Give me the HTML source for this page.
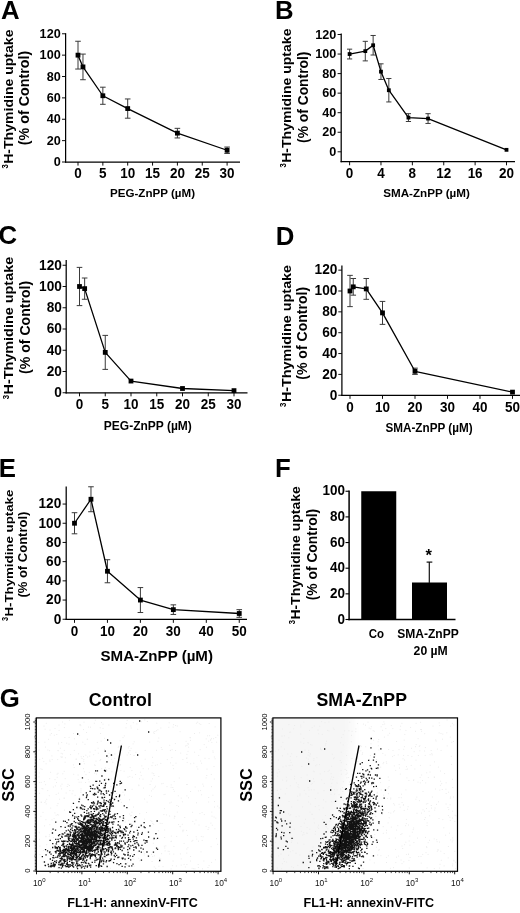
<!DOCTYPE html>
<html lang="en"><head><meta charset="utf-8"><title>Figure</title>
<style>html,body{margin:0;padding:0;background:#fff}body{width:520px;height:913px;overflow:hidden}svg{display:block;will-change:transform;filter:blur(0.35px)}text{font-family:'Liberation Sans', Arial, Helvetica, sans-serif}</style></head><body>
<svg width="520" height="913" viewBox="0 0 520 913">
<rect width="520" height="913" fill="#fff"/>
<g id="panelA">
<text transform="translate(1 18.5) scale(0.98 1)" font-size="26.3" font-weight="bold" text-anchor="start" fill="#000">A</text>
<line x1="65.6" y1="33.17" x2="65.6" y2="162.62" stroke="#000" stroke-width="1.25" stroke-linecap="butt"/>
<line x1="64.97" y1="162" x2="240" y2="162" stroke="#000" stroke-width="1.25" stroke-linecap="butt"/>
<line x1="62" y1="162" x2="65.6" y2="162" stroke="#000" stroke-width="0.95" stroke-linecap="butt"/>
<text transform="translate(60.7 166) scale(0.95 1)" font-size="13.3" font-weight="bold" text-anchor="end" fill="#000">0</text>
<line x1="62" y1="140.63" x2="65.6" y2="140.63" stroke="#000" stroke-width="0.95" stroke-linecap="butt"/>
<text transform="translate(60.7 144.63) scale(0.95 1)" font-size="13.3" font-weight="bold" text-anchor="end" fill="#000">20</text>
<line x1="62" y1="119.26" x2="65.6" y2="119.26" stroke="#000" stroke-width="0.95" stroke-linecap="butt"/>
<text transform="translate(60.7 123.26) scale(0.95 1)" font-size="13.3" font-weight="bold" text-anchor="end" fill="#000">40</text>
<line x1="62" y1="97.89" x2="65.6" y2="97.89" stroke="#000" stroke-width="0.95" stroke-linecap="butt"/>
<text transform="translate(60.7 101.89) scale(0.95 1)" font-size="13.3" font-weight="bold" text-anchor="end" fill="#000">60</text>
<line x1="62" y1="76.52" x2="65.6" y2="76.52" stroke="#000" stroke-width="0.95" stroke-linecap="butt"/>
<text transform="translate(60.7 80.52) scale(0.95 1)" font-size="13.3" font-weight="bold" text-anchor="end" fill="#000">80</text>
<line x1="62" y1="55.15" x2="65.6" y2="55.15" stroke="#000" stroke-width="0.95" stroke-linecap="butt"/>
<text transform="translate(60.7 59.15) scale(0.95 1)" font-size="13.3" font-weight="bold" text-anchor="end" fill="#000">100</text>
<line x1="62" y1="33.78" x2="65.6" y2="33.78" stroke="#000" stroke-width="0.95" stroke-linecap="butt"/>
<text transform="translate(60.7 37.78) scale(0.95 1)" font-size="13.3" font-weight="bold" text-anchor="end" fill="#000">120</text>
<line x1="78" y1="162" x2="78" y2="165.6" stroke="#000" stroke-width="0.95" stroke-linecap="butt"/>
<text transform="translate(78 178.3) scale(0.95 1)" font-size="14.2" font-weight="bold" text-anchor="middle" fill="#000">0</text>
<line x1="102.85" y1="162" x2="102.85" y2="165.6" stroke="#000" stroke-width="0.95" stroke-linecap="butt"/>
<text transform="translate(102.85 178.3) scale(0.95 1)" font-size="14.2" font-weight="bold" text-anchor="middle" fill="#000">5</text>
<line x1="127.7" y1="162" x2="127.7" y2="165.6" stroke="#000" stroke-width="0.95" stroke-linecap="butt"/>
<text transform="translate(127.7 178.3) scale(0.95 1)" font-size="14.2" font-weight="bold" text-anchor="middle" fill="#000">10</text>
<line x1="152.55" y1="162" x2="152.55" y2="165.6" stroke="#000" stroke-width="0.95" stroke-linecap="butt"/>
<text transform="translate(152.55 178.3) scale(0.95 1)" font-size="14.2" font-weight="bold" text-anchor="middle" fill="#000">15</text>
<line x1="177.4" y1="162" x2="177.4" y2="165.6" stroke="#000" stroke-width="0.95" stroke-linecap="butt"/>
<text transform="translate(177.4 178.3) scale(0.95 1)" font-size="14.2" font-weight="bold" text-anchor="middle" fill="#000">20</text>
<line x1="202.25" y1="162" x2="202.25" y2="165.6" stroke="#000" stroke-width="0.95" stroke-linecap="butt"/>
<text transform="translate(202.25 178.3) scale(0.95 1)" font-size="14.2" font-weight="bold" text-anchor="middle" fill="#000">25</text>
<line x1="227.1" y1="162" x2="227.1" y2="165.6" stroke="#000" stroke-width="0.95" stroke-linecap="butt"/>
<text transform="translate(227.1 178.3) scale(0.95 1)" font-size="14.2" font-weight="bold" text-anchor="middle" fill="#000">30</text>
<line x1="78" y1="41.26" x2="78" y2="69.04" stroke="#3a3a3a" stroke-width="1" stroke-linecap="butt"/>
<line x1="75.2" y1="41.26" x2="80.8" y2="41.26" stroke="#3a3a3a" stroke-width="1" stroke-linecap="butt"/>
<line x1="75.2" y1="69.04" x2="80.8" y2="69.04" stroke="#3a3a3a" stroke-width="1" stroke-linecap="butt"/>
<line x1="82.97" y1="54.08" x2="82.97" y2="79.73" stroke="#3a3a3a" stroke-width="1" stroke-linecap="butt"/>
<line x1="80.17" y1="54.08" x2="85.77" y2="54.08" stroke="#3a3a3a" stroke-width="1" stroke-linecap="butt"/>
<line x1="80.17" y1="79.73" x2="85.77" y2="79.73" stroke="#3a3a3a" stroke-width="1" stroke-linecap="butt"/>
<line x1="102.85" y1="87.2" x2="102.85" y2="104.3" stroke="#3a3a3a" stroke-width="1" stroke-linecap="butt"/>
<line x1="100.05" y1="87.2" x2="105.65" y2="87.2" stroke="#3a3a3a" stroke-width="1" stroke-linecap="butt"/>
<line x1="100.05" y1="104.3" x2="105.65" y2="104.3" stroke="#3a3a3a" stroke-width="1" stroke-linecap="butt"/>
<line x1="127.7" y1="98.96" x2="127.7" y2="118.19" stroke="#3a3a3a" stroke-width="1" stroke-linecap="butt"/>
<line x1="124.9" y1="98.96" x2="130.5" y2="98.96" stroke="#3a3a3a" stroke-width="1" stroke-linecap="butt"/>
<line x1="124.9" y1="118.19" x2="130.5" y2="118.19" stroke="#3a3a3a" stroke-width="1" stroke-linecap="butt"/>
<line x1="177.4" y1="128.34" x2="177.4" y2="137.96" stroke="#3a3a3a" stroke-width="1" stroke-linecap="butt"/>
<line x1="174.6" y1="128.34" x2="180.2" y2="128.34" stroke="#3a3a3a" stroke-width="1" stroke-linecap="butt"/>
<line x1="174.6" y1="137.96" x2="180.2" y2="137.96" stroke="#3a3a3a" stroke-width="1" stroke-linecap="butt"/>
<line x1="227.1" y1="147.04" x2="227.1" y2="153.45" stroke="#3a3a3a" stroke-width="1" stroke-linecap="butt"/>
<line x1="224.3" y1="147.04" x2="229.9" y2="147.04" stroke="#3a3a3a" stroke-width="1" stroke-linecap="butt"/>
<line x1="224.3" y1="153.45" x2="229.9" y2="153.45" stroke="#3a3a3a" stroke-width="1" stroke-linecap="butt"/>
<polyline points="78,55.15 82.97,66.9 102.85,95.75 127.7,108.58 177.4,133.15 227.1,150.25" fill="none" stroke="#000" stroke-width="1.3" stroke-linejoin="round"/>
<rect x="75.6" y="52.75" width="4.8" height="4.8" fill="#000"/>
<rect x="80.57" y="64.5" width="4.8" height="4.8" fill="#000"/>
<rect x="100.45" y="93.35" width="4.8" height="4.8" fill="#000"/>
<rect x="125.3" y="106.17" width="4.8" height="4.8" fill="#000"/>
<rect x="175" y="130.75" width="4.8" height="4.8" fill="#000"/>
<rect x="224.7" y="147.85" width="4.8" height="4.8" fill="#000"/>
<text transform="translate(8.1 168.5) scale(1 1) rotate(-90)" font-size="8.8" font-weight="bold" text-anchor="start" fill="#000" textLength="4.3" lengthAdjust="spacingAndGlyphs">3</text>
<text transform="translate(12.8 163.8) scale(0.87 1) rotate(-90)" font-size="14" font-weight="bold" text-anchor="start" fill="#000" textLength="134.3" lengthAdjust="spacingAndGlyphs">H-Thymidine uptake</text>
<text transform="translate(28.8 145.2) scale(0.98 1) rotate(-90)" font-size="14" font-weight="bold" text-anchor="start" fill="#000" textLength="94.5" lengthAdjust="spacingAndGlyphs">(% of Control)</text>
<text transform="translate(110 197) scale(1 1)" font-size="11.7" font-weight="bold" text-anchor="start" fill="#000" textLength="85" lengthAdjust="spacingAndGlyphs">PEG-ZnPP (µM)</text>
</g>
<g id="panelB">
<text transform="translate(274.9 18.5) scale(0.98 1)" font-size="26.3" font-weight="bold" text-anchor="start" fill="#000">B</text>
<line x1="341.2" y1="33.58" x2="341.2" y2="162.32" stroke="#000" stroke-width="1.25" stroke-linecap="butt"/>
<line x1="340.57" y1="161.7" x2="515" y2="161.7" stroke="#000" stroke-width="1.25" stroke-linecap="butt"/>
<line x1="337.6" y1="151.8" x2="341.2" y2="151.8" stroke="#000" stroke-width="0.95" stroke-linecap="butt"/>
<text transform="translate(336.3 155.8) scale(0.95 1)" font-size="13.3" font-weight="bold" text-anchor="end" fill="#000">0</text>
<line x1="337.6" y1="132.25" x2="341.2" y2="132.25" stroke="#000" stroke-width="0.95" stroke-linecap="butt"/>
<text transform="translate(336.3 136.25) scale(0.95 1)" font-size="13.3" font-weight="bold" text-anchor="end" fill="#000">20</text>
<line x1="337.6" y1="112.7" x2="341.2" y2="112.7" stroke="#000" stroke-width="0.95" stroke-linecap="butt"/>
<text transform="translate(336.3 116.7) scale(0.95 1)" font-size="13.3" font-weight="bold" text-anchor="end" fill="#000">40</text>
<line x1="337.6" y1="93.15" x2="341.2" y2="93.15" stroke="#000" stroke-width="0.95" stroke-linecap="butt"/>
<text transform="translate(336.3 97.15) scale(0.95 1)" font-size="13.3" font-weight="bold" text-anchor="end" fill="#000">60</text>
<line x1="337.6" y1="73.6" x2="341.2" y2="73.6" stroke="#000" stroke-width="0.95" stroke-linecap="butt"/>
<text transform="translate(336.3 77.6) scale(0.95 1)" font-size="13.3" font-weight="bold" text-anchor="end" fill="#000">80</text>
<line x1="337.6" y1="54.05" x2="341.2" y2="54.05" stroke="#000" stroke-width="0.95" stroke-linecap="butt"/>
<text transform="translate(336.3 58.05) scale(0.95 1)" font-size="13.3" font-weight="bold" text-anchor="end" fill="#000">100</text>
<line x1="337.6" y1="34.5" x2="341.2" y2="34.5" stroke="#000" stroke-width="0.95" stroke-linecap="butt"/>
<text transform="translate(336.3 38.5) scale(0.95 1)" font-size="13.3" font-weight="bold" text-anchor="end" fill="#000">120</text>
<line x1="349.6" y1="161.7" x2="349.6" y2="165.3" stroke="#000" stroke-width="0.95" stroke-linecap="butt"/>
<text transform="translate(349.6 178.3) scale(0.95 1)" font-size="14.2" font-weight="bold" text-anchor="middle" fill="#000">0</text>
<line x1="380.98" y1="161.7" x2="380.98" y2="165.3" stroke="#000" stroke-width="0.95" stroke-linecap="butt"/>
<text transform="translate(380.98 178.3) scale(0.95 1)" font-size="14.2" font-weight="bold" text-anchor="middle" fill="#000">4</text>
<line x1="412.36" y1="161.7" x2="412.36" y2="165.3" stroke="#000" stroke-width="0.95" stroke-linecap="butt"/>
<text transform="translate(412.36 178.3) scale(0.95 1)" font-size="14.2" font-weight="bold" text-anchor="middle" fill="#000">8</text>
<line x1="443.74" y1="161.7" x2="443.74" y2="165.3" stroke="#000" stroke-width="0.95" stroke-linecap="butt"/>
<text transform="translate(443.74 178.3) scale(0.95 1)" font-size="14.2" font-weight="bold" text-anchor="middle" fill="#000">12</text>
<line x1="475.12" y1="161.7" x2="475.12" y2="165.3" stroke="#000" stroke-width="0.95" stroke-linecap="butt"/>
<text transform="translate(475.12 178.3) scale(0.95 1)" font-size="14.2" font-weight="bold" text-anchor="middle" fill="#000">16</text>
<line x1="506.5" y1="161.7" x2="506.5" y2="165.3" stroke="#000" stroke-width="0.95" stroke-linecap="butt"/>
<text transform="translate(506.5 178.3) scale(0.95 1)" font-size="14.2" font-weight="bold" text-anchor="middle" fill="#000">20</text>
<line x1="349.6" y1="49.16" x2="349.6" y2="58.94" stroke="#3a3a3a" stroke-width="1" stroke-linecap="butt"/>
<line x1="347" y1="49.16" x2="352.2" y2="49.16" stroke="#3a3a3a" stroke-width="1" stroke-linecap="butt"/>
<line x1="347" y1="58.94" x2="352.2" y2="58.94" stroke="#3a3a3a" stroke-width="1" stroke-linecap="butt"/>
<line x1="365.29" y1="41.34" x2="365.29" y2="60.89" stroke="#3a3a3a" stroke-width="1" stroke-linecap="butt"/>
<line x1="362.69" y1="41.34" x2="367.89" y2="41.34" stroke="#3a3a3a" stroke-width="1" stroke-linecap="butt"/>
<line x1="362.69" y1="60.89" x2="367.89" y2="60.89" stroke="#3a3a3a" stroke-width="1" stroke-linecap="butt"/>
<line x1="373.14" y1="35.48" x2="373.14" y2="55.03" stroke="#3a3a3a" stroke-width="1" stroke-linecap="butt"/>
<line x1="370.54" y1="35.48" x2="375.74" y2="35.48" stroke="#3a3a3a" stroke-width="1" stroke-linecap="butt"/>
<line x1="370.54" y1="55.03" x2="375.74" y2="55.03" stroke="#3a3a3a" stroke-width="1" stroke-linecap="butt"/>
<line x1="380.98" y1="63.83" x2="380.98" y2="79.47" stroke="#3a3a3a" stroke-width="1" stroke-linecap="butt"/>
<line x1="378.38" y1="63.83" x2="383.58" y2="63.83" stroke="#3a3a3a" stroke-width="1" stroke-linecap="butt"/>
<line x1="378.38" y1="79.47" x2="383.58" y2="79.47" stroke="#3a3a3a" stroke-width="1" stroke-linecap="butt"/>
<line x1="388.83" y1="78.49" x2="388.83" y2="101.95" stroke="#3a3a3a" stroke-width="1" stroke-linecap="butt"/>
<line x1="386.23" y1="78.49" x2="391.43" y2="78.49" stroke="#3a3a3a" stroke-width="1" stroke-linecap="butt"/>
<line x1="386.23" y1="101.95" x2="391.43" y2="101.95" stroke="#3a3a3a" stroke-width="1" stroke-linecap="butt"/>
<line x1="408.44" y1="113.68" x2="408.44" y2="121.5" stroke="#3a3a3a" stroke-width="1" stroke-linecap="butt"/>
<line x1="405.84" y1="113.68" x2="411.04" y2="113.68" stroke="#3a3a3a" stroke-width="1" stroke-linecap="butt"/>
<line x1="405.84" y1="121.5" x2="411.04" y2="121.5" stroke="#3a3a3a" stroke-width="1" stroke-linecap="butt"/>
<line x1="428.05" y1="113.68" x2="428.05" y2="123.45" stroke="#3a3a3a" stroke-width="1" stroke-linecap="butt"/>
<line x1="425.45" y1="113.68" x2="430.65" y2="113.68" stroke="#3a3a3a" stroke-width="1" stroke-linecap="butt"/>
<line x1="425.45" y1="123.45" x2="430.65" y2="123.45" stroke="#3a3a3a" stroke-width="1" stroke-linecap="butt"/>
<polyline points="349.6,54.05 365.29,51.12 373.14,45.25 380.98,71.65 388.83,90.22 408.44,117.59 428.05,118.57 506.5,149.84" fill="none" stroke="#000" stroke-width="1.3" stroke-linejoin="round"/>
<rect x="347.7" y="52.15" width="3.8" height="3.8" fill="#000"/>
<rect x="363.39" y="49.22" width="3.8" height="3.8" fill="#000"/>
<rect x="371.24" y="43.35" width="3.8" height="3.8" fill="#000"/>
<rect x="379.08" y="69.75" width="3.8" height="3.8" fill="#000"/>
<rect x="386.93" y="88.32" width="3.8" height="3.8" fill="#000"/>
<rect x="406.54" y="115.69" width="3.8" height="3.8" fill="#000"/>
<rect x="426.15" y="116.67" width="3.8" height="3.8" fill="#000"/>
<rect x="504.6" y="147.94" width="3.8" height="3.8" fill="#000"/>
<text transform="translate(286.3 167.5) scale(1 1) rotate(-90)" font-size="8.8" font-weight="bold" text-anchor="start" fill="#000" textLength="4.3" lengthAdjust="spacingAndGlyphs">3</text>
<text transform="translate(291 162.8) scale(0.87 1) rotate(-90)" font-size="14" font-weight="bold" text-anchor="start" fill="#000" textLength="134.3" lengthAdjust="spacingAndGlyphs">H-Thymidine uptake</text>
<text transform="translate(307.6 142.9) scale(0.98 1) rotate(-90)" font-size="14" font-weight="bold" text-anchor="start" fill="#000" textLength="91.3" lengthAdjust="spacingAndGlyphs">(% of Control)</text>
<text transform="translate(383.2 197.2) scale(1 1)" font-size="11.8" font-weight="bold" text-anchor="start" fill="#000" textLength="86.7" lengthAdjust="spacingAndGlyphs">SMA-ZnPP (µM)</text>
</g>
<g id="panelC">
<text transform="translate(-1.5 244.4) scale(0.98 1)" font-size="26.3" font-weight="bold" text-anchor="start" fill="#000">C</text>
<line x1="66.2" y1="259.88" x2="66.2" y2="393.38" stroke="#000" stroke-width="1.25" stroke-linecap="butt"/>
<line x1="65.58" y1="392.75" x2="247.5" y2="392.75" stroke="#000" stroke-width="1.25" stroke-linecap="butt"/>
<line x1="62.6" y1="392.75" x2="66.2" y2="392.75" stroke="#000" stroke-width="0.95" stroke-linecap="butt"/>
<text transform="translate(61.9 397.08) scale(0.95 1)" font-size="14.4" font-weight="bold" text-anchor="end" fill="#000">0</text>
<line x1="62.6" y1="371.5" x2="66.2" y2="371.5" stroke="#000" stroke-width="0.95" stroke-linecap="butt"/>
<text transform="translate(61.9 375.83) scale(0.95 1)" font-size="14.4" font-weight="bold" text-anchor="end" fill="#000">20</text>
<line x1="62.6" y1="350.25" x2="66.2" y2="350.25" stroke="#000" stroke-width="0.95" stroke-linecap="butt"/>
<text transform="translate(61.9 354.58) scale(0.95 1)" font-size="14.4" font-weight="bold" text-anchor="end" fill="#000">40</text>
<line x1="62.6" y1="329" x2="66.2" y2="329" stroke="#000" stroke-width="0.95" stroke-linecap="butt"/>
<text transform="translate(61.9 333.33) scale(0.95 1)" font-size="14.4" font-weight="bold" text-anchor="end" fill="#000">60</text>
<line x1="62.6" y1="307.75" x2="66.2" y2="307.75" stroke="#000" stroke-width="0.95" stroke-linecap="butt"/>
<text transform="translate(61.9 312.08) scale(0.95 1)" font-size="14.4" font-weight="bold" text-anchor="end" fill="#000">80</text>
<line x1="62.6" y1="286.5" x2="66.2" y2="286.5" stroke="#000" stroke-width="0.95" stroke-linecap="butt"/>
<text transform="translate(61.9 290.83) scale(0.95 1)" font-size="14.4" font-weight="bold" text-anchor="end" fill="#000">100</text>
<line x1="62.6" y1="265.25" x2="66.2" y2="265.25" stroke="#000" stroke-width="0.95" stroke-linecap="butt"/>
<text transform="translate(61.9 269.58) scale(0.95 1)" font-size="14.4" font-weight="bold" text-anchor="end" fill="#000">120</text>
<line x1="79.5" y1="392.75" x2="79.5" y2="396.35" stroke="#000" stroke-width="0.95" stroke-linecap="butt"/>
<text transform="translate(79.5 409) scale(0.95 1)" font-size="14.2" font-weight="bold" text-anchor="middle" fill="#000">0</text>
<line x1="105.25" y1="392.75" x2="105.25" y2="396.35" stroke="#000" stroke-width="0.95" stroke-linecap="butt"/>
<text transform="translate(105.25 409) scale(0.95 1)" font-size="14.2" font-weight="bold" text-anchor="middle" fill="#000">5</text>
<line x1="131" y1="392.75" x2="131" y2="396.35" stroke="#000" stroke-width="0.95" stroke-linecap="butt"/>
<text transform="translate(131 409) scale(0.95 1)" font-size="14.2" font-weight="bold" text-anchor="middle" fill="#000">10</text>
<line x1="156.75" y1="392.75" x2="156.75" y2="396.35" stroke="#000" stroke-width="0.95" stroke-linecap="butt"/>
<text transform="translate(156.75 409) scale(0.95 1)" font-size="14.2" font-weight="bold" text-anchor="middle" fill="#000">15</text>
<line x1="182.5" y1="392.75" x2="182.5" y2="396.35" stroke="#000" stroke-width="0.95" stroke-linecap="butt"/>
<text transform="translate(182.5 409) scale(0.95 1)" font-size="14.2" font-weight="bold" text-anchor="middle" fill="#000">20</text>
<line x1="208.25" y1="392.75" x2="208.25" y2="396.35" stroke="#000" stroke-width="0.95" stroke-linecap="butt"/>
<text transform="translate(208.25 409) scale(0.95 1)" font-size="14.2" font-weight="bold" text-anchor="middle" fill="#000">25</text>
<line x1="234" y1="392.75" x2="234" y2="396.35" stroke="#000" stroke-width="0.95" stroke-linecap="butt"/>
<text transform="translate(234 409) scale(0.95 1)" font-size="14.2" font-weight="bold" text-anchor="middle" fill="#000">30</text>
<line x1="79.5" y1="267.38" x2="79.5" y2="305.62" stroke="#3a3a3a" stroke-width="1" stroke-linecap="butt"/>
<line x1="76.7" y1="267.38" x2="82.3" y2="267.38" stroke="#3a3a3a" stroke-width="1" stroke-linecap="butt"/>
<line x1="76.7" y1="305.62" x2="82.3" y2="305.62" stroke="#3a3a3a" stroke-width="1" stroke-linecap="butt"/>
<line x1="84.65" y1="278" x2="84.65" y2="299.25" stroke="#3a3a3a" stroke-width="1" stroke-linecap="butt"/>
<line x1="81.85" y1="278" x2="87.45" y2="278" stroke="#3a3a3a" stroke-width="1" stroke-linecap="butt"/>
<line x1="81.85" y1="299.25" x2="87.45" y2="299.25" stroke="#3a3a3a" stroke-width="1" stroke-linecap="butt"/>
<line x1="105.25" y1="335.38" x2="105.25" y2="369.38" stroke="#3a3a3a" stroke-width="1" stroke-linecap="butt"/>
<line x1="102.45" y1="335.38" x2="108.05" y2="335.38" stroke="#3a3a3a" stroke-width="1" stroke-linecap="butt"/>
<line x1="102.45" y1="369.38" x2="108.05" y2="369.38" stroke="#3a3a3a" stroke-width="1" stroke-linecap="butt"/>
<polyline points="79.5,286.5 84.65,288.62 105.25,352.38 131,381.06 182.5,388.5 234,390.62" fill="none" stroke="#000" stroke-width="1.3" stroke-linejoin="round"/>
<rect x="77.1" y="284.1" width="4.8" height="4.8" fill="#000"/>
<rect x="82.25" y="286.23" width="4.8" height="4.8" fill="#000"/>
<rect x="102.85" y="349.98" width="4.8" height="4.8" fill="#000"/>
<rect x="128.6" y="378.66" width="4.8" height="4.8" fill="#000"/>
<rect x="180.1" y="386.1" width="4.8" height="4.8" fill="#000"/>
<rect x="231.6" y="388.23" width="4.8" height="4.8" fill="#000"/>
<text transform="translate(8.5 399.3) scale(1 1) rotate(-90)" font-size="8.99" font-weight="bold" text-anchor="start" fill="#000" textLength="4.39" lengthAdjust="spacingAndGlyphs">3</text>
<text transform="translate(13.3 394.51) scale(0.87 1) rotate(-90)" font-size="14.3" font-weight="bold" text-anchor="start" fill="#000" textLength="137.71" lengthAdjust="spacingAndGlyphs">H-Thymidine uptake</text>
<text transform="translate(30.4 373.9) scale(0.98 1) rotate(-90)" font-size="14" font-weight="bold" text-anchor="start" fill="#000" textLength="93" lengthAdjust="spacingAndGlyphs">(% of Control)</text>
<text transform="translate(103.8 429.6) scale(1 1)" font-size="11.9" font-weight="bold" text-anchor="start" fill="#000" textLength="88" lengthAdjust="spacingAndGlyphs">PEG-ZnPP (µM)</text>
</g>
<g id="panelD">
<text transform="translate(275.7 244.6) scale(0.98 1)" font-size="26.3" font-weight="bold" text-anchor="start" fill="#000">D</text>
<line x1="341.9" y1="265.38" x2="341.9" y2="395.88" stroke="#000" stroke-width="1.25" stroke-linecap="butt"/>
<line x1="341.27" y1="395.25" x2="520" y2="395.25" stroke="#000" stroke-width="1.25" stroke-linecap="butt"/>
<line x1="338.3" y1="395.25" x2="341.9" y2="395.25" stroke="#000" stroke-width="0.95" stroke-linecap="butt"/>
<text transform="translate(337.4 399.58) scale(0.95 1)" font-size="14.4" font-weight="bold" text-anchor="end" fill="#000">0</text>
<line x1="338.3" y1="374.4" x2="341.9" y2="374.4" stroke="#000" stroke-width="0.95" stroke-linecap="butt"/>
<text transform="translate(337.4 378.73) scale(0.95 1)" font-size="14.4" font-weight="bold" text-anchor="end" fill="#000">20</text>
<line x1="338.3" y1="353.55" x2="341.9" y2="353.55" stroke="#000" stroke-width="0.95" stroke-linecap="butt"/>
<text transform="translate(337.4 357.88) scale(0.95 1)" font-size="14.4" font-weight="bold" text-anchor="end" fill="#000">40</text>
<line x1="338.3" y1="332.7" x2="341.9" y2="332.7" stroke="#000" stroke-width="0.95" stroke-linecap="butt"/>
<text transform="translate(337.4 337.03) scale(0.95 1)" font-size="14.4" font-weight="bold" text-anchor="end" fill="#000">60</text>
<line x1="338.3" y1="311.85" x2="341.9" y2="311.85" stroke="#000" stroke-width="0.95" stroke-linecap="butt"/>
<text transform="translate(337.4 316.18) scale(0.95 1)" font-size="14.4" font-weight="bold" text-anchor="end" fill="#000">80</text>
<line x1="338.3" y1="291" x2="341.9" y2="291" stroke="#000" stroke-width="0.95" stroke-linecap="butt"/>
<text transform="translate(337.4 295.33) scale(0.95 1)" font-size="14.4" font-weight="bold" text-anchor="end" fill="#000">100</text>
<line x1="338.3" y1="270.15" x2="341.9" y2="270.15" stroke="#000" stroke-width="0.95" stroke-linecap="butt"/>
<text transform="translate(337.4 274.48) scale(0.95 1)" font-size="14.4" font-weight="bold" text-anchor="end" fill="#000">120</text>
<line x1="350" y1="395.25" x2="350" y2="398.85" stroke="#000" stroke-width="0.95" stroke-linecap="butt"/>
<text transform="translate(350 411.5) scale(0.95 1)" font-size="14.2" font-weight="bold" text-anchor="middle" fill="#000">0</text>
<line x1="382.5" y1="395.25" x2="382.5" y2="398.85" stroke="#000" stroke-width="0.95" stroke-linecap="butt"/>
<text transform="translate(382.5 411.5) scale(0.95 1)" font-size="14.2" font-weight="bold" text-anchor="middle" fill="#000">10</text>
<line x1="415" y1="395.25" x2="415" y2="398.85" stroke="#000" stroke-width="0.95" stroke-linecap="butt"/>
<text transform="translate(415 411.5) scale(0.95 1)" font-size="14.2" font-weight="bold" text-anchor="middle" fill="#000">20</text>
<line x1="447.5" y1="395.25" x2="447.5" y2="398.85" stroke="#000" stroke-width="0.95" stroke-linecap="butt"/>
<text transform="translate(447.5 411.5) scale(0.95 1)" font-size="14.2" font-weight="bold" text-anchor="middle" fill="#000">30</text>
<line x1="480" y1="395.25" x2="480" y2="398.85" stroke="#000" stroke-width="0.95" stroke-linecap="butt"/>
<text transform="translate(480 411.5) scale(0.95 1)" font-size="14.2" font-weight="bold" text-anchor="middle" fill="#000">40</text>
<line x1="512.5" y1="395.25" x2="512.5" y2="398.85" stroke="#000" stroke-width="0.95" stroke-linecap="butt"/>
<text transform="translate(512.5 411.5) scale(0.95 1)" font-size="14.2" font-weight="bold" text-anchor="middle" fill="#000">50</text>
<line x1="350" y1="275.36" x2="350" y2="306.64" stroke="#3a3a3a" stroke-width="1" stroke-linecap="butt"/>
<line x1="347.2" y1="275.36" x2="352.8" y2="275.36" stroke="#3a3a3a" stroke-width="1" stroke-linecap="butt"/>
<line x1="347.2" y1="306.64" x2="352.8" y2="306.64" stroke="#3a3a3a" stroke-width="1" stroke-linecap="butt"/>
<line x1="353.25" y1="278.49" x2="353.25" y2="295.17" stroke="#3a3a3a" stroke-width="1" stroke-linecap="butt"/>
<line x1="350.45" y1="278.49" x2="356.05" y2="278.49" stroke="#3a3a3a" stroke-width="1" stroke-linecap="butt"/>
<line x1="350.45" y1="295.17" x2="356.05" y2="295.17" stroke="#3a3a3a" stroke-width="1" stroke-linecap="butt"/>
<line x1="366.25" y1="278.49" x2="366.25" y2="299.34" stroke="#3a3a3a" stroke-width="1" stroke-linecap="butt"/>
<line x1="363.45" y1="278.49" x2="369.05" y2="278.49" stroke="#3a3a3a" stroke-width="1" stroke-linecap="butt"/>
<line x1="363.45" y1="299.34" x2="369.05" y2="299.34" stroke="#3a3a3a" stroke-width="1" stroke-linecap="butt"/>
<line x1="382.5" y1="301.42" x2="382.5" y2="324.36" stroke="#3a3a3a" stroke-width="1" stroke-linecap="butt"/>
<line x1="379.7" y1="301.42" x2="385.3" y2="301.42" stroke="#3a3a3a" stroke-width="1" stroke-linecap="butt"/>
<line x1="379.7" y1="324.36" x2="385.3" y2="324.36" stroke="#3a3a3a" stroke-width="1" stroke-linecap="butt"/>
<line x1="415" y1="368.14" x2="415" y2="374.4" stroke="#3a3a3a" stroke-width="1" stroke-linecap="butt"/>
<line x1="412.2" y1="368.14" x2="417.8" y2="368.14" stroke="#3a3a3a" stroke-width="1" stroke-linecap="butt"/>
<line x1="412.2" y1="374.4" x2="417.8" y2="374.4" stroke="#3a3a3a" stroke-width="1" stroke-linecap="butt"/>
<polyline points="350,291 353.25,286.83 366.25,288.91 382.5,312.89 415,371.27 512.5,392.12" fill="none" stroke="#000" stroke-width="1.3" stroke-linejoin="round"/>
<rect x="347.6" y="288.6" width="4.8" height="4.8" fill="#000"/>
<rect x="350.85" y="284.43" width="4.8" height="4.8" fill="#000"/>
<rect x="363.85" y="286.51" width="4.8" height="4.8" fill="#000"/>
<rect x="380.1" y="310.49" width="4.8" height="4.8" fill="#000"/>
<rect x="412.6" y="368.87" width="4.8" height="4.8" fill="#000"/>
<rect x="510.1" y="389.72" width="4.8" height="4.8" fill="#000"/>
<text transform="translate(285.9 406.9) scale(1 1) rotate(-90)" font-size="8.99" font-weight="bold" text-anchor="start" fill="#000" textLength="4.39" lengthAdjust="spacingAndGlyphs">3</text>
<text transform="translate(290.7 402.11) scale(0.87 1) rotate(-90)" font-size="14.3" font-weight="bold" text-anchor="start" fill="#000" textLength="137.21" lengthAdjust="spacingAndGlyphs">H-Thymidine uptake</text>
<text transform="translate(307.3 379.8) scale(0.98 1) rotate(-90)" font-size="14" font-weight="bold" text-anchor="start" fill="#000" textLength="93" lengthAdjust="spacingAndGlyphs">(% of Control)</text>
<text transform="translate(385.4 431.7) scale(1 1)" font-size="11.9" font-weight="bold" text-anchor="start" fill="#000" textLength="87.2" lengthAdjust="spacingAndGlyphs">SMA-ZnPP (µM)</text>
</g>
<g id="panelE">
<text transform="translate(-1.2 476.6) scale(0.98 1)" font-size="26.3" font-weight="bold" text-anchor="start" fill="#000">E</text>
<line x1="66.2" y1="486.38" x2="66.2" y2="619.88" stroke="#000" stroke-width="1.25" stroke-linecap="butt"/>
<line x1="65.58" y1="619.25" x2="247" y2="619.25" stroke="#000" stroke-width="1.25" stroke-linecap="butt"/>
<line x1="62.6" y1="619.25" x2="66.2" y2="619.25" stroke="#000" stroke-width="0.95" stroke-linecap="butt"/>
<text transform="translate(61.3 623.58) scale(0.95 1)" font-size="14.4" font-weight="bold" text-anchor="end" fill="#000">0</text>
<line x1="62.6" y1="600.05" x2="66.2" y2="600.05" stroke="#000" stroke-width="0.95" stroke-linecap="butt"/>
<text transform="translate(61.3 604.38) scale(0.95 1)" font-size="14.4" font-weight="bold" text-anchor="end" fill="#000">20</text>
<line x1="62.6" y1="580.85" x2="66.2" y2="580.85" stroke="#000" stroke-width="0.95" stroke-linecap="butt"/>
<text transform="translate(61.3 585.18) scale(0.95 1)" font-size="14.4" font-weight="bold" text-anchor="end" fill="#000">40</text>
<line x1="62.6" y1="561.65" x2="66.2" y2="561.65" stroke="#000" stroke-width="0.95" stroke-linecap="butt"/>
<text transform="translate(61.3 565.98) scale(0.95 1)" font-size="14.4" font-weight="bold" text-anchor="end" fill="#000">60</text>
<line x1="62.6" y1="542.45" x2="66.2" y2="542.45" stroke="#000" stroke-width="0.95" stroke-linecap="butt"/>
<text transform="translate(61.3 546.78) scale(0.95 1)" font-size="14.4" font-weight="bold" text-anchor="end" fill="#000">80</text>
<line x1="62.6" y1="523.25" x2="66.2" y2="523.25" stroke="#000" stroke-width="0.95" stroke-linecap="butt"/>
<text transform="translate(61.3 527.58) scale(0.95 1)" font-size="14.4" font-weight="bold" text-anchor="end" fill="#000">100</text>
<line x1="62.6" y1="504.05" x2="66.2" y2="504.05" stroke="#000" stroke-width="0.95" stroke-linecap="butt"/>
<text transform="translate(61.3 508.38) scale(0.95 1)" font-size="14.4" font-weight="bold" text-anchor="end" fill="#000">120</text>
<line x1="74.5" y1="619.25" x2="74.5" y2="622.85" stroke="#000" stroke-width="0.95" stroke-linecap="butt"/>
<text transform="translate(74.5 636) scale(0.95 1)" font-size="14.2" font-weight="bold" text-anchor="middle" fill="#000">0</text>
<line x1="107.45" y1="619.25" x2="107.45" y2="622.85" stroke="#000" stroke-width="0.95" stroke-linecap="butt"/>
<text transform="translate(107.45 636) scale(0.95 1)" font-size="14.2" font-weight="bold" text-anchor="middle" fill="#000">10</text>
<line x1="140.4" y1="619.25" x2="140.4" y2="622.85" stroke="#000" stroke-width="0.95" stroke-linecap="butt"/>
<text transform="translate(140.4 636) scale(0.95 1)" font-size="14.2" font-weight="bold" text-anchor="middle" fill="#000">20</text>
<line x1="173.35" y1="619.25" x2="173.35" y2="622.85" stroke="#000" stroke-width="0.95" stroke-linecap="butt"/>
<text transform="translate(173.35 636) scale(0.95 1)" font-size="14.2" font-weight="bold" text-anchor="middle" fill="#000">30</text>
<line x1="206.3" y1="619.25" x2="206.3" y2="622.85" stroke="#000" stroke-width="0.95" stroke-linecap="butt"/>
<text transform="translate(206.3 636) scale(0.95 1)" font-size="14.2" font-weight="bold" text-anchor="middle" fill="#000">40</text>
<line x1="239.25" y1="619.25" x2="239.25" y2="622.85" stroke="#000" stroke-width="0.95" stroke-linecap="butt"/>
<text transform="translate(239.25 636) scale(0.95 1)" font-size="14.2" font-weight="bold" text-anchor="middle" fill="#000">50</text>
<line x1="74.5" y1="512.69" x2="74.5" y2="533.81" stroke="#3a3a3a" stroke-width="1" stroke-linecap="butt"/>
<line x1="71.7" y1="512.69" x2="77.3" y2="512.69" stroke="#3a3a3a" stroke-width="1" stroke-linecap="butt"/>
<line x1="71.7" y1="533.81" x2="77.3" y2="533.81" stroke="#3a3a3a" stroke-width="1" stroke-linecap="butt"/>
<line x1="90.97" y1="486.77" x2="90.97" y2="511.73" stroke="#3a3a3a" stroke-width="1" stroke-linecap="butt"/>
<line x1="88.17" y1="486.77" x2="93.77" y2="486.77" stroke="#3a3a3a" stroke-width="1" stroke-linecap="butt"/>
<line x1="88.17" y1="511.73" x2="93.77" y2="511.73" stroke="#3a3a3a" stroke-width="1" stroke-linecap="butt"/>
<line x1="107.45" y1="559.73" x2="107.45" y2="582.77" stroke="#3a3a3a" stroke-width="1" stroke-linecap="butt"/>
<line x1="104.65" y1="559.73" x2="110.25" y2="559.73" stroke="#3a3a3a" stroke-width="1" stroke-linecap="butt"/>
<line x1="104.65" y1="582.77" x2="110.25" y2="582.77" stroke="#3a3a3a" stroke-width="1" stroke-linecap="butt"/>
<line x1="140.4" y1="587.57" x2="140.4" y2="612.53" stroke="#3a3a3a" stroke-width="1" stroke-linecap="butt"/>
<line x1="137.6" y1="587.57" x2="143.2" y2="587.57" stroke="#3a3a3a" stroke-width="1" stroke-linecap="butt"/>
<line x1="137.6" y1="612.53" x2="143.2" y2="612.53" stroke="#3a3a3a" stroke-width="1" stroke-linecap="butt"/>
<line x1="173.35" y1="604.85" x2="173.35" y2="614.45" stroke="#3a3a3a" stroke-width="1" stroke-linecap="butt"/>
<line x1="170.55" y1="604.85" x2="176.15" y2="604.85" stroke="#3a3a3a" stroke-width="1" stroke-linecap="butt"/>
<line x1="170.55" y1="614.45" x2="176.15" y2="614.45" stroke="#3a3a3a" stroke-width="1" stroke-linecap="butt"/>
<line x1="239.25" y1="609.65" x2="239.25" y2="617.33" stroke="#3a3a3a" stroke-width="1" stroke-linecap="butt"/>
<line x1="236.45" y1="609.65" x2="242.05" y2="609.65" stroke="#3a3a3a" stroke-width="1" stroke-linecap="butt"/>
<line x1="236.45" y1="617.33" x2="242.05" y2="617.33" stroke="#3a3a3a" stroke-width="1" stroke-linecap="butt"/>
<polyline points="74.5,523.25 90.97,499.25 107.45,571.25 140.4,600.05 173.35,609.65 239.25,613.49" fill="none" stroke="#000" stroke-width="1.3" stroke-linejoin="round"/>
<rect x="72.1" y="520.85" width="4.8" height="4.8" fill="#000"/>
<rect x="88.57" y="496.85" width="4.8" height="4.8" fill="#000"/>
<rect x="105.05" y="568.85" width="4.8" height="4.8" fill="#000"/>
<rect x="138" y="597.65" width="4.8" height="4.8" fill="#000"/>
<rect x="170.95" y="607.25" width="4.8" height="4.8" fill="#000"/>
<rect x="236.85" y="611.09" width="4.8" height="4.8" fill="#000"/>
<text transform="translate(8.04 621.1) scale(1 1) rotate(-90)" font-size="8.36" font-weight="bold" text-anchor="start" fill="#000" textLength="4.08" lengthAdjust="spacingAndGlyphs">3</text>
<text transform="translate(12.5 616.62) scale(0.85 1) rotate(-90)" font-size="13.3" font-weight="bold" text-anchor="start" fill="#000" textLength="127.02" lengthAdjust="spacingAndGlyphs">H-Thymidine uptake</text>
<text transform="translate(26.5 597.6) scale(0.95 1) rotate(-90)" font-size="13" font-weight="bold" text-anchor="start" fill="#000" textLength="86" lengthAdjust="spacingAndGlyphs">(% of Control)</text>
<text transform="translate(100.5 660.5) scale(1 1)" font-size="15.2" font-weight="bold" text-anchor="start" fill="#000" textLength="112.5" lengthAdjust="spacingAndGlyphs">SMA-ZnPP (µM)</text>
</g>
<g id="panelF">
<text transform="translate(274.9 476.6) scale(0.98 1)" font-size="26.3" font-weight="bold" text-anchor="start" fill="#000">F</text>
<line x1="349.1" y1="490.5" x2="349.1" y2="620.25" stroke="#000" stroke-width="1.5" stroke-linecap="butt"/>
<line x1="348.35" y1="619.5" x2="455.5" y2="619.5" stroke="#000" stroke-width="1.5" stroke-linecap="butt"/>
<line x1="345.5" y1="619.5" x2="349.1" y2="619.5" stroke="#000" stroke-width="1.1" stroke-linecap="butt"/>
<text transform="translate(344.9 623.7) scale(0.95 1)" font-size="14.2" font-weight="bold" text-anchor="end" fill="#000">0</text>
<line x1="345.5" y1="593.85" x2="349.1" y2="593.85" stroke="#000" stroke-width="1.1" stroke-linecap="butt"/>
<text transform="translate(344.9 598.05) scale(0.95 1)" font-size="14.2" font-weight="bold" text-anchor="end" fill="#000">20</text>
<line x1="345.5" y1="568.2" x2="349.1" y2="568.2" stroke="#000" stroke-width="1.1" stroke-linecap="butt"/>
<text transform="translate(344.9 572.4) scale(0.95 1)" font-size="14.2" font-weight="bold" text-anchor="end" fill="#000">40</text>
<line x1="345.5" y1="542.55" x2="349.1" y2="542.55" stroke="#000" stroke-width="1.1" stroke-linecap="butt"/>
<text transform="translate(344.9 546.75) scale(0.95 1)" font-size="14.2" font-weight="bold" text-anchor="end" fill="#000">60</text>
<line x1="345.5" y1="516.9" x2="349.1" y2="516.9" stroke="#000" stroke-width="1.1" stroke-linecap="butt"/>
<text transform="translate(344.9 521.1) scale(0.95 1)" font-size="14.2" font-weight="bold" text-anchor="end" fill="#000">80</text>
<line x1="345.5" y1="491.25" x2="349.1" y2="491.25" stroke="#000" stroke-width="1.1" stroke-linecap="butt"/>
<text transform="translate(344.9 495.45) scale(0.95 1)" font-size="14.2" font-weight="bold" text-anchor="end" fill="#000">100</text>
<rect x="361.25" y="491.25" width="35" height="128.65" fill="#000"/>
<rect x="412" y="582.5" width="35" height="37.4" fill="#000"/>
<line x1="429.3" y1="562" x2="429.3" y2="583" stroke="#111" stroke-width="1.2" stroke-linecap="butt"/>
<line x1="426.6" y1="562.1" x2="432.3" y2="562.1" stroke="#111" stroke-width="1.2" stroke-linecap="butt"/>
<text transform="translate(428.7 560.8) scale(1 1)" font-size="16.5" font-weight="bold" text-anchor="middle" fill="#000">*</text>
<text transform="translate(368.7 638.3) scale(1 1)" font-size="12.1" font-weight="bold" text-anchor="start" fill="#000" textLength="15.3" lengthAdjust="spacingAndGlyphs">Co</text>
<text transform="translate(397.2 638.3) scale(1 1)" font-size="12.1" font-weight="bold" text-anchor="start" fill="#000" textLength="61.5" lengthAdjust="spacingAndGlyphs">SMA-ZnPP</text>
<text transform="translate(413.6 654.5) scale(1 1)" font-size="12.1" font-weight="bold" text-anchor="start" fill="#000" textLength="34.2" lengthAdjust="spacingAndGlyphs">20 µM</text>
<text transform="translate(295.2 624.3) scale(1 1) rotate(-90)" font-size="8.8" font-weight="bold" text-anchor="start" fill="#000" textLength="4.3" lengthAdjust="spacingAndGlyphs">3</text>
<text transform="translate(299.9 619.6) scale(0.87 1) rotate(-90)" font-size="14" font-weight="bold" text-anchor="start" fill="#000" textLength="133.3" lengthAdjust="spacingAndGlyphs">H-Thymidine uptake</text>
<text transform="translate(316.8 600.3) scale(0.98 1) rotate(-90)" font-size="14" font-weight="bold" text-anchor="start" fill="#000" textLength="91.5" lengthAdjust="spacingAndGlyphs">(% of Control)</text>
</g>
<g id="panelG">
<text transform="translate(-0.3 706.5) scale(0.98 1)" font-size="26.3" font-weight="bold" text-anchor="start" fill="#000">G</text>
<path d="M96.8 742.4h1M155.9 730.7h1M135.1 774.5h1M48.8 795.7h1M45.1 784.7h1M50.9 733.5h1M115.0 843.4h1M60.7 753.3h1M151.6 861.5h1M142.5 779.2h1M214.6 726.9h1M193.3 763.2h1M64.4 737.5h1M94.0 841.8h1M70.9 806.8h1M153.7 775.5h1M137.2 729.3h1M49.1 750.7h1M161.2 783.8h1M95.0 807.4h1M120.1 764.7h1M181.8 824.3h1M82.4 805.7h1M133.2 850.6h1M170.0 762.9h1M215.3 737.5h1M113.8 833.0h1M65.7 793.0h1M45.4 819.7h1M176.4 805.5h1M196.4 766.8h1M163.9 808.7h1M143.0 788.1h1M190.0 861.0h1M123.9 819.1h1M49.3 824.7h1M155.2 868.3h1M186.7 762.4h1M108.0 819.8h1M42.4 788.9h1M68.6 737.4h1M48.9 834.7h1M61.7 756.9h1M108.9 850.1h1M52.9 787.0h1M137.5 851.9h1M186.3 849.0h1M88.6 781.9h1M103.1 852.0h1M211.3 742.4h1M70.1 754.6h1M80.4 792.4h1M144.7 759.2h1M39.0 782.5h1M105.0 804.5h1M210.4 823.1h1M131.4 812.2h1M160.4 728.0h1M200.8 836.4h1M196.2 839.1h1M109.2 779.5h1M57.0 814.7h1M49.5 730.0h1M76.0 744.1h1M99.7 727.8h1M38.3 742.5h1M56.6 774.2h1M42.9 850.5h1M149.2 742.1h1M83.9 771.8h1M104.1 738.3h1M191.6 868.3h1M122.5 792.2h1M53.8 735.2h1M100.2 759.5h1M188.0 744.0h1M42.5 862.0h1M133.7 741.8h1M136.4 723.9h1M133.7 866.1h1M194.2 823.9h1M85.5 774.7h1M68.5 835.2h1M134.5 836.3h1M97.8 753.2h1M184.9 867.0h1M192.3 840.3h1M186.1 830.4h1M79.2 797.2h1M102.5 724.2h1M43.3 761.6h1M85.1 823.4h1M211.0 786.7h1M207.5 867.5h1M210.8 774.4h1M78.1 753.8h1M73.8 750.4h1M151.0 854.4h1M190.1 791.5h1M156.2 839.4h1M53.6 818.6h1M202.6 836.8h1M173.8 791.3h1M70.5 837.8h1M98.4 839.5h1M213.8 779.0h1M110.8 861.4h1M169.2 745.3h1M61.2 742.5h1M201.7 840.4h1M64.7 843.4h1M215.3 818.1h1M101.6 801.9h1M62.0 722.0h1M213.6 817.0h1M133.4 859.4h1M116.6 850.1h1M187.5 751.4h1M83.8 763.7h1M81.7 807.5h1M85.1 782.5h1M62.0 855.9h1M102.2 788.3h1M143.7 855.0h1M114.3 857.0h1M128.9 799.4h1M132.8 722.7h1M117.8 747.3h1M39.0 839.3h1M69.4 790.6h1M169.3 803.0h1M97.2 797.3h1M138.6 837.1h1M57.5 803.6h1M83.2 761.3h1M177.8 795.8h1M139.7 833.4h1M203.1 786.1h1M148.9 795.4h1M130.8 823.4h1M120.0 799.6h1M124.6 860.6h1M164.6 850.9h1M208.5 758.7h1M139.3 860.8h1M190.0 740.4h1M60.3 786.0h1M51.4 755.9h1M51.5 819.9h1M179.9 853.9h1M66.2 826.9h1M157.5 741.3h1M197.7 864.5h1M78.0 862.2h1M110.2 792.7h1M217.1 844.3h1M67.5 784.4h1M131.4 770.6h1M73.7 767.5h1M168.7 722.8h1M138.4 785.7h1M41.6 769.4h1M151.0 796.4h1M49.9 867.1h1M180.7 865.1h1M57.2 759.6h1M45.4 836.3h1M87.1 739.3h1M114.6 856.1h1M186.2 758.5h1M65.3 857.2h1M141.3 824.5h1M54.5 728.5h1M162.6 783.4h1M51.4 860.1h1M152.9 839.7h1M53.4 847.8h1M50.3 848.8h1M120.3 770.6h1M138.2 858.3h1M86.7 739.2h1M133.5 755.5h1M58.1 744.0h1M47.4 750.0h1M94.6 765.5h1M175.5 763.2h1M128.6 746.5h1M101.0 722.6h1M83.5 722.2h1M170.7 802.2h1M72.5 790.8h1M207.1 735.8h1M186.2 784.5h1M127.7 844.6h1M109.3 795.6h1M162.5 866.7h1M100.2 844.2h1M165.9 814.9h1M111.4 771.8h1M48.1 739.3h1M51.1 830.6h1M84.5 744.3h1M53.6 845.6h1M195.5 820.1h1M89.2 756.1h1M91.2 788.5h1M66.8 786.5h1M85.8 863.6h1M214.0 801.6h1M82.4 864.2h1M94.2 773.2h1M38.5 776.9h1M124.0 795.0h1M74.6 795.3h1M39.2 759.4h1M54.5 779.6h1M45.8 723.3h1M93.2 754.7h1M144.1 799.0h1M173.8 818.1h1M167.6 851.2h1M108.6 768.6h1M216.1 742.2h1M169.1 816.0h1M46.2 844.7h1M199.4 813.6h1M170.8 841.2h1M63.5 798.1h1M129.4 844.6h1M183.6 843.4h1M143.8 853.3h1M161.6 823.5h1M79.8 724.6h1M62.3 773.8h1M57.2 844.8h1M139.2 813.7h1M151.4 821.6h1M126.7 720.4h1M182.4 831.7h1M129.1 799.9h1M157.4 729.8h1M171.4 757.6h1M51.7 759.6h1M170.0 750.6h1M171.9 865.7h1M127.5 777.1h1M124.8 822.0h1M176.8 812.1h1M154.4 731.5h1M64.9 757.8h1M172.5 765.4h1M140.8 721.8h1M49.3 760.1h1M159.7 823.3h1M160.3 763.4h1M131.6 789.3h1M122.5 737.6h1M199.7 749.7h1M214.9 859.8h1M41.5 788.5h1M186.4 864.5h1M119.5 760.0h1M76.2 861.2h1M76.4 806.8h1M63.9 798.2h1M210.4 739.7h1M186.4 795.9h1M198.5 825.0h1M80.1 854.0h1M126.1 723.6h1M38.9 793.4h1M119.7 765.0h1M63.7 771.3h1M95.4 845.4h1M38.6 832.1h1M189.8 737.8h1M205.6 826.4h1M201.1 763.2h1M105.5 778.6h1M218.7 807.9h1M103.4 783.9h1M88.0 727.1h1M56.7 844.6h1M89.9 859.7h1M83.3 759.6h1M130.6 748.3h1M105.7 862.8h1M198.0 841.2h1M152.2 856.4h1M208.2 802.0h1M168.3 727.3h1M170.6 787.3h1M174.2 816.2h1M90.0 727.2h1M205.7 738.9h1M123.6 771.2h1M92.1 830.3h1M214.6 758.8h1M156.8 764.8h1M139.0 778.8h1M68.5 744.1h1M75.8 855.3h1M128.1 752.8h1M202.0 868.8h1M119.6 740.8h1M73.0 733.5h1M100.1 733.5h1M81.5 758.5h1M141.2 852.5h1M173.7 781.6h1M113.0 798.2h1M106.4 770.4h1M49.5 761.4h1M213.1 738.7h1M129.2 814.0h1M194.1 752.2h1M87.2 757.0h1M110.5 786.5h1M210.6 846.7h1M195.9 723.2h1M44.1 825.9h1M200.1 790.6h1M144.3 719.9h1M109.0 858.4h1M187.4 847.7h1M213.9 757.0h1M58.0 743.0h1M132.6 821.8h1M208.3 827.7h1M155.2 834.2h1M120.9 802.3h1M45.4 836.8h1M80.3 857.3h1M154.9 765.3h1M61.4 757.5h1M153.2 824.3h1M58.6 730.4h1M133.0 807.0h1M108.4 753.3h1M146.9 721.5h1M92.8 788.7h1M211.5 816.2h1M197.9 790.9h1M80.7 756.8h1M211.8 825.2h1M93.8 723.2h1M128.3 820.7h1M114.2 758.3h1M158.8 858.1h1M79.3 725.0h1M99.4 782.7h1M161.6 749.5h1M182.2 830.3h1M129.5 750.6h1M213.5 766.5h1M186.4 754.4h1M78.3 833.5h1M91.6 862.1h1M127.8 747.9h1M78.6 782.2h1M158.5 861.6h1M64.7 778.7h1M76.8 865.4h1M63.9 727.6h1M49.2 778.7h1M200.5 851.9h1M170.6 868.9h1M206.5 769.1h1M71.8 859.7h1M173.1 724.7h1M158.3 776.5h1M105.8 769.5h1M68.9 720.3h1M88.8 772.4h1M210.9 738.4h1M212.4 750.9h1M102.7 842.6h1M186.8 784.5h1M47.2 790.6h1M105.6 857.3h1M73.2 774.3h1M200.3 724.4h1M112.5 841.2h1M176.8 726.0h1M44.6 729.2h1M204.5 758.3h1M173.3 854.1h1M99.5 760.6h1M211.3 812.1h1M85.6 827.0h1M95.5 761.1h1M39.0 832.8h1M203.8 814.6h1M208.7 723.5h1M80.5 790.9h1M211.1 862.4h1M108.1 757.4h1M115.9 793.6h1M205.9 747.2h1M183.2 830.2h1M186.9 835.4h1M148.0 768.9h1M96.0 774.0h1M179.6 731.7h1M73.9 832.4h1M83.0 729.6h1M44.4 802.5h1M97.1 866.4h1M197.9 867.5h1M86.1 732.5h1M55.7 794.4h1M166.5 786.7h1M80.6 782.2h1M150.3 820.6h1M173.4 846.4h1M158.3 738.0h1M190.2 763.8h1M140.7 775.6h1M171.6 749.7h1M83.0 756.6h1M66.0 852.0h1M142.7 768.7h1M109.8 868.2h1M129.9 754.5h1M184.3 817.5h1M217.3 735.2h1M124.0 842.3h1M190.1 856.5h1M45.6 763.8h1M59.8 748.2h1M214.0 807.0h1M206.3 775.5h1M194.7 787.0h1M85.2 836.1h1M209.1 735.7h1M146.0 812.5h1M77.6 775.0h1M63.8 750.4h1M84.3 809.5h1M156.0 750.3h1M40.4 768.8h1M160.8 747.6h1M94.7 750.3h1M181.9 801.8h1M49.7 735.0h1M109.7 802.1h1M153.7 733.5h1M67.9 823.8h1M112.3 762.2h1M93.9 862.3h1M94.7 804.5h1M102.8 782.1h1M194.4 868.8h1M104.0 749.4h1M169.8 750.3h1M39.4 854.6h1M114.8 842.5h1M111.7 851.8h1M121.5 744.2h1M41.0 802.3h1M154.0 855.8h1M54.4 812.9h1M105.3 795.3h1M64.6 762.2h1M132.4 858.2h1M57.9 793.2h1M183.6 864.4h1M73.9 738.8h1M208.6 865.6h1M125.5 727.9h1M205.6 777.9h1M201.6 812.6h1M187.2 743.8h1M180.2 753.1h1M111.3 846.3h1M188.1 747.2h1M77.7 779.6h1M131.8 777.2h1M60.5 756.8h1M169.2 854.0h1M45.7 803.9h1M175.1 725.6h1M189.7 737.5h1M146.6 802.1h1M151.5 765.6h1M114.2 806.9h1M115.2 818.3h1M119.0 785.4h1M42.5 812.4h1M126.7 755.0h1M176.2 836.4h1M121.1 746.7h1M123.8 735.9h1M61.5 784.2h1M54.9 785.9h1M130.4 726.0h1M153.2 732.2h1M170.8 836.1h1M130.7 728.0h1M129.3 776.4h1M210.0 740.2h1M193.1 868.7h1M170.5 841.7h1M73.3 866.6h1M127.1 862.8h1M203.7 744.6h1M180.7 858.9h1M50.1 772.3h1M174.9 743.6h1M200.2 761.0h1M185.6 741.3h1M129.0 857.3h1M75.9 759.2h1M129.7 767.6h1M45.0 747.1h1M67.4 859.8h1M161.1 853.7h1M68.8 837.2h1M59.1 799.2h1M153.2 773.7h1M196.0 802.8h1M143.1 851.8h1M57.2 868.2h1M152.0 778.8h1M182.4 759.5h1M217.2 806.2h1M103.4 834.1h1M118.2 746.3h1M172.6 727.1h1M186.4 757.8h1M153.7 866.9h1M144.1 819.1h1M94.8 720.2h1M44.4 742.2h1M149.6 784.5h1M130.9 853.7h1M62.1 753.9h1M156.3 723.2h1M38.8 772.9h1M57.5 773.3h1M78.8 807.1h1M144.7 750.4h1M151.0 790.9h1M62.6 859.8h1M82.3 742.2h1M55.6 815.2h1M195.7 836.8h1M110.9 759.4h1M40.4 816.3h1M139.9 772.2h1M154.9 786.2h1M207.6 829.5h1M83.2 854.9h1M46.2 799.3h1M111.6 755.4h1M48.8 836.3h1M40.5 802.2h1M208.2 741.2h1M74.3 810.7h1M129.9 815.8h1M185.2 746.0h1M94.2 764.8h1M47.1 852.8h1M179.7 826.8h1M39.4 846.1h1M172.9 789.4h1M172.3 787.5h1M79.1 735.6h1M80.3 725.7h1M98.9 831.9h1M163.8 846.2h1M166.8 759.6h1M138.3 785.0h1M180.7 798.1h1M86.2 815.8h1M212.6 752.3h1M197.2 722.2h1M85.3 755.2h1M172.6 861.0h1M173.1 768.7h1M197.3 769.0h1M81.5 855.5h1M152.2 823.4h1M158.4 866.2h1M123.1 845.4h1M164.3 848.0h1M117.3 828.2h1M141.3 765.9h1M76.6 812.9h1M52.4 856.0h1M64.4 723.9h1M57.6 858.7h1M100.6 741.1h1M43.5 726.1h1M163.4 814.6h1M164.2 830.0h1M50.2 808.1h1M103.9 842.0h1M186.3 853.1h1M50.2 849.5h1M203.4 861.0h1M57.6 750.6h1M58.5 725.0h1M191.4 841.2h1M152.8 843.2h1M152.4 762.8h1M56.3 734.5h1M175.1 750.5h1M95.9 783.2h1M42.1 758.3h1M89.3 826.8h1M104.8 767.8h1M212.4 795.2h1M192.1 812.3h1M43.9 781.6h1M117.1 835.4h1M100.9 825.2h1M135.4 752.3h1M194.0 733.5h1M186.4 745.4h1M38.5 750.1h1M175.9 866.0h1M39.1 793.2h1M127.1 838.9h1M71.6 793.8h1M101.0 844.2h1M85.4 860.9h1M89.5 752.0h1M164.6 794.3h1M58.2 815.0h1M52.9 837.6h1M164.2 837.5h1M151.7 773.0h1M110.8 778.9h1M199.1 732.8h1M198.8 723.7h1M75.5 759.2h1M201.1 794.8h1M106.8 852.0h1M80.5 788.8h1M134.3 832.6h1M174.3 816.5h1M101.2 768.7h1M66.4 845.9h1M157.9 830.8h1M68.9 785.5h1M178.0 806.4h1M61.1 788.9h1M198.2 755.4h1M72.9 764.9h1M165.3 845.9h1M66.2 743.2h1M83.0 768.7h1M132.6 743.9h1M97.6 748.2h1M214.4 828.8h1M56.7 863.7h1M56.7 777.3h1M216.0 838.7h1M170.7 784.9h1M73.7 815.2h1M57.6 750.7h1M108.4 725.0h1M110.4 838.1h1M163.5 794.7h1M152.5 789.1h1M63.9 810.1h1M111.4 830.6h1M202.3 784.1h1M142.0 831.8h1M114.4 754.0h1M168.7 851.4h1M178.1 824.5h1M192.3 821.4h1M154.2 787.7h1M94.8 813.8h1M56.0 782.6h1M179.6 826.4h1M152.0 757.3h1M114.8 787.9h1M150.6 781.1h1M160.2 858.9h1M71.4 817.7h1M178.8 778.0h1M126.8 865.5h1M45.2 801.1h1M67.3 836.7h1M208.2 797.5h1M56.6 805.7h1M136.0 827.1h1M130.8 815.4h1M188.0 797.8h1M112.4 861.5h1M76.2 822.1h1M109.2 833.8h1M60.4 867.0h1M102.5 728.4h1M87.8 779.6h1M40.7 782.4h1M114.3 824.2h1" stroke="#ececec" stroke-width="1" fill="none"/>
<path d="M90.0 841.9h1.3M98.8 837.5h1.3M89.5 824.4h1.3M99.9 837.1h1.3M88.6 842.0h1.3M100.0 828.0h1.3M82.0 828.0h1.3M84.8 848.3h1.3M104.8 838.6h1.3M91.6 846.8h1.3M80.8 824.8h1.3M85.9 844.0h1.3M85.2 840.2h1.3M84.9 829.7h1.3M85.9 830.1h1.3M89.2 842.4h1.3M87.6 842.0h1.3M94.2 821.2h1.3M91.9 839.1h1.3M93.2 842.0h1.3M86.9 849.4h1.3M81.3 838.8h1.3M89.5 817.5h1.3M98.5 821.3h1.3M87.6 820.1h1.3M101.3 828.4h1.3M86.8 836.8h1.3M98.3 813.7h1.3M82.6 838.4h1.3M91.7 832.7h1.3M99.0 838.5h1.3M89.6 840.2h1.3M87.4 820.0h1.3M102.9 830.8h1.3M76.3 845.9h1.3M73.0 841.1h1.3M78.5 827.3h1.3M98.6 834.9h1.3M80.0 850.2h1.3M85.5 855.7h1.3M83.6 842.2h1.3M91.5 836.8h1.3M86.8 839.3h1.3M86.6 841.3h1.3M84.0 847.0h1.3M77.8 852.7h1.3M95.7 818.4h1.3M84.8 848.3h1.3M74.4 841.0h1.3M89.7 844.6h1.3M88.9 832.2h1.3M78.0 842.0h1.3M94.5 824.1h1.3M71.7 839.7h1.3M97.8 854.7h1.3M83.2 846.5h1.3M87.8 833.7h1.3M78.7 835.2h1.3M94.2 849.9h1.3M90.3 845.1h1.3M80.0 851.0h1.3M95.2 836.1h1.3M87.4 847.9h1.3M85.0 830.6h1.3M84.4 829.4h1.3M84.9 843.3h1.3M77.2 860.9h1.3M75.4 841.7h1.3M91.0 841.8h1.3M94.1 842.8h1.3M75.7 843.6h1.3M96.2 822.6h1.3M86.6 825.2h1.3M92.6 829.2h1.3M90.6 830.0h1.3M88.6 823.2h1.3M75.5 841.3h1.3M87.9 823.4h1.3M78.4 843.4h1.3M78.7 837.0h1.3M83.1 837.2h1.3M80.2 838.8h1.3M85.4 834.5h1.3M89.9 835.5h1.3M76.1 827.5h1.3M81.2 839.0h1.3M81.4 825.0h1.3M83.6 841.9h1.3M92.7 841.5h1.3M92.2 842.5h1.3M71.6 845.2h1.3M95.2 825.8h1.3M90.6 831.8h1.3M82.5 828.5h1.3M88.3 825.9h1.3M92.2 827.1h1.3M72.8 851.2h1.3M91.4 825.2h1.3M88.0 840.3h1.3M83.1 838.6h1.3M89.3 835.4h1.3M94.0 822.0h1.3M105.9 823.0h1.3M100.8 822.7h1.3M89.3 835.1h1.3M83.1 835.5h1.3M83.9 835.1h1.3M97.4 822.1h1.3M74.8 835.5h1.3M85.3 835.5h1.3M77.1 843.3h1.3M83.0 858.2h1.3M103.3 842.9h1.3M87.0 835.9h1.3M94.2 822.9h1.3M86.4 833.5h1.3M94.8 845.3h1.3M102.1 830.9h1.3M86.9 839.3h1.3M90.5 846.5h1.3M86.2 850.3h1.3M100.6 829.3h1.3M91.0 847.4h1.3M80.8 840.8h1.3M90.0 851.1h1.3M90.6 819.3h1.3M83.1 842.2h1.3M103.4 815.2h1.3M75.2 836.7h1.3M92.6 845.1h1.3M93.4 818.0h1.3M82.3 841.2h1.3M86.4 855.7h1.3M90.3 848.7h1.3M73.9 848.7h1.3M84.5 831.5h1.3M91.0 828.8h1.3M87.3 848.4h1.3M79.6 823.5h1.3M97.8 820.3h1.3M79.6 824.4h1.3M83.2 841.8h1.3M83.2 822.5h1.3M72.5 839.3h1.3M89.2 839.1h1.3M78.1 850.2h1.3M99.5 835.1h1.3M88.7 829.1h1.3M77.9 844.6h1.3M86.4 842.5h1.3M97.9 840.5h1.3M82.6 830.7h1.3M99.5 824.0h1.3M84.0 833.3h1.3M74.8 850.9h1.3M86.6 825.6h1.3M84.2 848.7h1.3M92.6 835.2h1.3M98.9 833.4h1.3M90.8 846.2h1.3M88.5 846.8h1.3M90.1 834.9h1.3M91.5 827.0h1.3M97.4 827.8h1.3M85.1 833.4h1.3M82.0 841.7h1.3M87.1 837.8h1.3M103.0 809.9h1.3M85.7 826.8h1.3M83.4 841.8h1.3M82.5 831.7h1.3M90.6 819.7h1.3M78.0 820.3h1.3M89.6 836.7h1.3M92.3 835.7h1.3M90.0 833.8h1.3M76.6 851.8h1.3M83.0 859.3h1.3M88.0 832.7h1.3M81.4 842.2h1.3M105.3 823.1h1.3M95.5 839.7h1.3M70.4 846.0h1.3M80.9 838.3h1.3M87.0 841.6h1.3M95.3 806.3h1.3M89.9 836.2h1.3M93.5 838.6h1.3M87.2 816.5h1.3M87.0 833.9h1.3M80.1 829.0h1.3M67.5 846.7h1.3M91.1 831.6h1.3M74.0 829.6h1.3M82.0 837.6h1.3M77.2 846.9h1.3M93.9 830.9h1.3M91.0 837.5h1.3M86.2 841.8h1.3M91.5 837.0h1.3M86.9 836.3h1.3M83.6 835.7h1.3M99.5 816.5h1.3M103.4 837.6h1.3M83.9 819.2h1.3M95.7 831.6h1.3M103.0 821.7h1.3M83.8 826.0h1.3M86.4 844.7h1.3M83.7 828.8h1.3M84.1 838.6h1.3M90.3 836.3h1.3M79.5 835.6h1.3M102.3 828.4h1.3M93.8 839.5h1.3M93.6 833.5h1.3M85.2 829.7h1.3M96.2 833.1h1.3M96.5 849.1h1.3M106.8 821.1h1.3M99.9 819.4h1.3M83.1 837.7h1.3M85.7 843.8h1.3M91.9 837.9h1.3M94.4 860.4h1.3M96.4 814.8h1.3M93.4 830.9h1.3M87.8 833.0h1.3M82.6 835.1h1.3M88.5 834.3h1.3M84.0 830.9h1.3M88.4 835.8h1.3M83.9 827.8h1.3M95.5 834.5h1.3M88.0 829.6h1.3M84.7 840.0h1.3M100.1 833.0h1.3M83.5 835.9h1.3M90.6 833.0h1.3M80.2 842.6h1.3M91.7 838.6h1.3M77.4 844.6h1.3M82.5 828.4h1.3M90.5 835.8h1.3M81.4 834.6h1.3M85.8 835.7h1.3M84.2 830.8h1.3M82.0 821.8h1.3M87.4 837.7h1.3M87.9 825.6h1.3M86.6 829.6h1.3M101.2 833.4h1.3M89.2 840.8h1.3M90.4 847.0h1.3M92.7 824.9h1.3M86.2 847.5h1.3M98.9 828.0h1.3M80.0 824.0h1.3M94.0 845.8h1.3M90.2 850.1h1.3M99.6 820.4h1.3M90.2 824.8h1.3M82.8 847.1h1.3M87.0 837.7h1.3M89.7 829.2h1.3M91.3 835.3h1.3M99.1 840.5h1.3M90.2 832.1h1.3M83.5 836.4h1.3M93.9 823.9h1.3M80.6 844.6h1.3M84.8 836.2h1.3M85.1 823.1h1.3M90.7 831.8h1.3M83.9 847.0h1.3M90.7 838.1h1.3M88.1 840.9h1.3M75.2 848.8h1.3M97.2 831.3h1.3M84.3 834.7h1.3M79.4 820.9h1.3M89.1 845.1h1.3M84.2 827.4h1.3M89.7 857.0h1.3M83.2 832.4h1.3M93.6 837.7h1.3M85.0 862.7h1.3M78.2 824.1h1.3M80.2 824.5h1.3M94.7 826.4h1.3M92.8 813.6h1.3M94.3 838.5h1.3M81.4 840.2h1.3M86.2 839.3h1.3M86.9 847.2h1.3M90.5 831.1h1.3M92.4 819.4h1.3M89.6 822.6h1.3M79.2 824.3h1.3M87.7 833.7h1.3M82.5 839.1h1.3M82.4 837.5h1.3M76.2 854.9h1.3M82.8 839.8h1.3M83.2 845.5h1.3M89.4 828.1h1.3M94.3 843.9h1.3M97.2 829.2h1.3M90.4 824.5h1.3M94.2 839.9h1.3M85.2 840.8h1.3M91.7 833.4h1.3M92.9 841.0h1.3M91.7 839.4h1.3M96.0 827.7h1.3M83.8 826.4h1.3M79.4 846.6h1.3M98.8 835.2h1.3M85.3 848.1h1.3M80.4 842.1h1.3M91.1 840.2h1.3M95.9 836.9h1.3M89.7 847.3h1.3M91.9 827.5h1.3M86.4 830.2h1.3M81.5 845.1h1.3M103.0 849.0h1.3M96.1 844.5h1.3M90.6 834.9h1.3M86.1 827.2h1.3M93.7 828.4h1.3M85.9 851.5h1.3M92.8 832.0h1.3M91.4 820.3h1.3M94.4 833.1h1.3M91.9 847.3h1.3M74.7 846.3h1.3M83.4 828.5h1.3M77.7 833.1h1.3M81.4 832.6h1.3M80.0 829.1h1.3M88.1 831.2h1.3M87.8 835.2h1.3M80.5 831.6h1.3M78.6 859.9h1.3M81.8 843.6h1.3M77.6 827.2h1.3M81.5 841.6h1.3M86.0 846.6h1.3M82.5 835.3h1.3M89.2 847.1h1.3M89.1 843.5h1.3M78.3 827.2h1.3M84.0 846.1h1.3M94.0 834.7h1.3M97.2 831.1h1.3M85.3 839.0h1.3M88.3 827.8h1.3M82.4 822.3h1.3M89.4 829.5h1.3M86.5 856.6h1.3M89.3 833.2h1.3M81.2 844.8h1.3M88.7 820.0h1.3M69.8 866.1h1.3M82.7 846.8h1.3M81.0 837.4h1.3M91.2 846.4h1.3M94.4 854.1h1.3M79.4 838.4h1.3M94.3 830.1h1.3M88.6 847.5h1.3M75.5 850.8h1.3M90.7 824.9h1.3M86.2 849.3h1.3M91.3 827.4h1.3M79.1 851.9h1.3M94.2 834.0h1.3M93.4 818.2h1.3M86.0 840.4h1.3M86.8 822.5h1.3M76.3 817.2h1.3M86.9 827.0h1.3M93.9 833.4h1.3M83.0 846.8h1.3M92.4 835.2h1.3M78.5 842.2h1.3M96.1 860.0h1.3M85.9 837.2h1.3M88.0 852.1h1.3M94.6 844.5h1.3M91.3 828.2h1.3M84.0 826.6h1.3M83.3 837.6h1.3M83.3 847.8h1.3M96.1 840.8h1.3M71.4 865.4h1.3M81.8 843.4h1.3M92.0 833.1h1.3M85.2 834.6h1.3M92.0 832.3h1.3M79.5 852.4h1.3M75.7 845.9h1.3M88.9 834.8h1.3M83.1 832.8h1.3M81.7 835.6h1.3M93.6 834.1h1.3M102.2 822.8h1.3M82.2 842.4h1.3M86.3 845.4h1.3M99.7 819.4h1.3M72.2 853.3h1.3M86.3 849.2h1.3M89.8 836.7h1.3M89.7 817.5h1.3M96.7 848.6h1.3M84.6 830.9h1.3M71.2 851.1h1.3M79.3 858.8h1.3M94.1 838.0h1.3M83.3 835.6h1.3M96.7 847.5h1.3M82.4 852.8h1.3M91.8 837.3h1.3M89.5 841.0h1.3M90.2 828.1h1.3M85.2 839.8h1.3M83.1 844.4h1.3M88.1 839.3h1.3M100.9 826.8h1.3M83.8 849.0h1.3M94.3 841.9h1.3M87.2 840.9h1.3M73.3 837.9h1.3M105.6 839.7h1.3M96.6 835.0h1.3M85.1 832.3h1.3M67.4 864.7h1.3M83.4 832.2h1.3M82.2 860.4h1.3M110.5 851.1h1.3M75.8 847.0h1.3M79.7 846.0h1.3M76.8 835.3h1.3M92.8 820.4h1.3M82.7 849.3h1.3M75.0 841.6h1.3M86.8 831.9h1.3M68.5 852.3h1.3M94.8 855.4h1.3M78.3 859.4h1.3M72.5 845.0h1.3M82.9 844.9h1.3M108.8 843.5h1.3M86.7 857.1h1.3M103.6 834.3h1.3M82.0 855.0h1.3M86.2 843.1h1.3M86.5 847.5h1.3M107.4 835.6h1.3M89.7 849.5h1.3M96.5 814.8h1.3M93.8 811.3h1.3M96.2 837.7h1.3M105.8 824.4h1.3M73.1 838.0h1.3M74.8 859.5h1.3M76.7 835.8h1.3M86.1 826.7h1.3M76.1 840.2h1.3M116.7 832.1h1.3M71.4 828.0h1.3M89.0 836.4h1.3M93.6 839.7h1.3M87.8 850.2h1.3M97.1 831.2h1.3M76.3 839.7h1.3M85.7 822.1h1.3M77.5 834.7h1.3M71.8 859.8h1.3M84.9 839.6h1.3M85.0 816.8h1.3M86.3 842.1h1.3M87.5 820.7h1.3M95.7 832.7h1.3M110.5 832.9h1.3M107.8 850.3h1.3M81.9 835.5h1.3M73.8 835.2h1.3M70.8 824.0h1.3M87.1 843.4h1.3M95.0 824.9h1.3M97.8 817.9h1.3M69.5 825.2h1.3M69.6 841.2h1.3M107.2 826.6h1.3M75.2 855.5h1.3M89.3 831.8h1.3M83.1 836.3h1.3M65.6 830.9h1.3M93.1 850.3h1.3M100.7 820.9h1.3M74.3 845.6h1.3M98.6 831.8h1.3M80.4 848.4h1.3M86.2 845.4h1.3M69.4 831.8h1.3M91.2 844.4h1.3M70.6 850.4h1.3M93.1 826.3h1.3M91.6 862.4h1.3M102.6 838.0h1.3M85.1 862.5h1.3M60.9 853.2h1.3M103.6 841.4h1.3M68.8 844.0h1.3M73.6 821.5h1.3M96.9 836.4h1.3M83.4 848.2h1.3M96.7 832.9h1.3M102.2 845.2h1.3M80.3 845.6h1.3M86.0 853.0h1.3M83.4 847.3h1.3M87.1 838.0h1.3M105.4 819.4h1.3M108.2 829.9h1.3M100.0 823.2h1.3M101.7 834.8h1.3M79.4 847.9h1.3M83.2 840.1h1.3M95.8 819.0h1.3M52.1 843.7h1.3M74.9 838.9h1.3M89.2 843.3h1.3M108.7 822.1h1.3M85.4 828.1h1.3M101.7 843.3h1.3M87.5 808.9h1.3M107.1 841.7h1.3M84.5 818.2h1.3M85.4 847.0h1.3M84.3 828.1h1.3M81.0 856.4h1.3M78.9 864.9h1.3M87.4 841.1h1.3M64.6 848.9h1.3M83.0 819.9h1.3M100.2 805.3h1.3M70.5 852.7h1.3M96.0 839.5h1.3M79.0 841.4h1.3M78.1 837.1h1.3M89.2 837.5h1.3M79.1 847.8h1.3M84.3 838.5h1.3M86.2 813.4h1.3M80.5 827.9h1.3M91.7 854.2h1.3M71.1 850.1h1.3M84.5 852.9h1.3M61.2 836.5h1.3M88.7 830.6h1.3M88.8 851.0h1.3M71.6 845.8h1.3M89.7 840.6h1.3M86.0 852.8h1.3M109.3 811.3h1.3M92.8 802.0h1.3M99.6 820.9h1.3M84.3 834.8h1.3M68.2 835.9h1.3M89.4 853.5h1.3M96.4 823.8h1.3M73.6 839.3h1.3M83.2 866.3h1.3M93.9 832.7h1.3M71.8 836.3h1.3M106.5 830.7h1.3M80.4 857.2h1.3M76.1 856.1h1.3M70.4 846.2h1.3M94.1 837.0h1.3M91.4 821.4h1.3M113.6 832.3h1.3M88.2 842.8h1.3M74.5 846.3h1.3M69.6 854.1h1.3M96.9 847.4h1.3M102.3 835.0h1.3M79.0 841.2h1.3M82.4 844.5h1.3M67.0 866.1h1.3M62.4 852.1h1.3M81.6 834.7h1.3M104.5 820.1h1.3M112.4 831.0h1.3M81.8 847.6h1.3M98.4 822.2h1.3M82.1 833.7h1.3M83.2 835.6h1.3M93.1 846.0h1.3M102.8 824.8h1.3M93.5 843.5h1.3M74.0 833.9h1.3M91.9 819.5h1.3M89.5 821.3h1.3M99.8 810.8h1.3M105.9 841.5h1.3M83.8 861.2h1.3M62.5 834.1h1.3M98.7 836.6h1.3M64.7 821.4h1.3M82.2 837.2h1.3M78.4 840.9h1.3M59.3 854.1h1.3M117.8 831.5h1.3M75.6 837.4h1.3M97.3 843.0h1.3M85.5 821.9h1.3M88.0 838.3h1.3M110.9 832.7h1.3M99.9 842.8h1.3M91.1 855.4h1.3M82.6 846.8h1.3M89.7 821.8h1.3M64.1 832.9h1.3M86.6 836.8h1.3M84.6 846.5h1.3M59.2 861.9h1.3M84.2 836.0h1.3M107.0 844.1h1.3M73.0 836.5h1.3M78.3 846.3h1.3M86.0 825.8h1.3M89.9 820.0h1.3M98.1 833.3h1.3M105.9 850.9h1.3M80.6 840.6h1.3M96.9 840.6h1.3M70.7 855.8h1.3M80.5 852.0h1.3M102.0 824.4h1.3M85.0 841.6h1.3M93.0 834.2h1.3M75.0 837.6h1.3M91.4 850.5h1.3M93.3 850.7h1.3M50.6 863.5h1.3M88.2 835.9h1.3M60.2 851.9h1.3M91.0 815.2h1.3M65.2 841.2h1.3M82.8 850.1h1.3M77.9 816.6h1.3M98.5 818.4h1.3M89.6 858.5h1.3M75.3 830.2h1.3M72.1 840.3h1.3M70.4 847.4h1.3M98.1 832.2h1.3M73.8 850.7h1.3M90.8 844.6h1.3M84.2 846.2h1.3M111.2 816.8h1.3M74.2 853.4h1.3M72.6 844.9h1.3M89.7 839.6h1.3M87.5 848.8h1.3M73.4 830.9h1.3M93.1 826.6h1.3M95.1 820.6h1.3M94.2 835.2h1.3M41.7 856.7h1.3M81.4 862.3h1.3M68.6 866.8h1.3M101.7 831.0h1.3M89.7 827.7h1.3M86.5 840.9h1.3M95.1 840.0h1.3M77.5 835.8h1.3M81.1 848.4h1.3M56.0 847.3h1.3M76.1 839.2h1.3M62.9 821.1h1.3M79.1 840.8h1.3M80.4 815.0h1.3M84.6 846.1h1.3M99.4 843.0h1.3M90.4 819.2h1.3M90.4 829.4h1.3M86.1 859.8h1.3M71.3 839.2h1.3M74.0 836.8h1.3M99.9 831.0h1.3M104.9 826.9h1.3M84.9 854.0h1.3M73.8 842.5h1.3M83.2 841.1h1.3M95.2 821.2h1.3M89.1 834.9h1.3M62.0 844.2h1.3M85.2 844.6h1.3M92.3 839.3h1.3M82.4 834.9h1.3M83.1 826.4h1.3M66.3 851.1h1.3M64.0 850.6h1.3M72.0 842.8h1.3M78.8 833.2h1.3M67.7 830.2h1.3M80.5 830.5h1.3M69.9 812.3h1.3M77.0 849.7h1.3M52.7 862.9h1.3M86.9 838.8h1.3M68.4 857.2h1.3M79.9 829.7h1.3M93.7 830.4h1.3M82.0 835.3h1.3M92.4 833.8h1.3M102.1 830.1h1.3M75.9 844.0h1.3M93.6 826.0h1.3M93.4 838.9h1.3M66.3 822.6h1.3M88.1 839.2h1.3M81.3 831.5h1.3M98.8 824.6h1.3M72.3 840.2h1.3M81.6 826.4h1.3M87.0 865.8h1.3M108.5 832.9h1.3M105.9 828.7h1.3M72.9 867.0h1.3M103.6 829.2h1.3M98.2 820.1h1.3M92.1 843.7h1.3M91.8 848.6h1.3M90.9 843.6h1.3M75.5 826.4h1.3M97.8 846.3h1.3M111.2 840.0h1.3M87.5 828.2h1.3M71.5 823.6h1.3M89.2 848.3h1.3M59.9 864.4h1.3M104.6 840.4h1.3M69.0 844.1h1.3M54.7 851.6h1.3M106.3 849.5h1.3M80.8 862.6h1.3M86.7 830.4h1.3M93.9 794.8h1.3M85.7 841.5h1.3M124.0 829.7h1.3M113.7 815.1h1.3M106.8 839.0h1.3M93.9 836.2h1.3M79.8 837.8h1.3M83.9 868.1h1.3M64.6 827.4h1.3M88.0 835.8h1.3M100.1 851.5h1.3M81.8 838.1h1.3M75.7 847.1h1.3M81.1 845.5h1.3M126.2 807.6h1.3M88.3 863.8h1.3M101.5 835.9h1.3M99.7 837.6h1.3M103.4 842.7h1.3M107.0 838.6h1.3M78.8 844.5h1.3M82.9 854.7h1.3M91.9 826.1h1.3M111.0 853.4h1.3M92.2 816.4h1.3M88.4 845.1h1.3M87.3 842.5h1.3M101.9 828.5h1.3M76.6 856.8h1.3M84.6 841.0h1.3M68.1 834.3h1.3M67.1 850.0h1.3M52.4 829.2h1.3M90.8 817.0h1.3M79.9 851.3h1.3M80.3 852.8h1.3M81.3 846.8h1.3M86.3 837.8h1.3M52.0 847.5h1.3M94.6 850.7h1.3M82.1 849.3h1.3M90.5 841.1h1.3M86.5 816.1h1.3M87.1 834.5h1.3M75.0 835.7h1.3M67.9 839.5h1.3M106.0 820.2h1.3M87.1 823.0h1.3M97.1 848.9h1.3M77.3 831.5h1.3M74.9 833.7h1.3M66.2 852.6h1.3M74.3 837.0h1.3M67.4 841.4h1.3M97.9 847.5h1.3M98.4 859.1h1.3M67.0 859.1h1.3M69.6 850.5h1.3M90.3 842.3h1.3M94.9 822.1h1.3M68.4 851.3h1.3M83.6 830.2h1.3M108.1 842.5h1.3M70.1 857.7h1.3M83.7 812.4h1.3M85.9 834.9h1.3M76.9 865.3h1.3M84.2 832.8h1.3M95.1 839.2h1.3M98.6 835.1h1.3M81.6 825.1h1.3M80.7 844.7h1.3M72.8 834.8h1.3M64.4 861.2h1.3M81.2 834.0h1.3M73.5 836.5h1.3M75.1 846.5h1.3M81.9 851.5h1.3M84.2 841.6h1.3M99.1 844.6h1.3M94.0 834.2h1.3M77.2 834.4h1.3M85.7 848.2h1.3M85.0 833.4h1.3M57.6 841.6h1.3M96.3 843.6h1.3M79.8 823.9h1.3M84.0 843.1h1.3M76.2 851.9h1.3M76.5 834.6h1.3M75.5 859.2h1.3M83.0 828.0h1.3M78.9 857.3h1.3M90.2 830.0h1.3M102.5 819.0h1.3M79.8 859.4h1.3M85.2 843.8h1.3M78.3 830.6h1.3M69.0 850.6h1.3M95.1 815.4h1.3M103.3 825.7h1.3M73.2 853.4h1.3M85.5 825.6h1.3M61.4 865.4h1.3M74.5 854.8h1.3M60.5 859.0h1.3M64.4 836.2h1.3M83.3 843.0h1.3M69.7 835.8h1.3M75.1 822.7h1.3M95.1 837.0h1.3M111.9 827.5h1.3M91.2 837.2h1.3M75.9 828.2h1.3M106.7 827.0h1.3M73.3 833.1h1.3M107.0 826.8h1.3M75.3 857.4h1.3M108.1 817.9h1.3M86.9 831.3h1.3M85.0 854.5h1.3M123.6 805.9h1.3M89.2 846.7h1.3M86.5 848.2h1.3M87.9 821.8h1.3M71.3 850.3h1.3M97.2 832.0h1.3M90.4 814.4h1.3M86.6 828.6h1.3M88.5 840.4h1.3M71.5 847.9h1.3M72.6 854.0h1.3M71.0 844.5h1.3M83.0 831.4h1.3M94.5 821.3h1.3M97.4 831.9h1.3M70.8 848.7h1.3M72.2 845.4h1.3M94.7 856.4h1.3M91.1 856.1h1.3M81.2 823.7h1.3M65.7 866.6h1.3M100.4 830.8h1.3M80.6 839.3h1.3M86.0 833.7h1.3M75.8 842.0h1.3M94.9 821.2h1.3M81.4 825.7h1.3M66.5 836.0h1.3M87.4 846.6h1.3M85.2 831.7h1.3M90.0 829.5h1.3M91.5 837.1h1.3M74.0 813.4h1.3M74.6 859.5h1.3M99.7 857.9h1.3M78.2 837.2h1.3M107.2 826.9h1.3M111.8 822.1h1.3M87.7 847.0h1.3M72.2 844.1h1.3M76.6 843.4h1.3M91.1 826.6h1.3M85.4 831.5h1.3M76.2 807.5h1.3M83.7 842.6h1.3M79.0 858.9h1.3M96.8 846.7h1.3M101.3 833.5h1.3M75.4 832.1h1.3M79.0 837.8h1.3M84.7 832.6h1.3M110.9 792.8h1.3M96.0 822.4h1.3M88.6 849.0h1.3M76.4 829.4h1.3M88.7 832.9h1.3M61.3 863.2h1.3M66.8 844.7h1.3M93.0 836.1h1.3M96.9 859.3h1.3M85.8 829.5h1.3M87.0 835.4h1.3M46.9 850.8h1.3M80.8 838.8h1.3M85.1 852.9h1.3M97.5 852.2h1.3M106.3 843.3h1.3M86.2 843.2h1.3M78.5 842.4h1.3M59.8 853.4h1.3M68.8 844.3h1.3M101.7 827.7h1.3M106.0 832.3h1.3M103.3 836.8h1.3M83.3 852.0h1.3M77.3 838.4h1.3M114.9 842.9h1.3M85.4 863.4h1.3M89.1 823.2h1.3M91.0 838.9h1.3M87.0 832.1h1.3M69.6 853.3h1.3M101.1 835.7h1.3M100.9 840.4h1.3M72.6 849.5h1.3M96.2 843.1h1.3M90.6 841.4h1.3M101.5 854.1h1.3M58.2 862.7h1.3M116.8 813.7h1.3M63.7 860.1h1.3M62.7 849.4h1.3M99.9 850.0h1.3M95.4 839.2h1.3M98.8 829.4h1.3M73.9 847.6h1.3M87.1 833.1h1.3M74.3 843.5h1.3M59.5 847.4h1.3M81.3 837.2h1.3M95.4 849.6h1.3M88.4 835.5h1.3M63.1 843.4h1.3M83.4 828.0h1.3M82.6 825.8h1.3M86.1 837.0h1.3M94.3 825.0h1.3M82.2 845.0h1.3M97.6 851.7h1.3M78.1 837.6h1.3M84.5 846.2h1.3M92.8 841.9h1.3M107.1 818.6h1.3M71.4 853.5h1.3M74.2 816.9h1.3M74.7 827.2h1.3M100.4 844.9h1.3M86.9 815.8h1.3M108.2 831.0h1.3M84.2 846.9h1.3M101.1 819.8h1.3M80.8 834.8h1.3M83.8 809.4h1.3M95.4 815.9h1.3M84.8 816.1h1.3M69.4 844.6h1.3M83.6 817.2h1.3M87.8 827.4h1.3M97.9 823.0h1.3M89.7 832.3h1.3M104.2 816.5h1.3M98.7 854.9h1.3M90.8 843.5h1.3M77.5 848.6h1.3M58.2 864.7h1.3M66.5 834.3h1.3M75.9 863.5h1.3M79.4 822.4h1.3M102.1 813.7h1.3M82.3 845.0h1.3M59.7 838.7h1.3M84.3 856.5h1.3M85.4 816.2h1.3M99.9 826.1h1.3M91.4 833.9h1.3M82.9 826.6h1.3M69.0 843.4h1.3M84.9 847.9h1.3M81.5 864.9h1.3M73.1 841.3h1.3M96.6 834.7h1.3M73.3 834.3h1.3M61.5 837.4h1.3M106.6 835.0h1.3M111.2 822.5h1.3M94.4 841.3h1.3M94.7 826.6h1.3M104.5 852.1h1.3M54.5 846.5h1.3M78.6 855.5h1.3M97.0 823.3h1.3M92.8 831.3h1.3M84.8 831.5h1.3M84.6 839.3h1.3M114.6 844.2h1.3M66.7 863.1h1.3M91.8 846.7h1.3M103.4 833.5h1.3M88.1 822.7h1.3M93.0 818.3h1.3M105.4 830.1h1.3M81.3 859.0h1.3M71.4 840.6h1.3M64.7 854.2h1.3M92.6 822.6h1.3M112.3 824.2h1.3M69.9 835.4h1.3M69.0 861.4h1.3M93.3 816.4h1.3M83.0 836.8h1.3M85.4 845.8h1.3M106.0 811.1h1.3M103.1 838.3h1.3M80.5 840.9h1.3M76.3 862.2h1.3M73.9 839.7h1.3M79.7 831.5h1.3M70.2 848.1h1.3M101.6 821.1h1.3M81.0 821.7h1.3M69.2 831.2h1.3M88.0 844.9h1.3M57.7 851.0h1.3M81.6 828.9h1.3M101.5 837.8h1.3M87.3 830.8h1.3M79.9 834.5h1.3M85.7 842.9h1.3M88.3 850.0h1.3M112.7 806.2h1.3M95.0 841.7h1.3M91.2 830.0h1.3M86.3 852.2h1.3M96.2 836.1h1.3M79.7 852.8h1.3M93.4 828.8h1.3M108.3 849.0h1.3M66.4 864.4h1.3M61.0 841.1h1.3M86.0 845.9h1.3M77.3 829.2h1.3M63.5 850.4h1.3M79.3 832.3h1.3M73.6 847.0h1.3M74.1 840.4h1.3M83.4 836.2h1.3M84.1 822.8h1.3M89.6 845.9h1.3M103.4 830.4h1.3M74.4 826.3h1.3M72.4 864.4h1.3M97.3 836.0h1.3M49.5 840.4h1.3M63.7 841.3h1.3M79.7 829.2h1.3M99.9 816.6h1.3M84.3 852.0h1.3M82.6 828.3h1.3M108.8 845.2h1.3M68.2 850.6h1.3M57.9 835.5h1.3M97.7 837.6h1.3M100.0 831.6h1.3M60.1 861.0h1.3M68.4 837.0h1.3M76.9 857.3h1.3M95.4 857.9h1.3M77.1 818.6h1.3M104.9 839.0h1.3M76.7 829.0h1.3M97.3 809.0h1.3M70.3 824.8h1.3M57.4 839.4h1.3M106.8 836.3h1.3M70.3 832.7h1.3M87.0 842.7h1.3M57.9 846.7h1.3M88.8 845.7h1.3M89.1 841.8h1.3M51.8 833.0h1.3M82.3 828.2h1.3M80.8 837.4h1.3M85.4 827.5h1.3M103.0 823.2h1.3M96.0 838.1h1.3M100.7 830.7h1.3M58.9 853.4h1.3M111.3 822.1h1.3M95.3 836.5h1.3M72.2 840.7h1.3M85.3 855.4h1.3M102.3 849.2h1.3M104.8 848.6h1.3M82.1 824.4h1.3M109.0 822.3h1.3M101.3 827.4h1.3M82.2 844.0h1.3M62.5 841.9h1.3M70.2 844.7h1.3M67.5 853.3h1.3M103.4 851.9h1.3M107.4 818.1h1.3M94.4 827.4h1.3M89.6 834.4h1.3M78.8 845.6h1.3M69.8 859.1h1.3M73.6 833.5h1.3M84.5 847.5h1.3M80.0 850.4h1.3M103.4 845.2h1.3M70.7 850.3h1.3M102.2 845.3h1.3M93.7 842.1h1.3M62.5 850.7h1.3M103.6 818.1h1.3M106.6 808.9h1.3M70.0 829.3h1.3M94.8 834.0h1.3M111.3 817.7h1.3M71.7 830.5h1.3M90.8 847.6h1.3M103.1 840.6h1.3M95.4 828.9h1.3M93.8 833.6h1.3M80.8 867.8h1.3M82.0 826.3h1.3M91.9 837.0h1.3M107.9 839.5h1.3M97.2 814.1h1.3M63.8 862.2h1.3M91.7 838.1h1.3M67.7 847.7h1.3M92.9 842.8h1.3M114.5 816.7h1.3M60.3 826.7h1.3M97.5 825.8h1.3M76.4 832.2h1.3M81.1 816.2h1.3M87.2 838.8h1.3M98.3 846.2h1.3M84.4 840.9h1.3M84.4 816.8h1.3M81.8 842.8h1.3M91.1 821.7h1.3M97.9 833.0h1.3M55.6 843.8h1.3M68.1 856.3h1.3M92.9 842.5h1.3M91.3 825.2h1.3M104.4 833.6h1.3M94.4 837.6h1.3M71.5 856.5h1.3M63.3 841.0h1.3M81.6 844.1h1.3M81.9 836.9h1.3M73.8 851.8h1.3M65.4 835.9h1.3M96.8 849.8h1.3M72.1 834.9h1.3M114.9 837.3h1.3M79.8 840.6h1.3M109.3 860.6h1.3M94.0 845.6h1.3M77.2 819.2h1.3M62.1 841.4h1.3M91.2 835.0h1.3M105.5 816.5h1.3M89.4 836.1h1.3M103.7 856.3h1.3M99.4 847.8h1.3M96.9 819.4h1.3M90.8 828.1h1.3M87.5 839.0h1.3M81.8 834.9h1.3M102.7 819.2h1.3M106.2 844.7h1.3M100.4 840.3h1.3M110.5 832.1h1.3M96.2 807.9h1.3M109.9 817.0h1.3M58.3 853.6h1.3M67.3 854.6h1.3M58.8 847.7h1.3M89.9 836.9h1.3M73.2 846.1h1.3M84.3 840.7h1.3M83.3 837.3h1.3M84.3 815.9h1.3M79.8 845.7h1.3M75.9 839.0h1.3M81.0 845.7h1.3M99.3 823.3h1.3M84.2 844.9h1.3M67.7 826.0h1.3M85.6 832.9h1.3M82.4 850.6h1.3M81.4 833.9h1.3M44.9 849.7h1.3M84.3 837.9h1.3M92.2 835.8h1.3M69.7 834.1h1.3M70.2 850.3h1.3M76.1 858.2h1.3M55.1 839.4h1.3M69.5 826.7h1.3M98.3 812.4h1.3M82.5 837.6h1.3M61.6 833.9h1.3M67.9 867.2h1.3M113.8 845.1h1.3M70.7 860.2h1.3M91.0 846.1h1.3M83.8 850.7h1.3M100.8 833.8h1.3M102.0 821.1h1.3M99.3 815.7h1.3M85.8 797.6h1.3M79.3 832.3h1.3M92.6 847.4h1.3M94.8 831.6h1.3M95.6 807.6h1.3M85.8 860.6h1.3M73.9 818.3h1.3M80.6 825.4h1.3M112.1 831.5h1.3M87.6 855.8h1.3M81.2 856.0h1.3M91.4 831.4h1.3M65.0 852.9h1.3M51.9 860.4h1.3M54.9 830.1h1.3M95.1 835.4h1.3M94.2 862.1h1.3M95.3 830.7h1.3M55.1 822.2h1.3M98.1 841.4h1.3M67.1 834.2h1.3M72.2 825.8h1.3M90.8 845.2h1.3M106.0 824.0h1.3M93.0 842.9h1.3M100.3 820.5h1.3M63.7 846.5h1.3M62.6 846.1h1.3M86.0 843.2h1.3M87.5 837.8h1.3M83.6 846.5h1.3M101.8 835.1h1.3M101.8 819.6h1.3M94.3 855.7h1.3M90.6 840.1h1.3M87.9 850.7h1.3M72.5 835.3h1.3M81.0 836.1h1.3M92.8 826.4h1.3M85.0 835.8h1.3M84.7 830.0h1.3M88.5 814.8h1.3M74.9 837.6h1.3M93.5 832.0h1.3M88.7 830.8h1.3M67.7 838.0h1.3M76.8 838.4h1.3M91.1 838.7h1.3M96.6 827.0h1.3M59.0 850.2h1.3M70.4 854.8h1.3M89.3 846.0h1.3M91.1 856.2h1.3M61.0 864.1h1.3M83.6 855.8h1.3M71.0 858.4h1.3M63.9 854.6h1.3M73.2 862.8h1.3M69.0 859.2h1.3M68.1 848.8h1.3M73.0 855.7h1.3M63.2 859.5h1.3M59.8 851.1h1.3M70.7 850.8h1.3M55.3 848.0h1.3M69.8 854.3h1.3M64.7 855.9h1.3M54.3 861.5h1.3M73.9 852.8h1.3M62.9 856.0h1.3M72.7 858.4h1.3M72.4 853.3h1.3M63.6 860.8h1.3M79.8 845.4h1.3M76.2 852.1h1.3M65.6 846.0h1.3M82.7 835.4h1.3M71.2 849.7h1.3M79.7 845.9h1.3M70.8 856.2h1.3M72.5 848.2h1.3M76.8 852.4h1.3M77.9 846.1h1.3M67.7 851.0h1.3M61.0 857.9h1.3M76.4 859.2h1.3M66.6 856.5h1.3M80.4 847.7h1.3M69.9 853.5h1.3M59.8 850.4h1.3M80.8 849.4h1.3M65.5 846.4h1.3M72.8 859.0h1.3M55.3 852.8h1.3M83.5 856.4h1.3M83.5 843.6h1.3M73.4 846.4h1.3M73.5 848.8h1.3M74.0 859.6h1.3M71.9 850.3h1.3M70.2 854.2h1.3M64.3 856.2h1.3M78.6 859.2h1.3M45.4 854.9h1.3M58.4 862.9h1.3M94.2 844.1h1.3M72.8 858.8h1.3M43.8 862.0h1.3M62.8 852.4h1.3M71.1 848.4h1.3M80.3 848.4h1.3M78.5 865.5h1.3M66.5 860.0h1.3M63.4 863.3h1.3M79.1 849.8h1.3M82.6 857.8h1.3M83.0 847.4h1.3M70.9 859.3h1.3M52.8 855.7h1.3M75.2 854.2h1.3M91.7 855.1h1.3M73.3 854.1h1.3M55.3 857.4h1.3M71.1 850.7h1.3M71.0 856.1h1.3M58.1 853.8h1.3M53.6 866.6h1.3M54.6 847.9h1.3M76.3 848.7h1.3M77.9 847.0h1.3M92.0 848.3h1.3M70.8 853.0h1.3M68.7 858.3h1.3M88.2 842.5h1.3M59.4 860.7h1.3M76.4 840.4h1.3M59.8 850.3h1.3M75.8 853.5h1.3M59.1 849.8h1.3M71.3 838.9h1.3M75.1 849.5h1.3M90.5 850.6h1.3M62.6 853.9h1.3M64.6 850.1h1.3M72.0 858.0h1.3M53.3 857.9h1.3M85.7 851.0h1.3M59.0 851.9h1.3M56.8 847.7h1.3M80.7 848.7h1.3M58.8 848.0h1.3M64.0 851.8h1.3M85.3 843.5h1.3M72.5 858.4h1.3M75.3 849.3h1.3M74.0 848.2h1.3M66.0 848.1h1.3M56.7 848.5h1.3M75.2 853.8h1.3M72.5 856.6h1.3M74.6 851.5h1.3M61.4 859.8h1.3M82.3 851.6h1.3M80.5 845.4h1.3M61.9 863.8h1.3M63.7 856.7h1.3M67.1 853.9h1.3M65.1 851.1h1.3M66.8 841.7h1.3M57.4 850.5h1.3M56.0 842.1h1.3M78.4 859.6h1.3M68.2 858.1h1.3M72.3 843.8h1.3M77.5 838.9h1.3M62.5 853.4h1.3M81.8 848.6h1.3M66.0 849.1h1.3M70.0 852.9h1.3M79.4 857.7h1.3M76.4 850.1h1.3M71.0 862.3h1.3M71.0 852.1h1.3M90.4 854.3h1.3M74.4 850.1h1.3M65.0 861.4h1.3M66.6 860.1h1.3M61.4 856.7h1.3M73.3 852.2h1.3M72.2 854.1h1.3M55.4 851.5h1.3M71.5 863.4h1.3M65.7 848.5h1.3M62.5 855.8h1.3M79.6 845.2h1.3M75.0 851.8h1.3M63.4 849.3h1.3M65.9 849.7h1.3M70.5 841.3h1.3M81.9 852.6h1.3M78.1 858.8h1.3M71.3 841.3h1.3M70.5 855.2h1.3M59.7 849.6h1.3M74.4 854.0h1.3M64.2 853.4h1.3M62.7 852.0h1.3M70.8 859.1h1.3M52.2 857.6h1.3M85.8 848.2h1.3M72.4 856.9h1.3M56.4 850.5h1.3M49.3 851.8h1.3M73.3 856.6h1.3M63.4 851.0h1.3M74.4 854.7h1.3M67.4 841.6h1.3M58.0 841.5h1.3M69.6 847.4h1.3M65.8 863.8h1.3M83.2 850.3h1.3M72.1 852.8h1.3M63.1 855.1h1.3M86.1 840.6h1.3M62.8 856.5h1.3M79.7 853.9h1.3M59.1 856.2h1.3M63.7 847.4h1.3M68.7 850.1h1.3M79.1 851.7h1.3M61.4 856.6h1.3M64.1 851.0h1.3M66.5 860.7h1.3M61.2 845.4h1.3M63.1 860.5h1.3M88.1 838.7h1.3M64.8 852.6h1.3M55.9 860.8h1.3M69.1 854.7h1.3M90.6 842.6h1.3M78.7 854.3h1.3M61.4 852.3h1.3M86.0 850.6h1.3M68.0 846.5h1.3M78.9 852.3h1.3M94.0 852.2h1.3M77.6 851.2h1.3M68.4 849.8h1.3M72.6 853.1h1.3M77.8 856.3h1.3M70.9 848.8h1.3M80.4 858.2h1.3M61.6 858.6h1.3M75.6 853.7h1.3M73.8 850.5h1.3M71.7 862.5h1.3M83.1 838.5h1.3M44.8 865.5h1.3M61.2 852.9h1.3M54.0 861.3h1.3M67.3 850.3h1.3M83.2 862.6h1.3M86.2 853.4h1.3M66.4 858.2h1.3M71.2 859.4h1.3M74.7 850.5h1.3M72.9 846.9h1.3M80.1 858.0h1.3M66.6 857.5h1.3M54.5 864.7h1.3M75.5 844.0h1.3M86.5 846.6h1.3M48.9 852.5h1.3M77.1 848.0h1.3M76.6 840.2h1.3M70.2 858.7h1.3M63.8 859.4h1.3M66.2 856.3h1.3M77.1 863.8h1.3M58.4 862.2h1.3M79.5 841.7h1.3M74.9 865.2h1.3M72.9 832.8h1.3M62.9 844.7h1.3M70.4 847.9h1.3M61.6 850.7h1.3M70.9 849.3h1.3M59.5 855.4h1.3M71.2 846.7h1.3M76.4 839.6h1.3M72.2 849.3h1.3M83.2 843.2h1.3M59.5 848.4h1.3M90.0 848.4h1.3M57.5 855.5h1.3M62.8 865.1h1.3M68.7 840.3h1.3M73.1 857.1h1.3M70.1 855.6h1.3M68.4 854.6h1.3M69.6 848.3h1.3M72.8 852.5h1.3M67.1 849.5h1.3M59.5 858.4h1.3M71.9 836.6h1.3M66.7 862.5h1.3M76.5 845.5h1.3M80.2 842.3h1.3M65.4 866.6h1.3M64.2 853.6h1.3M50.4 854.1h1.3M57.0 857.0h1.3M53.1 866.1h1.3M64.2 851.1h1.3M64.3 859.6h1.3M83.3 844.7h1.3M88.5 855.2h1.3M83.0 849.2h1.3M55.7 862.6h1.3M65.4 855.7h1.3M49.7 859.0h1.3M69.3 847.0h1.3M75.6 860.9h1.3M69.8 848.4h1.3M88.0 831.8h1.3M60.8 858.9h1.3M72.7 809.6h1.3M106.1 806.7h1.3M105.9 825.2h1.3M110.7 804.2h1.3M88.3 831.7h1.3M124.5 789.8h1.3M104.5 787.5h1.3M92.3 803.1h1.3M96.9 788.6h1.3M78.8 799.2h1.3M104.8 837.3h1.3M99.3 807.8h1.3M84.3 842.1h1.3M95.0 770.8h1.3M82.0 844.5h1.3M92.1 815.6h1.3M77.4 823.1h1.3M95.9 829.4h1.3M104.3 811.5h1.3M96.3 826.8h1.3M95.3 815.2h1.3M102.6 793.6h1.3M79.7 807.9h1.3M104.6 809.6h1.3M92.8 817.6h1.3M74.7 831.1h1.3M111.2 806.0h1.3M79.9 807.3h1.3M80.5 808.7h1.3M113.2 818.8h1.3M97.3 802.8h1.3M99.4 790.5h1.3M100.7 803.5h1.3M86.0 796.1h1.3M109.2 799.8h1.3M59.0 834.6h1.3M105.6 827.0h1.3M103.4 810.0h1.3M108.4 802.3h1.3M88.0 816.0h1.3M104.8 804.1h1.3M103.4 800.1h1.3M104.4 819.3h1.3M109.5 804.2h1.3M91.8 851.3h1.3M85.0 847.0h1.3M94.3 818.8h1.3M91.4 814.4h1.3M101.3 806.1h1.3M69.0 812.0h1.3M97.5 822.1h1.3M96.1 822.7h1.3M86.2 810.6h1.3M119.0 795.2h1.3M95.9 809.5h1.3M90.2 788.4h1.3M102.5 825.6h1.3M97.6 792.1h1.3M95.8 821.4h1.3M84.3 828.5h1.3M72.8 803.3h1.3M107.5 801.3h1.3M89.8 786.3h1.3M82.0 825.5h1.3M108.6 835.6h1.3M88.5 822.4h1.3M102.4 806.3h1.3M95.2 781.4h1.3M103.5 794.6h1.3M91.7 827.1h1.3M104.0 835.7h1.3M102.2 823.0h1.3M98.7 785.3h1.3M93.0 822.7h1.3M99.3 827.7h1.3M90.9 802.6h1.3M99.8 821.3h1.3M104.4 836.7h1.3M90.6 819.8h1.3M106.8 828.2h1.3M113.9 799.4h1.3M101.6 797.9h1.3M113.0 783.3h1.3M104.9 803.0h1.3M103.9 797.3h1.3M81.1 805.2h1.3M96.8 770.8h1.3M77.9 839.8h1.3M119.6 781.4h1.3M96.0 818.5h1.3M78.3 801.6h1.3M97.8 814.3h1.3M92.5 785.2h1.3M69.2 838.6h1.3M99.7 803.0h1.3M99.3 806.1h1.3M82.1 809.2h1.3M103.3 802.1h1.3M112.0 803.0h1.3M67.9 819.8h1.3M106.7 843.7h1.3M95.4 823.9h1.3M103.7 810.7h1.3M110.8 755.0h1.3M90.4 808.7h1.3M103.3 805.9h1.3M103.7 828.0h1.3M107.8 791.2h1.3M94.1 809.0h1.3M93.6 836.5h1.3M86.6 821.9h1.3M94.2 788.9h1.3M102.0 819.3h1.3M101.3 776.0h1.3M97.3 788.1h1.3M103.8 803.5h1.3M100.0 829.7h1.3M107.9 779.4h1.3M87.6 799.7h1.3M108.0 779.7h1.3M96.8 831.0h1.3M82.1 829.0h1.3M97.5 846.8h1.3M103.9 770.5h1.3M87.8 816.5h1.3M98.9 818.9h1.3M96.0 781.3h1.3M82.6 794.8h1.3M105.0 783.4h1.3M107.3 824.4h1.3M109.3 814.4h1.3M118.8 796.5h1.3M92.9 821.0h1.3M97.3 801.5h1.3M99.1 781.2h1.3M115.6 796.6h1.3M76.5 835.9h1.3M86.6 820.6h1.3M97.6 801.2h1.3M93.1 805.2h1.3M101.1 811.0h1.3M94.0 793.4h1.3M89.2 807.2h1.3M82.5 805.9h1.3M108.9 795.0h1.3M89.9 807.6h1.3M88.1 813.0h1.3M103.4 838.2h1.3M104.6 751.2h1.3M95.7 828.6h1.3M85.7 792.9h1.3M90.9 840.5h1.3M98.8 844.7h1.3M94.9 816.2h1.3M91.7 806.1h1.3M93.4 809.2h1.3M103.4 787.8h1.3M91.8 806.7h1.3M86.4 815.6h1.3M114.3 814.1h1.3M105.7 791.0h1.3M116.2 784.8h1.3M96.7 804.1h1.3M93.0 826.4h1.3M80.3 807.6h1.3M107.7 835.1h1.3M102.9 806.3h1.3M93.8 803.2h1.3M109.9 804.3h1.3M100.0 814.7h1.3M98.4 790.0h1.3M91.0 802.8h1.3M97.0 797.1h1.3M96.5 787.1h1.3M103.9 780.0h1.3M83.6 818.3h1.3M92.8 794.5h1.3M119.5 783.6h1.3M86.6 794.9h1.3M90.0 805.9h1.3M90.5 838.4h1.3M104.8 771.0h1.3M113.8 799.5h1.3M88.2 822.2h1.3M103.0 805.3h1.3M92.4 827.0h1.3M105.3 813.0h1.3M82.4 831.6h1.3M91.1 815.0h1.3M95.3 794.3h1.3M106.3 761.8h1.3M111.5 798.1h1.3M100.7 791.9h1.3M89.8 820.4h1.3M102.0 797.8h1.3M105.8 800.7h1.3M83.1 818.9h1.3M100.8 783.3h1.3M105.3 839.7h1.3M83.4 818.1h1.3M92.0 788.7h1.3M101.8 825.5h1.3M115.8 829.7h1.3M122.8 815.6h1.3M98.3 806.1h1.3M91.2 817.5h1.3M93.9 815.9h1.3M89.5 791.3h1.3M72.0 815.5h1.3M105.0 783.7h1.3M96.4 808.0h1.3M105.9 793.1h1.3M100.4 793.8h1.3M95.8 809.7h1.3M96.4 841.5h1.3M78.5 829.8h1.3M101.4 797.5h1.3M117.8 800.9h1.3M120.8 783.0h1.3M114.9 818.6h1.3M91.1 821.8h1.3M100.8 791.4h1.3M93.0 808.7h1.3M81.8 777.8h1.3M114.4 791.3h1.3M101.9 811.1h1.3M101.8 827.3h1.3M106.2 756.0h1.3M104.6 785.5h1.3M90.5 811.7h1.3M84.1 806.7h1.3M104.7 835.4h1.3M102.1 810.2h1.3M103.3 804.7h1.3M79.2 829.1h1.3M110.1 801.3h1.3M84.9 824.3h1.3M96.9 827.3h1.3M99.3 802.6h1.3M96.4 819.6h1.3M116.9 832.4h1.3M122.1 832.5h1.3M135.4 847.2h1.3M107.8 851.5h1.3M117.5 832.8h1.3M98.9 823.4h1.3M99.9 849.8h1.3M136.8 830.4h1.3M121.4 845.9h1.3M132.1 845.4h1.3M140.3 848.2h1.3M106.1 849.3h1.3M78.4 846.6h1.3M119.7 849.4h1.3M114.8 853.5h1.3M138.2 827.4h1.3M109.5 846.9h1.3M126.5 842.4h1.3M129.2 824.4h1.3M133.6 854.6h1.3M137.5 844.2h1.3M114.9 847.8h1.3M113.2 821.9h1.3M107.8 843.3h1.3M107.3 831.6h1.3M113.3 837.9h1.3M119.0 841.2h1.3M123.1 854.2h1.3M121.2 846.8h1.3M90.9 807.9h1.3M112.8 851.9h1.3M110.9 835.0h1.3M99.3 857.1h1.3M109.7 846.7h1.3M138.1 845.5h1.3M155.3 833.7h1.3M135.6 848.1h1.3M107.1 844.5h1.3M106.2 830.5h1.3M121.3 831.2h1.3M144.4 827.6h1.3M109.1 844.8h1.3M109.4 844.2h1.3M104.6 825.6h1.3M74.7 832.6h1.3M144.5 843.2h1.3M119.5 835.6h1.3M116.2 846.3h1.3M92.9 835.9h1.3M105.9 860.7h1.3M103.0 860.1h1.3M116.8 842.6h1.3M142.6 849.2h1.3M131.3 825.5h1.3M140.8 860.2h1.3M115.2 836.1h1.3M102.0 858.2h1.3M122.9 841.2h1.3M101.0 866.4h1.3M132.6 839.2h1.3M140.6 825.5h1.3M130.5 826.6h1.3M141.0 834.3h1.3M137.5 833.1h1.3M127.3 855.4h1.3M103.1 845.9h1.3M105.9 855.4h1.3M107.1 839.0h1.3M117.2 857.5h1.3M100.5 844.7h1.3M111.3 835.9h1.3M104.5 842.3h1.3M117.8 821.6h1.3M119.2 826.1h1.3M101.7 844.0h1.3M116.0 855.3h1.3M106.0 820.5h1.3M91.4 849.0h1.3M124.6 854.9h1.3M110.5 852.1h1.3M103.1 861.7h1.3M115.3 833.5h1.3M124.9 863.8h1.3M101.0 828.6h1.3M98.4 830.2h1.3M117.9 846.6h1.3M115.7 845.0h1.3M137.2 834.8h1.3M91.9 816.4h1.3M120.5 832.6h1.3M114.8 848.0h1.3M122.2 820.6h1.3M102.1 845.8h1.3M118.2 857.1h1.3M104.9 817.0h1.3M133.9 817.6h1.3M102.6 849.9h1.3M123.2 848.2h1.3M125.4 831.2h1.3M135.2 816.7h1.3M108.8 847.4h1.3M118.1 829.3h1.3M147.8 856.2h1.3M103.2 849.5h1.3M106.4 838.3h1.3M134.8 840.7h1.3M116.4 843.6h1.3M101.1 861.1h1.3M108.4 861.0h1.3M109.3 837.5h1.3M143.3 840.1h1.3M106.1 837.0h1.3M132.4 864.2h1.3M127.4 835.2h1.3M97.7 836.7h1.3M116.6 845.5h1.3M109.9 860.3h1.3M100.4 835.7h1.3M127.4 846.7h1.3M113.6 855.5h1.3M98.1 867.1h1.3M159.0 860.5h1.3M124.4 866.8h1.3M121.9 858.9h1.3M115.1 845.1h1.3M122.8 818.1h1.3M118.4 864.6h1.3M69.9 855.6h1.3M134.2 843.5h1.3M124.4 859.2h1.3M119.3 816.8h1.3M101.5 841.0h1.3M119.4 835.8h1.3M120.0 863.7h1.3M71.5 865.4h1.3M135.0 846.9h1.3M118.4 842.8h1.3M124.6 844.0h1.3M107.6 854.1h1.3M104.1 843.9h1.3M109.4 828.3h1.3M128.0 839.3h1.3M98.3 844.4h1.3M98.2 864.4h1.3M131.1 865.9h1.3M110.1 852.7h1.3M99.9 834.0h1.3M117.4 847.5h1.3M132.8 835.9h1.3M138.6 851.1h1.3M103.0 842.3h1.3M106.5 866.5h1.3M110.8 854.9h1.3M132.7 836.1h1.3M110.6 847.8h1.3M102.2 828.1h1.3M102.6 849.2h1.3M125.2 863.9h1.3M88.6 853.8h1.3M101.4 860.1h1.3M129.9 841.6h1.3M141.7 832.9h1.3M106.8 830.2h1.3M107.3 845.4h1.3M132.1 856.3h1.3M111.9 833.5h1.3M111.5 837.5h1.3M109.3 838.3h1.3M103.4 843.9h1.3M109.1 841.4h1.3M95.3 847.9h1.3M129.0 848.6h1.3M106.3 829.1h1.3M93.7 830.9h1.3M106.6 839.9h1.3M90.0 855.7h1.3M90.9 837.8h1.3M107.9 854.6h1.3M147.8 832.1h1.3M112.6 837.8h1.3M114.3 840.4h1.3M156.5 821.0h1.3M114.4 832.3h1.3M122.8 834.4h1.3M125.1 826.6h1.3M153.5 838.5h1.3M90.2 856.0h1.3M107.6 828.7h1.3M124.2 834.1h1.3M129.0 832.9h1.3M133.3 841.3h1.3M124.3 843.0h1.3M111.2 838.5h1.3M127.1 849.7h1.3M143.5 822.6h1.3M135.8 837.9h1.3M120.1 831.3h1.3M143.5 826.8h1.3M115.0 833.1h1.3M152.8 852.2h1.3M95.2 840.2h1.3M123.1 835.5h1.3M109.8 829.5h1.3M119.7 827.5h1.3M116.3 863.7h1.3M122.7 832.5h1.3M110.2 830.9h1.3M121.5 850.5h1.3M132.8 835.8h1.3M98.1 844.5h1.3M146.3 840.7h1.3M112.3 816.0h1.3M112.1 850.1h1.3M105.4 861.8h1.3M106.7 832.7h1.3M108.2 842.5h1.3M133.2 832.0h1.3M88.4 846.2h1.3M130.0 859.9h1.3M102.8 863.9h1.3M130.2 845.8h1.3M103.4 833.2h1.3M104.3 856.5h1.3M124.0 854.8h1.3M148.0 837.0h1.3M121.5 866.3h1.3M95.5 840.2h1.3M111.1 838.4h1.3M118.5 831.1h1.3M134.1 821.5h1.3M100.8 823.2h1.3M96.2 853.5h1.3M127.9 837.7h1.3M133.3 847.3h1.3M108.4 843.2h1.3M128.5 866.2h1.3M111.6 848.0h1.3M129.7 855.8h1.3M127.4 854.3h1.3M99.9 841.9h1.3M86.0 847.1h1.3M156.9 838.3h1.3M120.1 845.1h1.3M117.5 825.0h1.3M106.2 841.9h1.3M118.9 830.8h1.3M114.7 833.2h1.3M94.8 837.7h1.3M106.6 854.9h1.3M141.3 845.4h1.3M113.3 835.7h1.3M91.0 840.0h1.3M146.3 852.0h1.3M121.2 838.4h1.3M119.0 847.4h1.3M118.8 847.5h1.3M105.4 844.9h1.3M114.6 856.6h1.3M100.5 861.9h1.3M115.5 836.0h1.3M118.6 843.6h1.3M115.1 848.1h1.3M104.8 822.6h1.3M129.4 839.7h1.3M146.3 842.1h1.3M87.8 863.4h1.3M107.9 850.9h1.3M156.9 849.3h1.3M99.8 844.1h1.3M93.1 855.1h1.3M125.0 827.6h1.3M127.5 852.4h1.3M129.8 831.4h1.3M104.2 830.1h1.3M97.5 849.8h1.3M121.5 858.2h1.3M121.8 837.3h1.3M98.0 865.5h1.3M120.7 841.2h1.3M99.2 831.9h1.3M126.3 828.1h1.3M129.0 848.2h1.3M108.2 823.0h1.3M127.9 858.4h1.3M101.7 828.8h1.3M136.2 840.7h1.3M110.5 859.2h1.3M114.5 848.5h1.3M109.8 833.9h1.3M119.7 830.8h1.3M87.7 840.5h1.3M140.7 852.2h1.3M155.9 848.2h1.3M145.1 840.6h1.3M111.9 849.2h1.3M104.0 854.0h1.3M111.2 846.6h1.3M103.7 842.9h1.3M133.7 836.6h1.3M107.6 847.6h1.3M132.1 837.3h1.3M95.4 826.1h1.3M98.4 859.2h1.3M117.6 848.3h1.3M136.3 842.6h1.3M124.8 834.5h1.3M93.0 854.6h1.3M117.7 849.5h1.3M100.2 843.5h1.3M149.3 825.9h1.3M122.5 858.1h1.3M114.5 844.4h1.3M84.7 857.9h1.3M113.6 859.4h1.3M115.7 837.8h1.3M124.7 837.9h1.3M112.9 862.7h1.3M134.4 840.7h1.3M133.1 850.0h1.3M127.7 841.0h1.3M120.1 847.0h1.3M128.1 844.9h1.3M108.8 842.8h1.3M123.4 828.7h1.3M61.9 866.9h1.3M64.6 865.7h1.3M61.6 865.5h1.3M77.4 865.6h1.3M66.7 866.3h1.3M54.6 864.5h1.3M59.7 865.0h1.3M51.7 866.0h1.3M50.0 866.4h1.3M50.4 865.5h1.3M58.4 867.7h1.3M86.7 867.1h1.3M50.5 866.0h1.3M76.3 866.9h1.3M50.4 866.9h1.3M72.0 865.4h1.3M95.6 865.7h1.3M100.3 865.8h1.3M60.7 868.2h1.3M53.8 865.5h1.3M85.1 866.0h1.3M69.5 864.6h1.3M90.0 867.1h1.3M67.6 866.8h1.3M54.2 865.5h1.3M81.4 867.0h1.3M76.4 866.8h1.3M47.6 864.5h1.3M72.0 866.2h1.3M77.4 865.7h1.3M48.2 866.5h1.3M53.3 864.1h1.3M52.5 865.0h1.3M44.5 865.4h1.3M76.9 868.7h1.3M89.1 865.5h1.3M79.9 865.9h1.3M68.3 865.2h1.3M60.8 864.1h1.3M90.1 865.1h1.3M71.2 865.3h1.3M66.2 864.7h1.3M77.0 734.0h1.3M79.0 764.0h1.3M107.0 740.0h1.3M110.0 743.0h1.3M139.0 721.0h1.3M148.0 732.0h1.3M137.0 755.0h1.3" stroke="#000" stroke-width="1.3" fill="none" opacity="0.93"/>
<rect x="36.3" y="717.9" width="184.6" height="153.4" fill="none" stroke="#000" stroke-width="1.2"/>
<line x1="98.8" y1="866.8" x2="121.4" y2="745.5" stroke="#000" stroke-width="1.35" stroke-linecap="butt"/>
<line x1="33.3" y1="871" x2="36.3" y2="871" stroke="#000" stroke-width="0.9" stroke-linecap="butt"/>
<text transform="translate(30.3 870.6) scale(1 1) rotate(-90)" font-size="7.7" font-weight="normal" text-anchor="middle" fill="#000">0</text>
<line x1="33.3" y1="841.2" x2="36.3" y2="841.2" stroke="#000" stroke-width="0.9" stroke-linecap="butt"/>
<text transform="translate(30.3 841.2) scale(1 1) rotate(-90)" font-size="7.7" font-weight="normal" text-anchor="middle" fill="#000">200</text>
<line x1="33.3" y1="811.4" x2="36.3" y2="811.4" stroke="#000" stroke-width="0.9" stroke-linecap="butt"/>
<text transform="translate(30.3 811.4) scale(1 1) rotate(-90)" font-size="7.7" font-weight="normal" text-anchor="middle" fill="#000">400</text>
<line x1="33.3" y1="781.6" x2="36.3" y2="781.6" stroke="#000" stroke-width="0.9" stroke-linecap="butt"/>
<text transform="translate(30.3 781.6) scale(1 1) rotate(-90)" font-size="7.7" font-weight="normal" text-anchor="middle" fill="#000">600</text>
<line x1="33.3" y1="751.8" x2="36.3" y2="751.8" stroke="#000" stroke-width="0.9" stroke-linecap="butt"/>
<text transform="translate(30.3 751.8) scale(1 1) rotate(-90)" font-size="7.7" font-weight="normal" text-anchor="middle" fill="#000">800</text>
<line x1="33.3" y1="722" x2="36.3" y2="722" stroke="#000" stroke-width="0.9" stroke-linecap="butt"/>
<text transform="translate(30.3 722) scale(1 1) rotate(-90)" font-size="7.7" font-weight="normal" text-anchor="middle" fill="#000">1000</text>
<line x1="34.8" y1="869.51" x2="36.3" y2="869.51" stroke="#111" stroke-width="0.75" stroke-linecap="butt"/>
<line x1="34.8" y1="868.02" x2="36.3" y2="868.02" stroke="#111" stroke-width="0.75" stroke-linecap="butt"/>
<line x1="34.8" y1="866.53" x2="36.3" y2="866.53" stroke="#111" stroke-width="0.75" stroke-linecap="butt"/>
<line x1="34.8" y1="865.04" x2="36.3" y2="865.04" stroke="#111" stroke-width="0.75" stroke-linecap="butt"/>
<line x1="34.8" y1="863.55" x2="36.3" y2="863.55" stroke="#111" stroke-width="0.75" stroke-linecap="butt"/>
<line x1="34.8" y1="862.06" x2="36.3" y2="862.06" stroke="#111" stroke-width="0.75" stroke-linecap="butt"/>
<line x1="34.8" y1="860.57" x2="36.3" y2="860.57" stroke="#111" stroke-width="0.75" stroke-linecap="butt"/>
<line x1="34.8" y1="859.08" x2="36.3" y2="859.08" stroke="#111" stroke-width="0.75" stroke-linecap="butt"/>
<line x1="34.8" y1="857.59" x2="36.3" y2="857.59" stroke="#111" stroke-width="0.75" stroke-linecap="butt"/>
<line x1="34.3" y1="856.1" x2="36.3" y2="856.1" stroke="#111" stroke-width="0.75" stroke-linecap="butt"/>
<line x1="34.8" y1="854.61" x2="36.3" y2="854.61" stroke="#111" stroke-width="0.75" stroke-linecap="butt"/>
<line x1="34.8" y1="853.12" x2="36.3" y2="853.12" stroke="#111" stroke-width="0.75" stroke-linecap="butt"/>
<line x1="34.8" y1="851.63" x2="36.3" y2="851.63" stroke="#111" stroke-width="0.75" stroke-linecap="butt"/>
<line x1="34.8" y1="850.14" x2="36.3" y2="850.14" stroke="#111" stroke-width="0.75" stroke-linecap="butt"/>
<line x1="34.8" y1="848.65" x2="36.3" y2="848.65" stroke="#111" stroke-width="0.75" stroke-linecap="butt"/>
<line x1="34.8" y1="847.16" x2="36.3" y2="847.16" stroke="#111" stroke-width="0.75" stroke-linecap="butt"/>
<line x1="34.8" y1="845.67" x2="36.3" y2="845.67" stroke="#111" stroke-width="0.75" stroke-linecap="butt"/>
<line x1="34.8" y1="844.18" x2="36.3" y2="844.18" stroke="#111" stroke-width="0.75" stroke-linecap="butt"/>
<line x1="34.8" y1="842.69" x2="36.3" y2="842.69" stroke="#111" stroke-width="0.75" stroke-linecap="butt"/>
<line x1="34.8" y1="839.71" x2="36.3" y2="839.71" stroke="#111" stroke-width="0.75" stroke-linecap="butt"/>
<line x1="34.8" y1="838.22" x2="36.3" y2="838.22" stroke="#111" stroke-width="0.75" stroke-linecap="butt"/>
<line x1="34.8" y1="836.73" x2="36.3" y2="836.73" stroke="#111" stroke-width="0.75" stroke-linecap="butt"/>
<line x1="34.8" y1="835.24" x2="36.3" y2="835.24" stroke="#111" stroke-width="0.75" stroke-linecap="butt"/>
<line x1="34.8" y1="833.75" x2="36.3" y2="833.75" stroke="#111" stroke-width="0.75" stroke-linecap="butt"/>
<line x1="34.8" y1="832.26" x2="36.3" y2="832.26" stroke="#111" stroke-width="0.75" stroke-linecap="butt"/>
<line x1="34.8" y1="830.77" x2="36.3" y2="830.77" stroke="#111" stroke-width="0.75" stroke-linecap="butt"/>
<line x1="34.8" y1="829.28" x2="36.3" y2="829.28" stroke="#111" stroke-width="0.75" stroke-linecap="butt"/>
<line x1="34.8" y1="827.79" x2="36.3" y2="827.79" stroke="#111" stroke-width="0.75" stroke-linecap="butt"/>
<line x1="34.3" y1="826.3" x2="36.3" y2="826.3" stroke="#111" stroke-width="0.75" stroke-linecap="butt"/>
<line x1="34.8" y1="824.81" x2="36.3" y2="824.81" stroke="#111" stroke-width="0.75" stroke-linecap="butt"/>
<line x1="34.8" y1="823.32" x2="36.3" y2="823.32" stroke="#111" stroke-width="0.75" stroke-linecap="butt"/>
<line x1="34.8" y1="821.83" x2="36.3" y2="821.83" stroke="#111" stroke-width="0.75" stroke-linecap="butt"/>
<line x1="34.8" y1="820.34" x2="36.3" y2="820.34" stroke="#111" stroke-width="0.75" stroke-linecap="butt"/>
<line x1="34.8" y1="818.85" x2="36.3" y2="818.85" stroke="#111" stroke-width="0.75" stroke-linecap="butt"/>
<line x1="34.8" y1="817.36" x2="36.3" y2="817.36" stroke="#111" stroke-width="0.75" stroke-linecap="butt"/>
<line x1="34.8" y1="815.87" x2="36.3" y2="815.87" stroke="#111" stroke-width="0.75" stroke-linecap="butt"/>
<line x1="34.8" y1="814.38" x2="36.3" y2="814.38" stroke="#111" stroke-width="0.75" stroke-linecap="butt"/>
<line x1="34.8" y1="812.89" x2="36.3" y2="812.89" stroke="#111" stroke-width="0.75" stroke-linecap="butt"/>
<line x1="34.8" y1="809.91" x2="36.3" y2="809.91" stroke="#111" stroke-width="0.75" stroke-linecap="butt"/>
<line x1="34.8" y1="808.42" x2="36.3" y2="808.42" stroke="#111" stroke-width="0.75" stroke-linecap="butt"/>
<line x1="34.8" y1="806.93" x2="36.3" y2="806.93" stroke="#111" stroke-width="0.75" stroke-linecap="butt"/>
<line x1="34.8" y1="805.44" x2="36.3" y2="805.44" stroke="#111" stroke-width="0.75" stroke-linecap="butt"/>
<line x1="34.8" y1="803.95" x2="36.3" y2="803.95" stroke="#111" stroke-width="0.75" stroke-linecap="butt"/>
<line x1="34.8" y1="802.46" x2="36.3" y2="802.46" stroke="#111" stroke-width="0.75" stroke-linecap="butt"/>
<line x1="34.8" y1="800.97" x2="36.3" y2="800.97" stroke="#111" stroke-width="0.75" stroke-linecap="butt"/>
<line x1="34.8" y1="799.48" x2="36.3" y2="799.48" stroke="#111" stroke-width="0.75" stroke-linecap="butt"/>
<line x1="34.8" y1="797.99" x2="36.3" y2="797.99" stroke="#111" stroke-width="0.75" stroke-linecap="butt"/>
<line x1="34.3" y1="796.5" x2="36.3" y2="796.5" stroke="#111" stroke-width="0.75" stroke-linecap="butt"/>
<line x1="34.8" y1="795.01" x2="36.3" y2="795.01" stroke="#111" stroke-width="0.75" stroke-linecap="butt"/>
<line x1="34.8" y1="793.52" x2="36.3" y2="793.52" stroke="#111" stroke-width="0.75" stroke-linecap="butt"/>
<line x1="34.8" y1="792.03" x2="36.3" y2="792.03" stroke="#111" stroke-width="0.75" stroke-linecap="butt"/>
<line x1="34.8" y1="790.54" x2="36.3" y2="790.54" stroke="#111" stroke-width="0.75" stroke-linecap="butt"/>
<line x1="34.8" y1="789.05" x2="36.3" y2="789.05" stroke="#111" stroke-width="0.75" stroke-linecap="butt"/>
<line x1="34.8" y1="787.56" x2="36.3" y2="787.56" stroke="#111" stroke-width="0.75" stroke-linecap="butt"/>
<line x1="34.8" y1="786.07" x2="36.3" y2="786.07" stroke="#111" stroke-width="0.75" stroke-linecap="butt"/>
<line x1="34.8" y1="784.58" x2="36.3" y2="784.58" stroke="#111" stroke-width="0.75" stroke-linecap="butt"/>
<line x1="34.8" y1="783.09" x2="36.3" y2="783.09" stroke="#111" stroke-width="0.75" stroke-linecap="butt"/>
<line x1="34.8" y1="780.11" x2="36.3" y2="780.11" stroke="#111" stroke-width="0.75" stroke-linecap="butt"/>
<line x1="34.8" y1="778.62" x2="36.3" y2="778.62" stroke="#111" stroke-width="0.75" stroke-linecap="butt"/>
<line x1="34.8" y1="777.13" x2="36.3" y2="777.13" stroke="#111" stroke-width="0.75" stroke-linecap="butt"/>
<line x1="34.8" y1="775.64" x2="36.3" y2="775.64" stroke="#111" stroke-width="0.75" stroke-linecap="butt"/>
<line x1="34.8" y1="774.15" x2="36.3" y2="774.15" stroke="#111" stroke-width="0.75" stroke-linecap="butt"/>
<line x1="34.8" y1="772.66" x2="36.3" y2="772.66" stroke="#111" stroke-width="0.75" stroke-linecap="butt"/>
<line x1="34.8" y1="771.17" x2="36.3" y2="771.17" stroke="#111" stroke-width="0.75" stroke-linecap="butt"/>
<line x1="34.8" y1="769.68" x2="36.3" y2="769.68" stroke="#111" stroke-width="0.75" stroke-linecap="butt"/>
<line x1="34.8" y1="768.19" x2="36.3" y2="768.19" stroke="#111" stroke-width="0.75" stroke-linecap="butt"/>
<line x1="34.3" y1="766.7" x2="36.3" y2="766.7" stroke="#111" stroke-width="0.75" stroke-linecap="butt"/>
<line x1="34.8" y1="765.21" x2="36.3" y2="765.21" stroke="#111" stroke-width="0.75" stroke-linecap="butt"/>
<line x1="34.8" y1="763.72" x2="36.3" y2="763.72" stroke="#111" stroke-width="0.75" stroke-linecap="butt"/>
<line x1="34.8" y1="762.23" x2="36.3" y2="762.23" stroke="#111" stroke-width="0.75" stroke-linecap="butt"/>
<line x1="34.8" y1="760.74" x2="36.3" y2="760.74" stroke="#111" stroke-width="0.75" stroke-linecap="butt"/>
<line x1="34.8" y1="759.25" x2="36.3" y2="759.25" stroke="#111" stroke-width="0.75" stroke-linecap="butt"/>
<line x1="34.8" y1="757.76" x2="36.3" y2="757.76" stroke="#111" stroke-width="0.75" stroke-linecap="butt"/>
<line x1="34.8" y1="756.27" x2="36.3" y2="756.27" stroke="#111" stroke-width="0.75" stroke-linecap="butt"/>
<line x1="34.8" y1="754.78" x2="36.3" y2="754.78" stroke="#111" stroke-width="0.75" stroke-linecap="butt"/>
<line x1="34.8" y1="753.29" x2="36.3" y2="753.29" stroke="#111" stroke-width="0.75" stroke-linecap="butt"/>
<line x1="34.8" y1="750.31" x2="36.3" y2="750.31" stroke="#111" stroke-width="0.75" stroke-linecap="butt"/>
<line x1="34.8" y1="748.82" x2="36.3" y2="748.82" stroke="#111" stroke-width="0.75" stroke-linecap="butt"/>
<line x1="34.8" y1="747.33" x2="36.3" y2="747.33" stroke="#111" stroke-width="0.75" stroke-linecap="butt"/>
<line x1="34.8" y1="745.84" x2="36.3" y2="745.84" stroke="#111" stroke-width="0.75" stroke-linecap="butt"/>
<line x1="34.8" y1="744.35" x2="36.3" y2="744.35" stroke="#111" stroke-width="0.75" stroke-linecap="butt"/>
<line x1="34.8" y1="742.86" x2="36.3" y2="742.86" stroke="#111" stroke-width="0.75" stroke-linecap="butt"/>
<line x1="34.8" y1="741.37" x2="36.3" y2="741.37" stroke="#111" stroke-width="0.75" stroke-linecap="butt"/>
<line x1="34.8" y1="739.88" x2="36.3" y2="739.88" stroke="#111" stroke-width="0.75" stroke-linecap="butt"/>
<line x1="34.8" y1="738.39" x2="36.3" y2="738.39" stroke="#111" stroke-width="0.75" stroke-linecap="butt"/>
<line x1="34.3" y1="736.9" x2="36.3" y2="736.9" stroke="#111" stroke-width="0.75" stroke-linecap="butt"/>
<line x1="34.8" y1="735.41" x2="36.3" y2="735.41" stroke="#111" stroke-width="0.75" stroke-linecap="butt"/>
<line x1="34.8" y1="733.92" x2="36.3" y2="733.92" stroke="#111" stroke-width="0.75" stroke-linecap="butt"/>
<line x1="34.8" y1="732.43" x2="36.3" y2="732.43" stroke="#111" stroke-width="0.75" stroke-linecap="butt"/>
<line x1="34.8" y1="730.94" x2="36.3" y2="730.94" stroke="#111" stroke-width="0.75" stroke-linecap="butt"/>
<line x1="34.8" y1="729.45" x2="36.3" y2="729.45" stroke="#111" stroke-width="0.75" stroke-linecap="butt"/>
<line x1="34.8" y1="727.96" x2="36.3" y2="727.96" stroke="#111" stroke-width="0.75" stroke-linecap="butt"/>
<line x1="34.8" y1="726.47" x2="36.3" y2="726.47" stroke="#111" stroke-width="0.75" stroke-linecap="butt"/>
<line x1="34.8" y1="724.98" x2="36.3" y2="724.98" stroke="#111" stroke-width="0.75" stroke-linecap="butt"/>
<line x1="34.8" y1="723.49" x2="36.3" y2="723.49" stroke="#111" stroke-width="0.75" stroke-linecap="butt"/>
<line x1="34.8" y1="720.51" x2="36.3" y2="720.51" stroke="#111" stroke-width="0.75" stroke-linecap="butt"/>
<line x1="34.8" y1="719.02" x2="36.3" y2="719.02" stroke="#111" stroke-width="0.75" stroke-linecap="butt"/>
<line x1="36.5" y1="871.3" x2="36.5" y2="874.3" stroke="#000" stroke-width="0.9" stroke-linecap="butt"/>
<text x="32.9" y="885.6" font-size="8.4" text-anchor="start" fill="#111">10<tspan font-size="6" dy="-3.3">0</tspan></text>
<line x1="50.17" y1="871.3" x2="50.17" y2="873.1" stroke="#111" stroke-width="0.75" stroke-linecap="butt"/>
<line x1="58.16" y1="871.3" x2="58.16" y2="873.1" stroke="#111" stroke-width="0.75" stroke-linecap="butt"/>
<line x1="63.83" y1="871.3" x2="63.83" y2="873.1" stroke="#111" stroke-width="0.75" stroke-linecap="butt"/>
<line x1="68.23" y1="871.3" x2="68.23" y2="873.1" stroke="#111" stroke-width="0.75" stroke-linecap="butt"/>
<line x1="71.83" y1="871.3" x2="71.83" y2="873.1" stroke="#111" stroke-width="0.75" stroke-linecap="butt"/>
<line x1="74.87" y1="871.3" x2="74.87" y2="873.1" stroke="#111" stroke-width="0.75" stroke-linecap="butt"/>
<line x1="77.5" y1="871.3" x2="77.5" y2="873.1" stroke="#111" stroke-width="0.75" stroke-linecap="butt"/>
<line x1="79.82" y1="871.3" x2="79.82" y2="873.1" stroke="#111" stroke-width="0.75" stroke-linecap="butt"/>
<line x1="81.9" y1="871.3" x2="81.9" y2="874.3" stroke="#000" stroke-width="0.9" stroke-linecap="butt"/>
<text x="78.3" y="885.6" font-size="8.4" text-anchor="start" fill="#111">10<tspan font-size="6" dy="-3.3">1</tspan></text>
<line x1="95.57" y1="871.3" x2="95.57" y2="873.1" stroke="#111" stroke-width="0.75" stroke-linecap="butt"/>
<line x1="103.56" y1="871.3" x2="103.56" y2="873.1" stroke="#111" stroke-width="0.75" stroke-linecap="butt"/>
<line x1="109.23" y1="871.3" x2="109.23" y2="873.1" stroke="#111" stroke-width="0.75" stroke-linecap="butt"/>
<line x1="113.63" y1="871.3" x2="113.63" y2="873.1" stroke="#111" stroke-width="0.75" stroke-linecap="butt"/>
<line x1="117.23" y1="871.3" x2="117.23" y2="873.1" stroke="#111" stroke-width="0.75" stroke-linecap="butt"/>
<line x1="120.27" y1="871.3" x2="120.27" y2="873.1" stroke="#111" stroke-width="0.75" stroke-linecap="butt"/>
<line x1="122.9" y1="871.3" x2="122.9" y2="873.1" stroke="#111" stroke-width="0.75" stroke-linecap="butt"/>
<line x1="125.22" y1="871.3" x2="125.22" y2="873.1" stroke="#111" stroke-width="0.75" stroke-linecap="butt"/>
<line x1="127.3" y1="871.3" x2="127.3" y2="874.3" stroke="#000" stroke-width="0.9" stroke-linecap="butt"/>
<text x="123.7" y="885.6" font-size="8.4" text-anchor="start" fill="#111">10<tspan font-size="6" dy="-3.3">2</tspan></text>
<line x1="140.97" y1="871.3" x2="140.97" y2="873.1" stroke="#111" stroke-width="0.75" stroke-linecap="butt"/>
<line x1="148.96" y1="871.3" x2="148.96" y2="873.1" stroke="#111" stroke-width="0.75" stroke-linecap="butt"/>
<line x1="154.63" y1="871.3" x2="154.63" y2="873.1" stroke="#111" stroke-width="0.75" stroke-linecap="butt"/>
<line x1="159.03" y1="871.3" x2="159.03" y2="873.1" stroke="#111" stroke-width="0.75" stroke-linecap="butt"/>
<line x1="162.63" y1="871.3" x2="162.63" y2="873.1" stroke="#111" stroke-width="0.75" stroke-linecap="butt"/>
<line x1="165.67" y1="871.3" x2="165.67" y2="873.1" stroke="#111" stroke-width="0.75" stroke-linecap="butt"/>
<line x1="168.3" y1="871.3" x2="168.3" y2="873.1" stroke="#111" stroke-width="0.75" stroke-linecap="butt"/>
<line x1="170.62" y1="871.3" x2="170.62" y2="873.1" stroke="#111" stroke-width="0.75" stroke-linecap="butt"/>
<line x1="172.7" y1="871.3" x2="172.7" y2="874.3" stroke="#000" stroke-width="0.9" stroke-linecap="butt"/>
<text x="169.1" y="885.6" font-size="8.4" text-anchor="start" fill="#111">10<tspan font-size="6" dy="-3.3">3</tspan></text>
<line x1="186.37" y1="871.3" x2="186.37" y2="873.1" stroke="#111" stroke-width="0.75" stroke-linecap="butt"/>
<line x1="194.36" y1="871.3" x2="194.36" y2="873.1" stroke="#111" stroke-width="0.75" stroke-linecap="butt"/>
<line x1="200.03" y1="871.3" x2="200.03" y2="873.1" stroke="#111" stroke-width="0.75" stroke-linecap="butt"/>
<line x1="204.43" y1="871.3" x2="204.43" y2="873.1" stroke="#111" stroke-width="0.75" stroke-linecap="butt"/>
<line x1="208.03" y1="871.3" x2="208.03" y2="873.1" stroke="#111" stroke-width="0.75" stroke-linecap="butt"/>
<line x1="211.07" y1="871.3" x2="211.07" y2="873.1" stroke="#111" stroke-width="0.75" stroke-linecap="butt"/>
<line x1="213.7" y1="871.3" x2="213.7" y2="873.1" stroke="#111" stroke-width="0.75" stroke-linecap="butt"/>
<line x1="216.02" y1="871.3" x2="216.02" y2="873.1" stroke="#111" stroke-width="0.75" stroke-linecap="butt"/>
<line x1="218.1" y1="871.3" x2="218.1" y2="874.3" stroke="#000" stroke-width="0.9" stroke-linecap="butt"/>
<text x="214.5" y="885.6" font-size="8.4" text-anchor="start" fill="#111">10<tspan font-size="6" dy="-3.3">4</tspan></text>
<text transform="translate(88.8 706.3) scale(1 1)" font-size="18" font-weight="bold" text-anchor="start" fill="#000" textLength="63" lengthAdjust="spacingAndGlyphs">Control</text>
<text transform="translate(14.2 801.8) scale(1.05 1) rotate(-90)" font-size="16.3" font-weight="bold" text-anchor="start" fill="#000" textLength="33.5" lengthAdjust="spacingAndGlyphs">SSC</text>
<text transform="translate(67.3 907) scale(0.92 1)" font-size="13.5" font-weight="bold" text-anchor="start" fill="#000" textLength="141.85" lengthAdjust="spacingAndGlyphs">FL1-H: annexinV-FITC</text>
<defs><filter id="soft" x="-20%" y="-20%" width="140%" height="140%"><feGaussianBlur stdDeviation="5"/></filter><clipPath id="cp"><rect x="272.9" y="717.9" width="184.6" height="153.4"/></clipPath></defs>
<g clip-path="url(#cp)"><polygon points="262,708 352,708 352,745 336,825 306,880 262,880" fill="#f6f6f6" filter="url(#soft)"/></g>
<path d="M356.6 803.5h1M441.8 789.5h1M366.6 807.7h1M308.2 796.4h1M388.7 838.4h1M291.9 765.2h1M291.3 840.9h1M400.1 726.2h1M452.3 864.0h1M393.0 811.9h1M303.3 722.1h1M370.3 728.8h1M309.3 756.0h1M280.3 789.2h1M354.5 845.8h1M368.7 815.6h1M365.2 818.9h1M357.5 761.5h1M455.1 868.7h1M426.6 825.6h1M331.8 754.2h1M327.1 730.4h1M413.3 779.7h1M427.8 777.6h1M447.9 846.5h1M275.0 751.2h1M439.3 790.1h1M452.0 779.3h1M288.1 813.9h1M415.5 760.2h1M290.6 769.6h1M449.0 833.2h1M296.2 756.7h1M293.1 728.8h1M418.8 746.4h1M375.9 786.7h1M309.3 829.2h1M298.6 816.1h1M295.9 782.8h1M313.3 760.2h1M450.2 839.9h1M329.8 852.1h1M313.0 778.8h1M429.2 815.8h1M293.0 867.7h1M313.4 758.5h1M414.4 769.0h1M328.4 730.9h1M291.2 807.0h1M318.8 809.7h1M342.0 787.6h1M448.1 792.2h1M378.7 849.4h1M307.9 742.9h1M439.0 842.1h1M320.0 748.3h1M408.4 860.4h1M310.4 861.9h1M434.2 810.1h1M351.0 735.4h1M281.9 863.7h1M318.0 825.2h1M321.3 843.0h1M382.6 763.7h1M306.6 827.5h1M287.3 754.0h1M375.9 847.2h1M385.8 761.8h1M440.6 750.4h1M277.9 760.1h1M355.4 728.9h1M306.7 775.0h1M378.2 739.6h1M340.3 853.0h1M452.0 818.0h1M399.7 807.2h1M300.2 725.1h1M278.1 855.9h1M401.5 863.7h1M278.7 814.9h1M362.0 829.0h1M332.5 869.2h1M288.5 801.5h1M408.0 854.4h1M408.0 825.0h1M418.2 856.6h1M338.4 822.3h1M437.6 850.0h1M350.2 838.0h1M430.8 805.5h1M387.8 777.0h1M380.1 810.9h1M289.4 815.4h1M454.3 851.3h1M406.4 777.9h1M407.6 806.7h1M354.5 845.2h1M290.0 832.0h1M280.3 809.7h1M361.8 754.3h1M401.0 794.2h1M385.9 857.4h1M321.1 721.6h1M329.3 821.2h1M311.5 745.2h1M438.5 818.5h1M354.7 853.1h1M333.9 819.4h1M310.8 784.3h1M420.5 856.5h1M433.9 777.3h1M380.2 767.2h1M299.5 794.1h1M426.1 846.7h1M403.3 861.8h1M324.9 745.2h1M356.3 761.0h1M313.6 781.7h1M387.9 793.7h1M331.9 845.3h1M452.3 787.5h1M288.4 724.6h1M432.5 726.1h1M402.9 805.1h1M330.7 838.2h1M278.4 740.2h1M357.0 723.6h1M424.7 755.4h1M300.3 726.9h1M388.5 786.6h1M388.7 817.8h1M420.7 863.1h1M398.5 749.7h1M360.7 746.6h1M276.8 790.4h1M403.9 746.7h1M324.1 771.6h1M400.8 797.7h1M385.9 832.9h1M346.0 838.2h1M438.6 732.9h1M443.3 827.8h1M298.4 787.7h1M387.9 855.8h1M343.0 804.9h1M433.7 838.9h1M445.4 789.2h1M392.5 750.5h1M405.3 842.2h1M390.8 827.1h1M313.4 854.4h1M452.0 865.9h1M371.9 838.0h1M332.8 855.9h1M429.5 772.0h1M289.8 785.8h1M374.3 834.7h1M362.9 724.1h1M421.0 729.5h1M419.4 745.7h1M335.4 837.6h1M300.3 742.1h1M368.2 828.0h1M426.6 822.9h1M445.7 793.5h1M446.3 732.8h1M314.9 798.6h1M327.3 828.8h1M390.3 798.0h1M427.3 803.6h1M331.2 776.9h1M427.6 854.4h1M312.5 847.0h1M449.8 798.2h1M378.4 749.9h1M371.7 795.1h1M384.2 724.0h1M450.0 797.0h1M347.2 839.6h1M376.6 793.3h1M399.7 729.7h1M372.2 781.7h1M447.7 857.9h1M323.5 790.6h1M297.8 784.7h1M422.2 854.4h1M361.0 767.3h1M309.5 812.2h1M442.0 739.2h1M415.6 723.3h1M310.0 753.9h1M399.0 768.0h1M339.1 812.5h1M293.8 829.1h1M297.1 796.2h1M320.1 749.4h1M370.7 785.2h1M342.8 781.7h1M370.5 743.8h1M311.8 814.2h1M390.2 799.0h1M428.6 811.3h1M429.6 754.7h1M408.7 841.0h1M437.9 767.1h1M331.8 857.8h1M314.3 869.1h1M435.2 739.9h1M318.1 828.5h1M321.8 734.4h1M425.2 782.9h1M417.6 738.7h1M347.6 822.3h1M278.1 749.9h1M398.1 856.1h1M449.8 737.1h1M366.2 833.2h1M365.7 822.3h1M309.0 730.4h1M294.1 725.5h1M374.5 796.8h1M377.6 741.8h1M308.2 750.4h1M426.6 867.9h1M442.3 734.1h1M286.1 862.1h1M358.3 834.1h1M333.9 789.7h1M368.0 784.2h1M383.4 721.9h1M401.5 846.0h1M307.6 787.7h1M408.4 780.5h1M310.1 744.6h1M367.5 722.2h1M436.2 839.7h1M402.2 848.5h1M388.6 780.3h1M383.2 795.2h1M452.4 840.1h1M321.5 856.0h1M409.3 836.1h1M422.0 780.5h1M436.8 851.3h1M400.4 834.5h1M413.1 780.5h1M405.4 730.4h1M336.6 789.9h1M276.8 773.0h1M390.3 813.1h1M316.8 861.0h1M395.2 770.4h1M394.1 805.0h1M371.2 778.1h1M455.5 815.9h1M401.5 833.7h1M451.9 723.3h1M386.0 830.3h1M321.2 779.9h1M284.0 749.1h1M342.7 734.6h1M320.2 855.2h1M374.2 795.8h1M449.6 804.8h1M454.6 815.2h1M421.1 731.3h1M382.8 833.3h1M283.0 858.9h1M303.8 790.4h1M305.4 793.9h1M385.3 728.6h1M445.6 782.8h1M370.0 809.2h1M340.9 762.6h1M393.2 803.7h1M326.1 827.0h1M328.4 722.0h1M319.2 726.3h1M303.2 832.6h1M345.3 854.0h1M410.1 727.4h1M453.5 861.0h1M288.2 855.2h1M352.5 791.3h1M450.7 756.3h1M369.4 859.9h1M405.4 789.9h1M451.7 841.9h1M383.9 737.1h1M387.6 788.0h1M311.7 727.7h1M370.3 738.5h1M354.9 819.7h1M357.2 759.1h1M380.1 782.6h1M415.4 799.2h1M455.1 862.2h1M407.5 755.5h1M295.5 853.3h1M416.5 813.3h1M339.8 760.5h1M398.6 804.3h1M381.8 814.5h1M411.0 748.3h1M319.9 866.3h1M440.3 851.2h1M282.0 729.0h1M323.8 783.4h1M387.5 735.2h1M372.7 730.7h1M290.5 820.9h1M374.3 814.2h1M342.3 791.4h1M312.9 771.2h1M409.4 845.2h1M288.3 737.8h1M421.0 813.1h1M413.7 751.7h1M351.5 758.5h1M421.2 775.0h1M393.0 867.7h1M333.7 801.9h1M409.6 857.5h1M352.1 775.1h1M292.4 850.7h1M289.1 732.3h1M376.8 792.3h1M398.7 764.6h1M415.0 731.3h1M313.4 818.8h1M289.7 765.3h1M405.8 823.6h1M326.0 741.3h1M339.5 828.4h1M341.1 737.4h1M403.0 804.9h1M440.8 860.3h1M439.9 785.3h1M419.9 765.4h1M332.3 779.6h1M443.7 853.6h1M319.7 773.9h1M340.9 774.2h1M346.3 777.8h1M310.1 804.1h1M418.9 800.7h1M425.9 804.0h1M306.8 833.3h1M434.0 761.9h1M278.9 796.9h1M373.2 804.7h1M449.4 817.2h1M420.2 729.5h1M373.7 837.6h1M290.1 732.1h1M408.0 854.2h1M290.2 814.6h1M300.9 831.3h1M392.1 756.6h1M314.7 834.2h1M369.1 834.1h1M346.1 770.4h1M449.8 820.4h1M364.1 800.2h1M405.1 825.7h1M440.1 781.2h1M424.1 819.5h1M429.0 840.3h1M425.5 852.7h1M447.9 815.6h1M369.5 826.0h1M419.8 782.9h1M350.8 741.7h1M408.8 868.0h1M342.7 744.9h1M311.8 783.4h1M327.6 864.8h1M285.6 766.0h1M295.6 816.7h1M415.0 746.7h1M286.2 788.4h1M380.4 855.7h1M281.5 736.1h1M308.2 752.4h1M317.4 827.1h1M382.3 753.4h1M308.3 761.9h1M306.1 833.1h1M331.2 801.8h1M422.5 791.5h1M321.9 852.5h1M440.0 771.0h1M373.8 862.9h1M362.1 752.9h1M283.9 861.5h1M419.6 777.4h1M370.2 797.0h1M324.5 867.8h1M393.7 755.4h1M276.9 790.5h1M342.0 838.9h1M403.7 810.4h1M303.3 743.3h1M333.0 758.7h1M431.9 797.0h1M389.9 868.3h1M323.0 799.8h1M302.1 835.0h1M275.1 842.6h1M427.7 842.7h1M289.8 760.2h1M404.3 734.4h1M361.6 789.9h1M447.5 807.5h1M429.7 765.3h1M417.5 782.2h1M440.5 733.5h1M424.1 751.0h1M373.0 798.4h1M303.4 844.2h1M331.1 766.3h1M288.6 765.6h1M359.3 826.7h1M339.9 822.6h1M294.0 778.8h1M358.3 864.4h1M424.8 817.6h1M277.1 776.2h1M403.1 755.4h1M376.8 788.3h1M276.8 868.0h1M419.3 750.8h1M386.2 763.3h1M342.8 800.5h1M328.8 770.3h1M345.7 819.5h1M321.2 749.8h1M407.0 769.1h1M445.6 804.0h1M405.6 769.4h1M424.2 733.7h1M300.3 734.0h1M397.3 825.7h1M307.4 780.0h1M426.0 808.5h1M291.2 753.8h1M303.3 738.4h1M348.4 730.8h1M441.2 783.7h1M367.3 816.6h1M413.4 842.6h1M344.6 769.4h1M349.3 722.2h1M347.3 824.5h1M452.2 837.9h1M394.1 810.8h1M278.2 769.4h1M336.7 817.1h1M294.1 776.3h1M366.9 837.7h1M423.9 811.2h1M303.5 834.4h1M438.0 801.8h1M338.6 794.7h1M300.5 826.5h1M453.1 797.0h1M404.1 844.7h1M310.5 861.1h1M388.2 749.5h1M289.9 756.4h1M379.0 824.0h1M334.4 858.7h1M340.1 789.1h1M297.3 865.4h1M299.4 855.0h1M373.0 803.7h1M376.1 759.4h1M439.1 868.1h1M422.5 809.8h1M297.1 843.1h1M327.0 853.9h1M318.4 805.6h1M424.9 747.6h1M373.8 731.3h1M280.7 746.8h1M453.2 860.3h1M393.8 765.9h1M396.1 830.1h1M343.8 808.3h1M420.1 722.3h1M310.9 789.8h1M300.7 777.6h1M377.8 745.8h1M368.8 759.3h1M377.5 769.5h1M390.8 725.6h1M396.1 741.5h1M448.2 809.6h1M359.8 781.4h1M387.6 822.9h1M411.8 832.2h1M362.6 868.5h1M426.3 847.6h1M348.8 784.7h1M377.1 855.1h1M369.9 798.3h1M353.0 855.0h1M332.8 728.1h1M405.9 854.4h1M407.1 809.2h1M410.7 765.4h1M382.1 730.3h1M297.4 786.7h1M365.7 779.2h1M284.3 823.7h1M369.9 755.6h1M330.2 779.0h1M317.5 730.1h1M439.5 864.3h1M395.1 849.4h1M351.0 840.2h1M315.0 831.4h1M377.3 854.9h1M292.7 838.3h1M297.3 800.2h1M446.6 720.0h1M319.0 764.6h1M333.6 729.3h1M436.6 841.7h1M346.6 773.2h1M380.6 726.8h1M280.5 854.1h1M330.5 794.4h1M443.6 865.9h1M360.3 750.8h1M328.2 857.7h1M436.9 749.1h1M426.2 772.8h1M360.2 745.6h1M433.8 868.6h1M311.4 814.4h1M309.5 851.4h1M283.9 735.8h1M406.0 766.7h1M437.5 849.8h1M403.7 740.1h1M400.6 860.0h1M355.3 731.7h1M315.2 765.8h1M403.2 749.3h1M307.6 755.1h1M394.9 838.0h1M342.2 818.8h1M434.6 808.0h1M316.3 764.9h1M442.3 819.6h1M324.9 815.5h1M291.2 866.8h1M354.4 798.8h1M370.8 726.7h1M383.2 762.4h1M320.2 839.9h1M290.6 762.5h1M411.4 756.6h1M325.3 801.8h1M308.6 853.9h1M453.3 724.9h1M358.3 832.0h1M344.4 858.7h1M365.2 746.8h1M375.3 816.3h1M339.8 818.2h1M416.3 797.1h1M366.2 846.2h1M398.5 797.7h1M446.7 745.9h1M415.7 744.6h1M384.7 755.1h1M354.4 835.4h1M417.0 838.1h1M317.5 793.0h1M314.9 806.6h1M365.0 725.2h1M382.7 826.7h1M378.3 850.3h1M307.4 742.6h1M278.1 794.0h1M353.4 785.9h1M322.4 839.2h1M288.0 855.5h1M377.6 801.1h1M417.9 755.5h1M301.3 766.4h1M282.5 766.9h1M387.1 798.4h1M322.7 807.9h1M290.9 842.5h1M305.9 758.0h1M303.8 823.1h1M425.0 837.4h1M285.9 781.2h1M340.7 752.2h1M450.2 726.2h1M363.3 833.6h1M453.0 741.5h1M357.1 831.2h1M282.0 755.8h1M435.6 741.0h1M345.9 764.4h1M351.6 731.3h1M281.1 868.7h1M412.7 829.6h1M316.4 757.7h1M374.6 756.0h1M358.3 859.2h1M340.6 770.3h1M452.1 811.2h1M282.1 780.1h1M392.3 728.6h1M336.9 823.7h1M431.0 808.1h1M435.0 789.0h1M345.9 845.9h1M343.7 836.6h1M313.8 771.8h1M308.1 802.0h1M304.5 750.3h1M313.6 789.8h1M330.6 786.7h1M454.3 821.4h1M430.7 750.5h1M344.1 730.8h1M399.8 774.1h1M324.5 722.7h1M307.8 759.1h1M345.9 857.9h1M404.1 760.0h1M340.1 742.8h1M444.1 773.6h1M413.2 828.0h1M438.7 722.9h1M333.1 777.3h1M289.9 851.7h1M333.6 835.0h1M368.7 728.1h1M346.1 755.5h1M282.3 742.4h1M382.4 724.6h1M331.3 783.3h1M373.1 740.2h1M402.5 758.8h1M405.9 819.4h1M301.5 750.5h1M325.5 826.4h1M348.1 777.6h1M431.3 753.7h1M327.6 771.4h1M313.9 726.0h1M279.3 814.1h1M377.1 840.7h1M451.1 764.4h1M396.0 857.2h1M313.9 822.9h1M395.3 862.6h1M431.7 754.9h1M389.1 733.3h1M352.1 778.5h1M285.8 777.2h1M334.2 794.2h1M325.4 743.6h1M347.6 790.9h1M305.0 819.3h1M318.2 733.8h1M336.6 783.0h1M302.1 806.9h1M401.6 802.5h1M401.4 723.3h1M345.6 774.3h1M286.3 780.3h1M284.8 793.9h1M380.7 790.0h1M333.7 757.8h1M279.1 771.8h1M436.0 804.4h1M322.2 819.7h1M308.5 790.0h1M386.0 862.5h1M340.4 806.0h1M445.1 835.2h1M388.2 812.6h1M349.1 782.0h1M324.8 843.8h1M433.8 777.0h1M439.2 725.6h1M299.4 795.7h1M330.6 773.7h1M451.3 742.3h1M309.7 754.0h1M397.7 754.9h1M275.1 801.1h1" stroke="#ececec" stroke-width="1" fill="none"/>
<path d="M348.6 841.0h1.3M342.6 852.8h1.3M340.7 850.4h1.3M337.3 855.8h1.3M352.2 819.1h1.3M352.1 851.8h1.3M353.5 843.2h1.3M339.4 837.0h1.3M355.3 805.4h1.3M358.4 823.2h1.3M343.4 850.5h1.3M349.4 841.0h1.3M342.7 830.1h1.3M353.1 832.4h1.3M350.5 837.0h1.3M346.4 839.3h1.3M351.3 827.3h1.3M359.5 815.7h1.3M356.5 821.3h1.3M344.0 827.9h1.3M362.5 819.9h1.3M348.8 828.4h1.3M354.9 834.4h1.3M345.5 826.3h1.3M344.5 833.1h1.3M343.7 833.3h1.3M352.4 846.5h1.3M345.9 814.7h1.3M342.4 844.9h1.3M340.5 835.1h1.3M345.1 816.9h1.3M355.7 823.3h1.3M344.2 836.0h1.3M350.1 831.3h1.3M333.4 859.2h1.3M350.9 824.3h1.3M342.3 836.1h1.3M342.1 840.5h1.3M355.6 790.9h1.3M358.4 811.3h1.3M351.0 829.2h1.3M355.3 839.8h1.3M351.2 824.8h1.3M349.5 833.9h1.3M342.3 847.3h1.3M349.3 841.6h1.3M342.6 820.5h1.3M352.9 836.6h1.3M337.4 848.1h1.3M353.0 817.7h1.3M341.0 836.2h1.3M347.1 828.6h1.3M352.1 829.6h1.3M350.7 821.6h1.3M346.8 839.3h1.3M349.5 833.5h1.3M345.5 838.9h1.3M343.5 839.1h1.3M355.5 831.6h1.3M349.5 840.3h1.3M351.2 827.3h1.3M349.4 821.5h1.3M353.1 824.5h1.3M361.4 826.7h1.3M344.7 846.9h1.3M345.9 825.4h1.3M356.7 815.9h1.3M339.6 841.1h1.3M358.9 841.5h1.3M346.6 797.8h1.3M344.1 858.4h1.3M345.5 832.4h1.3M352.3 823.6h1.3M351.7 828.3h1.3M350.6 849.2h1.3M352.6 840.1h1.3M352.4 822.3h1.3M349.5 829.9h1.3M339.1 857.1h1.3M343.1 823.3h1.3M347.6 854.5h1.3M345.1 818.1h1.3M350.9 825.4h1.3M351.9 817.7h1.3M344.3 833.8h1.3M349.3 829.2h1.3M344.4 840.5h1.3M348.7 843.5h1.3M336.7 843.9h1.3M350.0 847.2h1.3M350.0 840.1h1.3M349.9 820.8h1.3M355.0 822.1h1.3M345.4 831.4h1.3M342.4 830.7h1.3M344.9 834.9h1.3M352.8 826.3h1.3M350.4 842.3h1.3M354.8 815.3h1.3M348.2 843.1h1.3M335.0 865.3h1.3M361.7 827.0h1.3M353.3 844.8h1.3M369.1 802.2h1.3M343.7 866.9h1.3M355.0 830.9h1.3M345.2 833.4h1.3M355.5 837.6h1.3M351.4 819.6h1.3M355.1 828.0h1.3M351.4 823.9h1.3M342.3 840.0h1.3M344.3 837.2h1.3M334.7 851.9h1.3M347.5 817.7h1.3M342.8 850.4h1.3M362.0 813.6h1.3M342.0 836.1h1.3M342.0 838.1h1.3M348.9 840.5h1.3M340.2 845.7h1.3M347.7 835.6h1.3M341.6 841.5h1.3M340.1 846.7h1.3M350.2 824.2h1.3M344.3 831.5h1.3M332.7 830.7h1.3M347.2 857.3h1.3M369.8 805.2h1.3M345.8 842.5h1.3M346.4 818.9h1.3M353.4 806.0h1.3M344.9 825.1h1.3M350.6 826.8h1.3M348.2 814.7h1.3M358.1 835.1h1.3M345.3 849.5h1.3M348.5 824.9h1.3M354.9 838.1h1.3M357.1 816.7h1.3M344.5 826.3h1.3M358.5 833.6h1.3M347.0 814.8h1.3M336.1 860.4h1.3M347.0 828.7h1.3M349.3 836.9h1.3M354.2 819.6h1.3M347.6 811.8h1.3M353.3 826.0h1.3M348.4 855.3h1.3M334.3 852.4h1.3M367.9 796.0h1.3M357.6 828.8h1.3M348.6 813.7h1.3M358.3 827.4h1.3M348.6 834.4h1.3M350.6 839.8h1.3M343.5 838.9h1.3M338.6 848.0h1.3M352.4 829.6h1.3M341.9 835.8h1.3M352.4 827.7h1.3M352.4 812.9h1.3M349.7 838.7h1.3M355.9 810.0h1.3M343.9 831.6h1.3M352.0 839.0h1.3M358.6 821.6h1.3M345.6 856.9h1.3M347.7 846.2h1.3M337.5 865.8h1.3M351.4 846.8h1.3M356.2 832.4h1.3M356.9 841.5h1.3M356.6 841.5h1.3M341.8 837.4h1.3M351.2 818.4h1.3M341.9 830.6h1.3M348.0 837.1h1.3M347.7 842.8h1.3M342.8 866.5h1.3M354.6 840.3h1.3M344.0 835.9h1.3M348.3 838.9h1.3M349.4 822.6h1.3M347.5 844.2h1.3M344.0 817.2h1.3M340.7 846.0h1.3M363.3 809.4h1.3M355.3 821.3h1.3M349.5 850.0h1.3M342.9 837.1h1.3M350.7 801.7h1.3M356.5 812.4h1.3M345.6 845.6h1.3M346.0 844.4h1.3M339.9 839.3h1.3M358.9 792.8h1.3M353.4 817.6h1.3M345.8 820.1h1.3M327.4 841.6h1.3M356.0 818.2h1.3M347.8 850.4h1.3M366.7 828.3h1.3M354.8 830.1h1.3M355.8 824.4h1.3M346.8 831.6h1.3M358.7 823.8h1.3M337.7 846.9h1.3M358.0 835.5h1.3M339.4 832.1h1.3M356.7 821.5h1.3M359.1 804.2h1.3M354.6 802.3h1.3M354.0 819.1h1.3M342.0 848.7h1.3M361.0 814.6h1.3M352.9 839.3h1.3M357.9 820.4h1.3M351.9 828.3h1.3M344.8 843.8h1.3M345.9 828.9h1.3M348.5 836.4h1.3M355.4 830.6h1.3M342.2 846.1h1.3M348.4 827.4h1.3M348.2 826.4h1.3M353.4 814.5h1.3M347.5 849.6h1.3M347.0 804.7h1.3M348.8 833.9h1.3M361.5 819.5h1.3M340.4 831.6h1.3M357.3 824.0h1.3M351.6 825.4h1.3M357.7 847.7h1.3M335.7 846.7h1.3M355.1 818.3h1.3M354.0 822.8h1.3M364.2 810.0h1.3M351.6 841.5h1.3M334.9 846.1h1.3M352.5 813.9h1.3M338.9 862.9h1.3M348.5 842.3h1.3M344.9 831.5h1.3M349.6 843.5h1.3M345.4 845.5h1.3M346.7 846.9h1.3M360.3 807.1h1.3M356.6 816.6h1.3M343.0 845.3h1.3M351.6 831.6h1.3M349.4 841.6h1.3M346.0 842.4h1.3M343.2 830.2h1.3M354.0 817.5h1.3M349.4 830.3h1.3M332.1 859.9h1.3M349.9 846.4h1.3M349.5 841.2h1.3M340.0 845.3h1.3M352.3 840.4h1.3M340.4 855.5h1.3M351.7 826.3h1.3M353.0 833.4h1.3M345.3 826.1h1.3M348.1 821.5h1.3M354.9 839.2h1.3M367.9 799.1h1.3M347.1 824.5h1.3M354.0 845.6h1.3M343.6 824.8h1.3M359.4 810.3h1.3M357.3 813.6h1.3M335.2 861.7h1.3M347.5 833.7h1.3M352.7 809.1h1.3M348.3 833.2h1.3M343.4 831.5h1.3M330.2 845.3h1.3M349.6 826.8h1.3M344.7 827.3h1.3M344.1 830.3h1.3M346.0 847.0h1.3M355.0 823.7h1.3M346.9 831.9h1.3M361.9 813.9h1.3M340.6 839.2h1.3M352.4 827.1h1.3M356.4 848.8h1.3M335.1 860.6h1.3M355.2 830.1h1.3M338.2 857.9h1.3M362.9 813.6h1.3M348.1 835.6h1.3M346.9 845.3h1.3M333.8 843.6h1.3M342.2 853.9h1.3M348.5 852.7h1.3M360.1 815.1h1.3M357.9 824.4h1.3M354.7 829.5h1.3M355.2 826.5h1.3M341.0 845.4h1.3M348.6 847.6h1.3M347.4 823.3h1.3M341.5 845.2h1.3M352.6 819.2h1.3M344.4 834.2h1.3M356.6 836.3h1.3M344.1 841.2h1.3M360.6 808.7h1.3M349.3 850.1h1.3M346.0 851.0h1.3M332.2 866.6h1.3M350.3 817.8h1.3M346.0 842.4h1.3M346.7 831.1h1.3M355.0 844.6h1.3M357.7 811.0h1.3M341.0 847.6h1.3M350.2 836.9h1.3M353.9 808.0h1.3M347.6 829.1h1.3M346.2 828.7h1.3M356.7 828.4h1.3M345.6 837.1h1.3M342.9 828.1h1.3M350.7 803.7h1.3M342.9 835.6h1.3M353.6 809.6h1.3M356.3 842.3h1.3M344.6 832.3h1.3M350.0 832.3h1.3M344.7 842.3h1.3M351.8 836.1h1.3M356.9 822.3h1.3M352.5 835.0h1.3M354.0 836.9h1.3M348.8 825.4h1.3M347.1 811.7h1.3M340.5 844.5h1.3M342.2 831.8h1.3M333.9 846.1h1.3M345.7 829.0h1.3M363.2 801.7h1.3M350.4 850.5h1.3M355.0 832.2h1.3M349.8 849.8h1.3M352.1 815.4h1.3M343.2 843.5h1.3M362.5 832.1h1.3M365.1 808.4h1.3M346.4 834.5h1.3M349.4 826.2h1.3M345.8 838.3h1.3M352.7 819.7h1.3M348.9 828.1h1.3M346.5 834.2h1.3M356.1 814.2h1.3M355.2 810.2h1.3M347.0 814.4h1.3M346.9 837.6h1.3M345.5 840.8h1.3M343.9 844.9h1.3M345.9 841.5h1.3M342.6 834.5h1.3M347.3 837.8h1.3M343.6 850.3h1.3M353.8 813.6h1.3M354.8 825.1h1.3M352.0 845.6h1.3M355.6 794.2h1.3M355.5 799.9h1.3M346.7 808.0h1.3M355.1 815.8h1.3M338.9 848.9h1.3M339.6 845.5h1.3M349.9 826.2h1.3M335.8 867.4h1.3M351.7 825.4h1.3M347.6 804.6h1.3M350.4 828.5h1.3M345.6 819.3h1.3M342.1 850.4h1.3M340.2 827.8h1.3M350.7 826.7h1.3M339.3 817.1h1.3M346.9 823.2h1.3M350.8 840.0h1.3M357.7 807.9h1.3M355.2 835.6h1.3M344.1 844.5h1.3M341.7 837.5h1.3M360.3 832.5h1.3M352.8 829.2h1.3M354.6 834.2h1.3M345.4 827.9h1.3M356.8 832.8h1.3M354.8 835.1h1.3M359.0 836.3h1.3M353.7 828.9h1.3M352.0 837.4h1.3M340.5 832.7h1.3M344.4 825.6h1.3M360.0 812.0h1.3M352.6 832.8h1.3M349.4 842.3h1.3M352.8 792.5h1.3M348.9 838.4h1.3M342.5 823.1h1.3M352.3 847.7h1.3M349.1 841.5h1.3M338.1 850.1h1.3M341.9 858.5h1.3M354.9 815.5h1.3M349.0 836.2h1.3M349.8 824.7h1.3M361.6 827.2h1.3M356.5 799.0h1.3M352.9 853.2h1.3M359.8 819.8h1.3M350.8 822.8h1.3M359.3 819.7h1.3M349.1 813.2h1.3M352.1 816.5h1.3M349.2 837.6h1.3M359.2 840.7h1.3M353.1 824.2h1.3M349.5 835.0h1.3M351.0 836.2h1.3M357.4 820.9h1.3M341.6 849.4h1.3M343.3 828.7h1.3M350.1 826.2h1.3M351.3 831.7h1.3M354.1 843.4h1.3M351.1 816.1h1.3M355.0 826.4h1.3M343.7 842.3h1.3M339.3 817.6h1.3M344.6 851.3h1.3M347.3 821.4h1.3M364.3 823.2h1.3M349.9 828.8h1.3M344.3 829.2h1.3M352.6 824.3h1.3M359.8 823.5h1.3M350.2 831.6h1.3M359.4 830.1h1.3M342.3 852.8h1.3M346.8 841.1h1.3M353.3 820.0h1.3M353.5 821.6h1.3M342.4 841.0h1.3M343.8 852.1h1.3M351.5 838.9h1.3M349.1 816.5h1.3M347.1 848.4h1.3M346.1 844.8h1.3M350.0 822.5h1.3M353.5 805.0h1.3M349.0 825.1h1.3M351.3 835.1h1.3M344.8 832.6h1.3M345.2 838.7h1.3M351.2 820.5h1.3M359.2 815.6h1.3M350.9 844.2h1.3M338.7 864.3h1.3M344.1 845.7h1.3M354.5 815.3h1.3M354.8 836.4h1.3M341.4 841.4h1.3M356.8 818.9h1.3M343.2 852.6h1.3M351.9 820.4h1.3M347.9 837.9h1.3M346.5 827.6h1.3M345.0 817.3h1.3M359.6 836.4h1.3M344.0 847.0h1.3M334.3 863.1h1.3M344.1 848.5h1.3M356.1 841.9h1.3M344.7 845.0h1.3M353.4 829.8h1.3M345.4 816.5h1.3M357.7 800.0h1.3M337.4 839.4h1.3M338.1 835.3h1.3M346.9 828.2h1.3M346.6 825.9h1.3M360.7 834.5h1.3M355.4 815.4h1.3M351.9 848.4h1.3M334.1 853.8h1.3M352.1 812.3h1.3M358.3 813.5h1.3M368.2 803.7h1.3M348.6 822.5h1.3M358.9 825.7h1.3M335.1 825.2h1.3M345.5 836.7h1.3M347.0 832.2h1.3M348.0 813.5h1.3M341.1 822.4h1.3M333.8 861.4h1.3M341.0 841.2h1.3M348.9 843.0h1.3M352.1 823.8h1.3M346.5 828.0h1.3M337.3 843.7h1.3M341.4 836.0h1.3M351.2 837.8h1.3M358.3 826.3h1.3M333.6 841.7h1.3M353.9 851.1h1.3M350.1 821.2h1.3M353.1 812.4h1.3M354.7 807.4h1.3M350.7 838.9h1.3M342.9 848.1h1.3M360.2 805.0h1.3M342.6 847.3h1.3M345.1 831.1h1.3M357.2 828.2h1.3M353.7 832.8h1.3M351.1 828.0h1.3M350.4 844.3h1.3M353.0 811.9h1.3M347.6 845.4h1.3M355.2 832.4h1.3M350.6 824.8h1.3M345.7 852.8h1.3M343.1 828.5h1.3M332.9 850.3h1.3M349.7 822.4h1.3M345.5 840.9h1.3M347.4 830.9h1.3M357.6 823.1h1.3M355.9 837.8h1.3M344.0 832.4h1.3M342.5 827.5h1.3M342.2 834.6h1.3M348.0 838.5h1.3M339.6 867.7h1.3M349.1 827.9h1.3M354.0 822.4h1.3M342.2 835.6h1.3M356.2 822.8h1.3M338.4 851.9h1.3M347.7 850.3h1.3M340.0 838.2h1.3M358.3 811.2h1.3M351.3 829.1h1.3M348.3 834.6h1.3M355.4 820.0h1.3M347.3 838.8h1.3M354.9 804.4h1.3M343.4 851.1h1.3M356.9 852.7h1.3M354.8 824.1h1.3M360.6 830.0h1.3M344.0 846.5h1.3M347.5 858.0h1.3M357.5 836.1h1.3M342.4 834.3h1.3M349.7 843.5h1.3M346.4 844.3h1.3M342.0 841.3h1.3M354.5 842.8h1.3M345.5 848.0h1.3M348.9 819.3h1.3M349.5 856.1h1.3M355.7 806.8h1.3M347.7 850.7h1.3M344.6 831.3h1.3M335.0 833.7h1.3M338.9 841.8h1.3M345.7 852.0h1.3M358.7 831.1h1.3M351.7 846.4h1.3M354.3 817.5h1.3M345.5 829.6h1.3M344.2 838.9h1.3M362.9 825.0h1.3M357.1 815.2h1.3M344.2 817.4h1.3M348.4 848.2h1.3M338.9 835.0h1.3M342.2 830.2h1.3M356.8 834.8h1.3M341.2 847.8h1.3M351.3 824.2h1.3M345.4 828.2h1.3M335.1 833.2h1.3M354.5 836.9h1.3M342.6 848.1h1.3M358.4 824.0h1.3M349.7 814.0h1.3M355.8 841.2h1.3M348.1 839.4h1.3M341.5 843.3h1.3M333.3 862.3h1.3M351.1 848.7h1.3M354.4 821.9h1.3M339.3 837.5h1.3M346.8 824.0h1.3M353.1 835.5h1.3M347.7 835.0h1.3M349.4 848.4h1.3M354.9 825.8h1.3M348.1 806.1h1.3M352.2 833.0h1.3M351.9 828.0h1.3M343.1 823.0h1.3M354.3 835.4h1.3M347.5 832.8h1.3M343.8 817.2h1.3M358.4 829.1h1.3M343.3 834.6h1.3M348.9 824.0h1.3M345.7 844.4h1.3M344.4 857.4h1.3M340.3 848.7h1.3M352.0 821.8h1.3M357.0 830.9h1.3M366.6 813.8h1.3M350.9 841.8h1.3M345.1 857.6h1.3M351.2 812.3h1.3M355.2 827.0h1.3M344.7 833.6h1.3M349.1 808.3h1.3M354.4 831.5h1.3M357.9 831.6h1.3M358.1 811.7h1.3M360.9 807.9h1.3M341.3 849.6h1.3M351.0 828.7h1.3M352.5 860.7h1.3M335.6 853.1h1.3M351.9 826.2h1.3M357.1 810.5h1.3M354.2 828.1h1.3M338.7 840.8h1.3M351.8 840.7h1.3M353.8 838.5h1.3M350.0 841.5h1.3M353.2 833.3h1.3M349.9 832.5h1.3M353.0 841.1h1.3M351.2 833.6h1.3M347.3 821.4h1.3M344.7 844.2h1.3M349.4 812.1h1.3M339.0 845.3h1.3M341.5 836.1h1.3M347.7 845.0h1.3M343.6 848.0h1.3M342.2 849.0h1.3M341.0 821.4h1.3M350.2 831.9h1.3M349.8 833.5h1.3M344.1 824.1h1.3M351.5 835.1h1.3M347.9 811.3h1.3M339.1 838.6h1.3M343.3 830.7h1.3M348.1 847.7h1.3M348.8 796.4h1.3M351.9 807.0h1.3M353.8 823.0h1.3M353.6 814.1h1.3M344.6 844.1h1.3M348.0 819.4h1.3M350.7 826.3h1.3M349.7 829.6h1.3M355.8 824.9h1.3M345.7 835.8h1.3M334.3 861.7h1.3M345.1 855.3h1.3M340.2 846.6h1.3M356.4 826.2h1.3M350.2 813.3h1.3M355.4 830.5h1.3M343.7 844.0h1.3M339.9 848.7h1.3M352.6 822.1h1.3M344.3 836.5h1.3M369.1 806.7h1.3M358.7 868.6h1.3M345.0 843.2h1.3M340.6 843.3h1.3M342.2 816.9h1.3M347.1 833.4h1.3M367.8 800.7h1.3M358.1 828.2h1.3M355.8 823.4h1.3M353.4 844.3h1.3M347.5 826.9h1.3M333.3 849.9h1.3M351.2 829.0h1.3M339.2 852.1h1.3M346.8 825.6h1.3M343.3 835.6h1.3M357.5 836.8h1.3M354.2 805.8h1.3M357.1 823.9h1.3M357.8 836.6h1.3M345.8 812.7h1.3M360.5 804.2h1.3M338.1 846.4h1.3M338.0 835.8h1.3M362.6 814.4h1.3M349.6 856.6h1.3M352.5 830.6h1.3M357.0 815.1h1.3M352.1 842.3h1.3M324.0 868.5h1.3M363.5 828.6h1.3M341.8 847.8h1.3M368.0 828.2h1.3M372.8 802.4h1.3M356.4 822.5h1.3M330.1 855.6h1.3M336.8 827.1h1.3M369.8 801.0h1.3M357.1 829.4h1.3M352.4 830.4h1.3M349.8 818.3h1.3M353.6 830.2h1.3M346.5 815.3h1.3M350.7 829.6h1.3M359.9 824.2h1.3M355.5 833.0h1.3M365.6 830.9h1.3M357.1 830.8h1.3M340.3 853.5h1.3M365.5 823.1h1.3M341.4 855.0h1.3M348.1 840.9h1.3M342.1 843.5h1.3M350.5 836.8h1.3M350.7 811.3h1.3M348.9 857.6h1.3M352.3 824.2h1.3M349.6 862.5h1.3M351.0 861.2h1.3M350.6 829.5h1.3M355.7 841.5h1.3M334.6 828.7h1.3M325.1 841.8h1.3M361.3 830.3h1.3M346.5 809.2h1.3M383.5 798.2h1.3M331.4 830.3h1.3M351.9 856.7h1.3M362.2 790.9h1.3M365.6 796.0h1.3M319.7 856.4h1.3M362.2 825.0h1.3M344.1 844.2h1.3M347.5 832.3h1.3M340.2 844.3h1.3M355.8 851.7h1.3M362.2 830.6h1.3M344.9 789.4h1.3M357.8 839.9h1.3M342.8 837.4h1.3M348.4 825.2h1.3M340.2 851.3h1.3M350.4 834.1h1.3M357.4 816.8h1.3M372.8 855.8h1.3M345.6 838.9h1.3M342.5 835.6h1.3M338.5 868.1h1.3M345.8 798.8h1.3M347.3 852.2h1.3M348.9 851.0h1.3M339.7 832.2h1.3M343.5 837.7h1.3M331.9 815.0h1.3M365.0 831.5h1.3M353.2 832.9h1.3M348.4 847.3h1.3M337.3 833.6h1.3M319.6 851.1h1.3M354.9 826.9h1.3M361.1 813.8h1.3M343.7 816.2h1.3M350.3 843.2h1.3M347.3 837.3h1.3M352.4 835.2h1.3M354.3 832.2h1.3M344.9 845.1h1.3M327.8 861.3h1.3M351.4 842.3h1.3M331.2 845.6h1.3M350.4 812.6h1.3M327.0 866.9h1.3M318.7 850.8h1.3M361.5 849.1h1.3M336.4 847.4h1.3M360.0 812.1h1.3M361.0 842.1h1.3M339.5 859.1h1.3M355.8 825.6h1.3M331.9 855.8h1.3M363.7 798.5h1.3M357.1 844.4h1.3M342.6 855.8h1.3M343.4 854.5h1.3M352.5 828.7h1.3M349.4 842.6h1.3M343.4 838.3h1.3M362.6 825.3h1.3M329.8 859.1h1.3M346.0 852.0h1.3M351.6 834.8h1.3M350.5 814.7h1.3M356.5 829.0h1.3M351.3 805.0h1.3M366.6 809.0h1.3M361.3 833.8h1.3M346.1 839.5h1.3M353.7 816.8h1.3M370.9 817.9h1.3M353.3 831.3h1.3M336.5 845.0h1.3M352.7 802.1h1.3M353.3 834.4h1.3M336.6 850.9h1.3M362.8 856.9h1.3M365.3 832.4h1.3M375.6 797.2h1.3M357.0 806.6h1.3M357.1 854.2h1.3M353.1 801.6h1.3M362.1 812.7h1.3M365.1 822.1h1.3M360.2 794.0h1.3M361.2 839.3h1.3M352.8 842.1h1.3M334.6 830.4h1.3M353.4 849.2h1.3M332.2 840.4h1.3M347.0 845.4h1.3M357.2 826.0h1.3M345.3 820.3h1.3M338.6 844.3h1.3M350.5 845.3h1.3M359.2 806.8h1.3M368.8 817.1h1.3M333.7 855.1h1.3M339.4 826.7h1.3M349.2 789.9h1.3M347.1 862.4h1.3M350.5 852.4h1.3M351.5 858.5h1.3M352.0 849.1h1.3M345.5 808.9h1.3M327.7 846.4h1.3M349.4 860.4h1.3M357.6 838.2h1.3M371.2 809.3h1.3M352.6 818.3h1.3M350.1 843.6h1.3M367.2 820.7h1.3M350.4 827.4h1.3M364.5 842.0h1.3M370.4 835.9h1.3M352.3 852.1h1.3M359.0 832.8h1.3M347.3 851.0h1.3M347.6 834.8h1.3M328.3 853.7h1.3M352.6 843.2h1.3M354.8 830.0h1.3M341.4 823.1h1.3M359.9 813.1h1.3M339.6 847.7h1.3M360.4 815.0h1.3M348.8 813.6h1.3M371.9 813.6h1.3M364.9 815.5h1.3M355.2 828.5h1.3M348.7 846.2h1.3M360.2 808.0h1.3M353.2 788.9h1.3M337.9 828.4h1.3M343.1 839.0h1.3M339.9 855.0h1.3M335.7 866.5h1.3M335.4 840.6h1.3M337.8 819.3h1.3M356.6 826.5h1.3M356.2 824.1h1.3M354.9 817.2h1.3M345.1 857.7h1.3M341.1 849.0h1.3M343.5 828.6h1.3M345.3 808.9h1.3M360.5 809.3h1.3M374.4 803.8h1.3M358.8 821.6h1.3M339.6 827.1h1.3M337.9 842.3h1.3M343.7 848.3h1.3M345.4 850.9h1.3M344.5 837.9h1.3M358.0 828.0h1.3M337.0 860.4h1.3M374.8 775.0h1.3M346.7 821.8h1.3M372.2 819.9h1.3M354.3 822.0h1.3M334.3 827.0h1.3M352.9 821.2h1.3M357.2 827.6h1.3M370.9 837.4h1.3M352.5 813.3h1.3M361.2 824.1h1.3M363.4 838.5h1.3M332.4 835.6h1.3M345.3 857.3h1.3M343.9 854.9h1.3M341.7 866.3h1.3M340.6 836.3h1.3M343.8 844.6h1.3M360.3 816.6h1.3M350.4 839.0h1.3M362.1 817.9h1.3M358.7 796.2h1.3M358.5 818.1h1.3M350.8 849.2h1.3M366.1 820.9h1.3M347.0 821.4h1.3M355.5 832.2h1.3M365.4 801.0h1.3M365.6 836.7h1.3M347.3 831.4h1.3M359.8 831.2h1.3M337.3 825.3h1.3M356.2 846.0h1.3M352.1 852.3h1.3M345.1 828.0h1.3M338.5 810.6h1.3M352.6 822.6h1.3M355.2 821.2h1.3M347.2 829.8h1.3M356.1 845.8h1.3M345.3 814.1h1.3M373.1 829.8h1.3M348.7 815.7h1.3M358.7 820.0h1.3M356.6 844.2h1.3M356.2 807.6h1.3M348.3 830.4h1.3M364.7 839.8h1.3M352.1 845.0h1.3M353.6 829.4h1.3M347.0 859.2h1.3M348.1 859.0h1.3M351.2 836.6h1.3M339.5 840.6h1.3M342.4 855.0h1.3M352.5 837.0h1.3M355.1 842.8h1.3M352.9 831.8h1.3M348.6 839.1h1.3M349.9 818.7h1.3M344.3 859.9h1.3M354.4 825.9h1.3M341.4 824.8h1.3M342.8 853.8h1.3M339.7 830.6h1.3M338.0 818.3h1.3M351.7 805.7h1.3M337.1 841.9h1.3M337.0 860.3h1.3M349.5 829.9h1.3M338.0 829.7h1.3M324.2 866.8h1.3M362.0 814.2h1.3M365.2 825.5h1.3M370.1 818.6h1.3M337.6 868.6h1.3M361.1 856.7h1.3M356.2 820.6h1.3M330.2 832.1h1.3M344.2 829.4h1.3M368.1 809.7h1.3M346.6 834.6h1.3M355.0 810.3h1.3M361.3 813.1h1.3M351.5 841.5h1.3M350.9 793.7h1.3M363.1 822.0h1.3M361.2 844.7h1.3M360.8 822.9h1.3M347.4 856.7h1.3M344.5 862.1h1.3M360.3 788.0h1.3M353.8 799.3h1.3M357.4 835.6h1.3M341.7 864.6h1.3M338.9 847.8h1.3M356.7 817.2h1.3M354.0 826.4h1.3M367.2 832.2h1.3M349.1 830.9h1.3M357.0 836.4h1.3M335.7 817.7h1.3M353.8 837.4h1.3M366.6 779.8h1.3M338.3 835.9h1.3M334.7 829.6h1.3M343.0 851.0h1.3M336.0 863.9h1.3M355.9 852.6h1.3M381.9 809.8h1.3M357.5 834.0h1.3M364.2 784.5h1.3M356.5 797.0h1.3M345.6 807.7h1.3M345.6 841.8h1.3M331.6 832.7h1.3M349.1 830.9h1.3M367.7 806.5h1.3M358.4 812.6h1.3M332.9 843.9h1.3M339.4 838.6h1.3M345.5 838.9h1.3M352.4 805.2h1.3M343.7 823.9h1.3M361.8 832.5h1.3M335.5 841.8h1.3M351.0 833.8h1.3M349.0 848.8h1.3M357.0 835.4h1.3M345.9 864.9h1.3M353.7 806.0h1.3M368.7 795.3h1.3M330.6 857.0h1.3M338.8 847.2h1.3M351.2 840.3h1.3M346.1 837.5h1.3M324.8 846.7h1.3M334.0 844.5h1.3M336.6 808.1h1.3M334.9 801.3h1.3M349.0 838.5h1.3M332.9 853.6h1.3M348.2 813.0h1.3M350.1 836.6h1.3M344.8 816.8h1.3M359.9 807.3h1.3M346.4 809.0h1.3M358.6 812.1h1.3M351.3 816.5h1.3M357.9 817.2h1.3M349.1 849.7h1.3M344.9 836.9h1.3M355.5 845.3h1.3M366.3 818.8h1.3M363.6 830.7h1.3M351.7 835.1h1.3M362.2 856.0h1.3M357.4 845.1h1.3M342.6 850.4h1.3M346.3 842.0h1.3M351.9 847.1h1.3M341.8 815.4h1.3M335.3 838.8h1.3M348.3 808.2h1.3M355.7 825.5h1.3M332.9 828.7h1.3M363.2 799.4h1.3M365.4 824.4h1.3M333.6 851.3h1.3M381.7 806.4h1.3M343.0 850.9h1.3M357.0 814.6h1.3M366.7 809.8h1.3M355.8 838.4h1.3M357.7 848.6h1.3M356.6 852.6h1.3M355.8 777.1h1.3M351.5 794.6h1.3M366.1 842.4h1.3M365.4 814.8h1.3M355.2 827.5h1.3M352.6 824.3h1.3M337.4 835.8h1.3M364.8 798.8h1.3M372.8 798.3h1.3M344.7 821.2h1.3M348.8 839.9h1.3M346.9 835.8h1.3M344.3 837.8h1.3M334.2 835.3h1.3M356.5 857.1h1.3M338.2 851.8h1.3M342.3 850.7h1.3M364.0 852.2h1.3M354.0 860.5h1.3M350.7 845.6h1.3M371.4 782.6h1.3M325.3 824.3h1.3M345.8 840.5h1.3M353.8 832.6h1.3M333.3 853.4h1.3M354.6 817.7h1.3M356.8 836.0h1.3M352.9 832.7h1.3M341.8 856.4h1.3M359.2 856.0h1.3M345.4 844.0h1.3M363.3 808.4h1.3M349.9 829.6h1.3M342.1 836.9h1.3M328.6 843.6h1.3M342.6 834.5h1.3M381.1 813.0h1.3M356.0 791.0h1.3M346.7 841.1h1.3M359.3 820.6h1.3M371.2 796.4h1.3M350.8 841.3h1.3M351.2 845.4h1.3M344.5 862.8h1.3M344.6 838.7h1.3M346.6 841.5h1.3M365.1 844.6h1.3M359.1 837.8h1.3M349.5 834.3h1.3M336.7 857.4h1.3M324.7 837.4h1.3M342.1 837.6h1.3M362.6 831.5h1.3M358.9 844.5h1.3M368.0 811.4h1.3M349.1 841.2h1.3M378.2 806.1h1.3M345.2 804.5h1.3M368.8 824.2h1.3M353.1 821.1h1.3M354.4 824.4h1.3M370.8 806.4h1.3M336.4 850.7h1.3M367.2 816.4h1.3M356.5 829.3h1.3M333.1 856.5h1.3M339.2 816.7h1.3M360.3 826.0h1.3M364.0 823.6h1.3M369.5 795.9h1.3M329.2 844.6h1.3M343.6 809.7h1.3M346.2 827.8h1.3M350.9 839.9h1.3M340.9 828.9h1.3M356.2 817.9h1.3M360.7 800.2h1.3M350.4 795.3h1.3M360.5 843.7h1.3M366.6 808.8h1.3M356.3 810.6h1.3M365.6 822.5h1.3M362.3 815.8h1.3M361.9 818.2h1.3M342.4 815.9h1.3M347.8 818.2h1.3M348.5 841.8h1.3M341.5 824.1h1.3M348.8 845.7h1.3M347.9 842.4h1.3M354.9 829.9h1.3M348.2 845.8h1.3M344.6 817.6h1.3M348.7 814.3h1.3M359.5 828.6h1.3M346.0 816.6h1.3M333.0 848.5h1.3M357.0 822.7h1.3M356.2 807.8h1.3M352.6 836.5h1.3M338.9 853.2h1.3M352.6 821.4h1.3M351.9 834.6h1.3M367.6 799.7h1.3M349.6 825.4h1.3M361.9 808.8h1.3M362.4 839.3h1.3M353.9 803.1h1.3M359.7 845.0h1.3M361.0 849.3h1.3M366.9 844.3h1.3M325.7 847.0h1.3M341.1 847.3h1.3M339.7 843.2h1.3M353.4 831.3h1.3M341.1 845.0h1.3M370.5 810.1h1.3M370.2 818.2h1.3M357.2 841.1h1.3M357.3 797.3h1.3M340.4 797.4h1.3M322.2 867.9h1.3M334.1 851.1h1.3M354.1 847.0h1.3M341.6 847.8h1.3M326.0 855.0h1.3M342.7 835.2h1.3M359.2 816.4h1.3M337.4 857.3h1.3M334.9 852.6h1.3M335.3 842.3h1.3M342.2 848.3h1.3M363.0 822.0h1.3M351.2 792.0h1.3M358.2 846.6h1.3M339.9 856.8h1.3M370.3 825.0h1.3M358.3 823.7h1.3M354.8 839.8h1.3M354.5 833.5h1.3M344.2 847.1h1.3M333.7 848.5h1.3M336.2 848.7h1.3M340.0 846.1h1.3M340.8 866.6h1.3M366.9 833.5h1.3M334.8 851.2h1.3M343.6 830.2h1.3M350.6 852.8h1.3M334.8 832.5h1.3M378.2 823.1h1.3M358.4 810.8h1.3M361.1 806.4h1.3M349.9 842.5h1.3M362.2 808.4h1.3M335.8 835.7h1.3M342.6 826.8h1.3M337.5 831.5h1.3M334.8 848.8h1.3M335.0 844.1h1.3M367.5 812.1h1.3M338.6 837.6h1.3M357.4 811.3h1.3M364.1 826.4h1.3M351.0 844.4h1.3M350.4 823.8h1.3M343.6 835.8h1.3M373.1 804.5h1.3M373.6 779.2h1.3M352.3 814.2h1.3M336.6 846.7h1.3M361.1 828.0h1.3M364.9 818.8h1.3M341.7 861.3h1.3M341.4 823.1h1.3M360.5 865.5h1.3M340.6 846.5h1.3M365.1 808.3h1.3M343.8 852.0h1.3M358.6 829.2h1.3M345.6 856.2h1.3M340.6 846.3h1.3M336.4 849.1h1.3M338.9 818.4h1.3M375.9 840.2h1.3M340.6 851.7h1.3M363.5 841.5h1.3M343.6 865.6h1.3M366.9 843.6h1.3M366.2 845.9h1.3M345.6 855.5h1.3M336.1 854.9h1.3M336.6 858.6h1.3M358.4 801.2h1.3M384.8 790.1h1.3M353.0 828.4h1.3M346.3 825.6h1.3M356.0 822.9h1.3M355.6 823.1h1.3M353.0 828.4h1.3M355.6 848.2h1.3M359.2 805.1h1.3M347.4 814.6h1.3M353.4 806.4h1.3M359.0 837.2h1.3M346.6 845.0h1.3M353.8 812.3h1.3M362.7 831.6h1.3M345.6 826.8h1.3M344.9 841.8h1.3M356.0 836.6h1.3M337.0 865.9h1.3M365.1 836.0h1.3M330.7 861.1h1.3M357.2 816.5h1.3M358.9 812.4h1.3M344.5 847.6h1.3M366.7 812.3h1.3M353.2 831.2h1.3M364.5 815.2h1.3M358.6 832.3h1.3M341.4 828.8h1.3M368.1 820.8h1.3M361.1 806.4h1.3M344.1 860.4h1.3M329.3 839.9h1.3M344.9 829.0h1.3M346.7 831.6h1.3M364.4 821.3h1.3M364.6 828.7h1.3M366.4 853.7h1.3M355.2 812.6h1.3M340.9 828.1h1.3M349.3 844.6h1.3M323.2 853.3h1.3M340.1 838.9h1.3M341.1 853.4h1.3M348.6 866.1h1.3M359.9 811.8h1.3M345.0 846.3h1.3M342.6 834.0h1.3M348.7 849.2h1.3M337.5 850.6h1.3M338.0 840.2h1.3M341.3 825.2h1.3M363.9 818.8h1.3M357.3 838.3h1.3M355.7 811.6h1.3M344.5 833.8h1.3M343.9 840.7h1.3M355.3 834.9h1.3M370.7 792.2h1.3M355.8 815.2h1.3M364.5 802.4h1.3M346.4 837.3h1.3M347.0 832.9h1.3M366.7 837.4h1.3M344.3 830.8h1.3M335.5 852.2h1.3M354.3 833.2h1.3M363.8 829.6h1.3M336.9 851.4h1.3M334.5 848.8h1.3M337.6 844.9h1.3M346.5 817.6h1.3M350.0 784.4h1.3M343.3 813.1h1.3M335.8 840.3h1.3M354.2 836.5h1.3M341.1 840.9h1.3M334.9 851.7h1.3M337.4 849.5h1.3M357.9 836.9h1.3M327.0 841.9h1.3M353.9 845.2h1.3M344.7 856.7h1.3M329.7 853.7h1.3M335.7 824.4h1.3M323.4 834.0h1.3M344.5 857.3h1.3M339.6 842.8h1.3M346.1 821.6h1.3M336.9 856.6h1.3M350.2 837.3h1.3M358.2 843.1h1.3M352.8 823.9h1.3M354.6 784.7h1.3M344.8 828.0h1.3M369.1 794.1h1.3M359.4 820.6h1.3M356.5 804.7h1.3M342.1 811.7h1.3M363.7 828.3h1.3M361.5 820.4h1.3M359.7 847.5h1.3M359.3 827.2h1.3M364.3 811.6h1.3M331.7 859.7h1.3M336.9 835.0h1.3M349.7 824.4h1.3M358.0 846.1h1.3M346.4 836.7h1.3M355.3 812.1h1.3M368.2 831.3h1.3M326.3 857.7h1.3M341.9 849.0h1.3M342.7 858.2h1.3M352.8 854.8h1.3M359.1 828.0h1.3M352.8 832.0h1.3M334.4 867.0h1.3M332.5 854.9h1.3M364.4 852.3h1.3M354.7 863.4h1.3M372.4 841.9h1.3M342.8 838.2h1.3M344.4 834.3h1.3M349.6 852.2h1.3M353.2 847.7h1.3M362.0 827.1h1.3M370.9 808.2h1.3M353.2 859.0h1.3M349.9 808.0h1.3M343.5 804.0h1.3M353.9 814.4h1.3M345.6 840.7h1.3M351.1 849.4h1.3M348.5 836.5h1.3M346.6 833.4h1.3M346.3 857.7h1.3M345.9 815.0h1.3M367.8 821.1h1.3M363.2 837.3h1.3M346.0 851.3h1.3M362.9 862.2h1.3M351.8 846.0h1.3M335.2 863.5h1.3M351.8 826.7h1.3M356.1 855.6h1.3M337.8 866.4h1.3M344.9 837.7h1.3M356.6 823.6h1.3M353.5 841.4h1.3M353.3 839.0h1.3M361.7 811.2h1.3M345.1 832.3h1.3M369.0 810.9h1.3M356.3 826.1h1.3M343.5 852.3h1.3M341.9 825.6h1.3M340.9 854.0h1.3M367.9 798.9h1.3M348.7 868.6h1.3M362.7 820.3h1.3M344.1 846.0h1.3M376.5 796.1h1.3M370.6 738.5h1.3M333.2 865.3h1.3M336.5 851.3h1.3M366.7 825.7h1.3M343.0 865.7h1.3M358.6 819.3h1.3M370.3 812.7h1.3M344.2 852.0h1.3M341.5 825.9h1.3M356.4 843.6h1.3M352.9 827.8h1.3M375.7 786.3h1.3M349.8 813.4h1.3M355.6 809.7h1.3M344.6 837.5h1.3M344.3 862.7h1.3M346.8 862.8h1.3M354.1 855.8h1.3M362.4 832.8h1.3M345.6 859.3h1.3M358.0 821.6h1.3M343.7 835.5h1.3M330.5 856.9h1.3M329.9 818.7h1.3M349.4 852.9h1.3M348.1 834.1h1.3M344.9 851.5h1.3M332.5 864.0h1.3M348.3 816.2h1.3M345.5 836.6h1.3M322.7 853.4h1.3M336.1 850.0h1.3M340.9 855.7h1.3M357.6 831.3h1.3M342.6 824.1h1.3M364.0 808.8h1.3M344.6 816.1h1.3M378.3 821.6h1.3M363.6 828.8h1.3M346.5 847.4h1.3M355.1 838.7h1.3M353.4 833.0h1.3M332.2 849.3h1.3M371.5 844.3h1.3M346.4 856.8h1.3M355.1 806.2h1.3M342.0 833.0h1.3M368.2 807.5h1.3M337.9 830.5h1.3M369.9 814.0h1.3M370.7 824.2h1.3M332.9 852.4h1.3M360.8 819.2h1.3M345.3 834.3h1.3M360.4 815.4h1.3M347.1 813.7h1.3M354.0 835.4h1.3M343.8 808.8h1.3M342.6 836.9h1.3M348.8 834.5h1.3M360.2 829.4h1.3M351.5 829.5h1.3M369.3 822.3h1.3M343.6 831.0h1.3M372.3 802.7h1.3M364.1 789.7h1.3M345.3 842.3h1.3M336.5 831.7h1.3M343.9 812.9h1.3M343.6 857.5h1.3M328.8 853.6h1.3M366.2 848.4h1.3M349.9 819.2h1.3M363.1 808.6h1.3M319.5 866.6h1.3M332.6 863.5h1.3M345.0 832.1h1.3M337.4 842.6h1.3M358.3 834.3h1.3M352.2 861.0h1.3M340.6 851.0h1.3M368.9 803.4h1.3M333.6 827.3h1.3M347.6 832.1h1.3M357.8 843.3h1.3M361.2 852.4h1.3M351.8 834.6h1.3M348.3 841.6h1.3M363.2 808.5h1.3M335.1 852.5h1.3M364.4 813.3h1.3M342.0 851.8h1.3M355.9 835.0h1.3M343.1 854.8h1.3M332.7 858.5h1.3M360.0 844.4h1.3M363.8 842.6h1.3M364.5 831.8h1.3M333.0 831.8h1.3M363.2 798.4h1.3M351.3 847.3h1.3M343.7 841.2h1.3M355.1 832.4h1.3M338.2 843.9h1.3M355.6 799.4h1.3M341.0 852.6h1.3M351.5 838.9h1.3M374.3 807.9h1.3M350.8 836.2h1.3M356.9 814.8h1.3M341.8 827.7h1.3M352.6 826.5h1.3M340.4 864.9h1.3M371.2 791.2h1.3M354.7 855.7h1.3M354.6 828.4h1.3M370.5 807.5h1.3M360.2 789.8h1.3M345.7 843.5h1.3M341.3 826.7h1.3M340.1 824.2h1.3M343.2 845.5h1.3M355.0 830.9h1.3M346.8 851.6h1.3M351.7 828.5h1.3M345.8 832.6h1.3M376.9 803.1h1.3M363.7 834.5h1.3M338.3 850.9h1.3M351.3 843.2h1.3M339.3 838.3h1.3M328.1 861.5h1.3M361.9 817.7h1.3M342.0 843.2h1.3M349.0 838.5h1.3M346.6 842.6h1.3M364.4 822.5h1.3M343.0 848.1h1.3M340.0 848.7h1.3M346.4 835.8h1.3M346.8 819.6h1.3M359.6 829.7h1.3M344.6 840.2h1.3M351.7 821.4h1.3M349.1 842.4h1.3M357.1 832.1h1.3M335.1 861.4h1.3M358.5 828.0h1.3M341.2 845.4h1.3M364.8 805.0h1.3M348.4 805.2h1.3M348.7 824.4h1.3M357.0 849.6h1.3M333.1 853.0h1.3M342.2 848.2h1.3M353.9 835.9h1.3M364.3 811.5h1.3M373.7 803.0h1.3M353.2 823.4h1.3M358.6 806.1h1.3M358.4 815.1h1.3M351.3 848.6h1.3M358.3 822.2h1.3M360.0 813.3h1.3M344.8 850.0h1.3M356.9 793.8h1.3M353.4 860.4h1.3M343.3 828.4h1.3M341.4 832.9h1.3M362.1 828.4h1.3M369.1 814.2h1.3M360.2 839.4h1.3M342.9 820.6h1.3M353.5 804.3h1.3M331.7 841.4h1.3M324.9 844.2h1.3M332.7 856.9h1.3M337.0 857.6h1.3M353.8 817.8h1.3M363.2 830.1h1.3M358.0 852.4h1.3M349.2 835.7h1.3M364.8 832.5h1.3M348.2 862.7h1.3M346.9 845.1h1.3M319.7 846.5h1.3M366.2 814.0h1.3M333.5 853.1h1.3M339.9 859.1h1.3M365.5 793.2h1.3M328.8 847.7h1.3M353.1 827.1h1.3M357.6 834.0h1.3M339.6 808.3h1.3M361.4 835.6h1.3M351.1 806.3h1.3M325.4 868.0h1.3M351.4 826.4h1.3M355.1 817.8h1.3M329.9 856.8h1.3M355.3 842.7h1.3M353.4 801.6h1.3M353.0 825.8h1.3M330.2 854.3h1.3M358.9 801.9h1.3M353.3 838.4h1.3M359.0 830.1h1.3M340.1 849.9h1.3M355.1 831.1h1.3M329.2 843.8h1.3M364.5 820.5h1.3M356.7 815.4h1.3M369.2 795.1h1.3M337.8 824.2h1.3M353.3 851.5h1.3M351.6 827.8h1.3M366.5 812.2h1.3M353.0 823.3h1.3M362.5 830.1h1.3M341.6 824.2h1.3M346.1 837.6h1.3M364.5 831.0h1.3M345.6 834.9h1.3M360.2 821.7h1.3M347.7 852.4h1.3M354.6 832.4h1.3M320.2 858.9h1.3M323.0 859.5h1.3M366.7 818.8h1.3M352.3 866.3h1.3M333.7 855.1h1.3M356.4 786.7h1.3M362.9 823.7h1.3M364.9 814.9h1.3M365.5 835.3h1.3M350.2 836.9h1.3M350.3 825.7h1.3M359.4 842.2h1.3M368.6 804.3h1.3M344.8 835.4h1.3M343.7 841.5h1.3M345.7 843.6h1.3M357.7 843.2h1.3M334.9 862.1h1.3M353.2 817.0h1.3M351.6 845.2h1.3M341.0 833.1h1.3M356.9 834.1h1.3M341.4 862.3h1.3M358.7 839.4h1.3M345.8 834.9h1.3M345.9 850.7h1.3M355.8 842.8h1.3M364.4 830.9h1.3M357.5 821.1h1.3M355.1 838.3h1.3M344.8 814.6h1.3M350.3 825.5h1.3M359.8 831.1h1.3M343.2 808.4h1.3M352.2 830.3h1.3M353.5 849.4h1.3M358.0 816.2h1.3M374.5 811.4h1.3M359.3 833.6h1.3M372.5 823.1h1.3M362.9 820.8h1.3M357.7 834.8h1.3M362.6 802.5h1.3M341.1 833.3h1.3M367.9 781.4h1.3M341.3 842.7h1.3M363.2 811.9h1.3M365.0 797.3h1.3M376.6 842.4h1.3M346.7 838.7h1.3M376.9 830.2h1.3M340.0 819.9h1.3M347.4 836.7h1.3M353.5 818.0h1.3M340.5 827.2h1.3M340.8 860.2h1.3M355.5 797.9h1.3M360.7 829.4h1.3M351.4 838.7h1.3M349.9 836.2h1.3M361.7 796.8h1.3M347.5 842.4h1.3M363.9 844.0h1.3M352.8 839.0h1.3M345.4 861.1h1.3M361.7 823.6h1.3M332.2 864.5h1.3M364.2 842.1h1.3M375.4 799.0h1.3M343.6 846.5h1.3M340.0 811.5h1.3M375.0 811.5h1.3M355.4 815.7h1.3M339.7 821.3h1.3M339.0 852.0h1.3M359.1 855.5h1.3M333.3 816.6h1.3M364.5 812.8h1.3M342.5 836.5h1.3M369.7 793.2h1.3M338.8 823.3h1.3M353.8 849.2h1.3M347.8 830.1h1.3M334.2 835.0h1.3M325.0 858.2h1.3M361.4 831.3h1.3M357.4 845.3h1.3M323.5 822.4h1.3M354.4 797.5h1.3M361.1 801.3h1.3M345.9 834.2h1.3M347.6 857.0h1.3M375.7 805.0h1.3M350.4 847.5h1.3M364.3 815.1h1.3M357.9 868.1h1.3M337.2 846.6h1.3M353.8 832.4h1.3M334.5 841.1h1.3M340.5 859.4h1.3M357.8 822.0h1.3M344.6 827.2h1.3M353.9 849.0h1.3M360.3 850.6h1.3M365.0 816.1h1.3M340.4 836.0h1.3M340.8 834.2h1.3M344.4 840.6h1.3M355.9 849.9h1.3M322.2 853.1h1.3M347.7 847.7h1.3M337.1 845.7h1.3M343.1 860.2h1.3M336.4 855.9h1.3M349.5 849.9h1.3M342.5 837.4h1.3M311.7 855.8h1.3M336.2 845.8h1.3M345.9 841.5h1.3M324.8 852.1h1.3M343.8 851.8h1.3M341.4 861.7h1.3M321.1 849.6h1.3M334.2 852.7h1.3M337.1 855.3h1.3M317.2 866.0h1.3M341.4 856.6h1.3M333.4 846.0h1.3M326.9 844.7h1.3M331.8 852.4h1.3M330.3 860.4h1.3M347.9 845.0h1.3M325.7 847.8h1.3M323.8 852.4h1.3M335.9 859.5h1.3M342.4 862.2h1.3M339.5 852.3h1.3M331.2 841.2h1.3M330.9 848.5h1.3M332.0 854.0h1.3M331.2 854.3h1.3M339.3 853.1h1.3M331.1 863.3h1.3M336.4 855.2h1.3M359.1 854.1h1.3M356.1 838.3h1.3M340.6 853.9h1.3M334.8 851.4h1.3M347.6 855.9h1.3M355.1 836.2h1.3M336.2 845.0h1.3M322.1 838.3h1.3M350.0 829.3h1.3M328.4 840.1h1.3M326.8 847.9h1.3M308.4 858.3h1.3M331.5 853.5h1.3M326.5 847.1h1.3M347.3 839.1h1.3M342.7 862.1h1.3M334.5 851.9h1.3M342.6 844.3h1.3M334.4 851.6h1.3M333.3 860.5h1.3M342.8 861.2h1.3M332.7 840.9h1.3M337.3 848.7h1.3M335.5 861.2h1.3M332.2 839.5h1.3M354.6 840.0h1.3M316.0 860.5h1.3M334.8 842.3h1.3M318.2 845.8h1.3M335.0 847.7h1.3M351.2 845.8h1.3M334.3 847.3h1.3M338.9 837.6h1.3M339.1 854.7h1.3M321.4 849.5h1.3M353.5 858.7h1.3M345.6 863.4h1.3M338.3 849.0h1.3M325.2 847.0h1.3M341.5 843.6h1.3M329.1 859.4h1.3M336.3 845.0h1.3M335.8 850.7h1.3M335.1 851.2h1.3M320.1 838.7h1.3M332.8 864.8h1.3M331.5 856.2h1.3M336.5 842.4h1.3M333.9 850.7h1.3M340.4 855.0h1.3M334.1 851.1h1.3M344.6 848.2h1.3M336.6 846.2h1.3M329.8 846.8h1.3M329.7 842.0h1.3M346.5 850.2h1.3M325.8 862.5h1.3M316.9 858.0h1.3M326.5 863.8h1.3M336.0 839.5h1.3M338.0 855.4h1.3M348.3 841.6h1.3M327.2 868.1h1.3M308.2 867.6h1.3M319.2 861.4h1.3M323.0 847.4h1.3M344.5 857.7h1.3M322.5 865.7h1.3M332.4 847.7h1.3M330.8 860.0h1.3M344.6 844.3h1.3M330.4 837.2h1.3M328.5 856.1h1.3M332.2 856.8h1.3M327.4 862.8h1.3M327.4 855.7h1.3M346.2 858.5h1.3M323.0 858.4h1.3M323.5 859.4h1.3M323.1 848.2h1.3M347.0 848.7h1.3M339.3 862.2h1.3M318.5 865.6h1.3M349.2 840.8h1.3M321.7 852.7h1.3M351.0 853.0h1.3M341.0 857.5h1.3M325.4 854.3h1.3M338.7 841.5h1.3M336.0 851.5h1.3M325.8 859.5h1.3M318.0 856.2h1.3M308.1 856.1h1.3M326.1 860.8h1.3M328.9 844.2h1.3M336.2 855.3h1.3M309.7 862.2h1.3M339.9 836.2h1.3M321.4 853.2h1.3M334.7 857.9h1.3M318.2 868.2h1.3M302.6 862.5h1.3M333.2 842.4h1.3M322.7 854.3h1.3M346.2 836.3h1.3M351.5 860.8h1.3M326.3 849.6h1.3M329.5 846.0h1.3M325.3 847.8h1.3M311.5 850.8h1.3M340.3 842.7h1.3M325.6 867.4h1.3M330.1 851.6h1.3M325.4 857.5h1.3M328.3 851.8h1.3M334.6 859.4h1.3M336.5 863.3h1.3M339.4 839.9h1.3M318.0 849.8h1.3M328.2 862.5h1.3M327.7 851.5h1.3M325.5 837.1h1.3M335.8 849.7h1.3M338.9 846.8h1.3M347.9 854.3h1.3M332.3 858.7h1.3M320.9 853.4h1.3M320.8 858.1h1.3M316.0 852.7h1.3M324.9 844.1h1.3M335.5 842.9h1.3M329.2 852.3h1.3M346.1 851.0h1.3M328.1 850.2h1.3M341.5 846.8h1.3M322.6 860.2h1.3M339.5 848.9h1.3M339.5 862.9h1.3M330.6 861.4h1.3M356.3 855.3h1.3M323.1 863.6h1.3M350.5 852.3h1.3M347.7 849.7h1.3M318.4 868.6h1.3M342.0 849.6h1.3M343.6 846.7h1.3M342.6 849.8h1.3M329.4 864.2h1.3M329.8 860.8h1.3M323.2 860.9h1.3M343.5 857.7h1.3M319.6 855.7h1.3M328.9 845.8h1.3M349.0 865.8h1.3M342.8 853.2h1.3M326.8 861.9h1.3M346.7 863.4h1.3M334.5 863.7h1.3M328.4 853.1h1.3M329.9 857.5h1.3M316.1 859.4h1.3M341.5 831.3h1.3M345.6 853.0h1.3M325.6 850.1h1.3M343.8 843.6h1.3M335.6 849.6h1.3M325.7 867.0h1.3M336.4 842.4h1.3M339.8 837.5h1.3M323.3 866.7h1.3M328.7 855.6h1.3M345.6 835.8h1.3M338.1 846.4h1.3M333.4 850.8h1.3M325.2 858.1h1.3M323.7 858.7h1.3M322.1 856.8h1.3M329.0 842.4h1.3M335.4 858.2h1.3M338.3 858.7h1.3M325.2 863.1h1.3M325.5 831.8h1.3M336.7 859.1h1.3M332.7 853.6h1.3M331.3 852.7h1.3M319.6 854.5h1.3M334.0 854.6h1.3M341.9 852.7h1.3M326.2 842.4h1.3M340.4 855.0h1.3M320.3 856.0h1.3M332.9 845.9h1.3M342.7 840.4h1.3M324.1 847.5h1.3M342.2 859.8h1.3M335.4 851.6h1.3M332.7 860.7h1.3M340.3 865.2h1.3M328.9 851.9h1.3M320.1 842.8h1.3M336.2 852.5h1.3M311.9 854.4h1.3M320.8 857.2h1.3M325.7 864.4h1.3M343.1 841.2h1.3M329.2 845.4h1.3M342.7 837.4h1.3M325.0 857.8h1.3M330.3 852.4h1.3M356.0 805.7h1.3M356.0 799.2h1.3M363.0 774.4h1.3M359.9 783.2h1.3M362.1 773.9h1.3M355.2 805.0h1.3M365.3 770.9h1.3M356.2 803.7h1.3M359.4 802.0h1.3M359.9 801.7h1.3M368.7 778.0h1.3M370.6 768.3h1.3M377.8 764.9h1.3M364.5 796.3h1.3M356.6 801.6h1.3M356.5 790.6h1.3M362.5 785.8h1.3M375.7 761.8h1.3M356.4 793.2h1.3M354.9 797.6h1.3M357.8 802.1h1.3M353.0 810.7h1.3M360.5 782.2h1.3M353.1 806.8h1.3M361.3 776.3h1.3M359.6 764.0h1.3M360.9 804.1h1.3M366.9 769.9h1.3M351.7 815.3h1.3M353.1 803.2h1.3M356.2 795.3h1.3M362.1 791.6h1.3M349.9 791.8h1.3M345.7 788.6h1.3M359.4 788.9h1.3M368.8 808.7h1.3M377.2 768.0h1.3M359.7 786.5h1.3M373.0 786.7h1.3M360.1 791.8h1.3M358.2 799.4h1.3M360.4 776.3h1.3M367.4 774.9h1.3M373.5 757.2h1.3M362.1 769.7h1.3M373.9 754.2h1.3M369.6 794.6h1.3M355.3 786.0h1.3M367.6 782.4h1.3M358.8 790.0h1.3M363.1 818.2h1.3M361.4 797.9h1.3M355.0 796.9h1.3M357.9 784.7h1.3M357.0 773.4h1.3M371.2 783.7h1.3M360.6 797.7h1.3M363.1 777.2h1.3M359.4 793.7h1.3M370.3 747.8h1.3M358.2 792.3h1.3M353.6 797.1h1.3M359.2 800.7h1.3M376.5 775.9h1.3M349.7 808.1h1.3M355.9 789.2h1.3M356.5 801.8h1.3M354.0 797.5h1.3M358.2 785.8h1.3M362.1 795.2h1.3M366.3 780.1h1.3M367.8 774.3h1.3M362.7 815.5h1.3M380.2 748.9h1.3M375.7 768.3h1.3M363.0 798.3h1.3M355.0 799.8h1.3M364.9 782.1h1.3M350.4 797.8h1.3M365.6 778.3h1.3M357.4 786.6h1.3M357.6 802.1h1.3M359.4 820.8h1.3M367.9 792.1h1.3M363.1 774.9h1.3M357.8 780.6h1.3M364.7 806.6h1.3M354.7 797.0h1.3M364.1 783.3h1.3M359.2 773.3h1.3M354.3 792.3h1.3M360.3 789.5h1.3M347.2 801.4h1.3M360.3 812.6h1.3M353.7 793.9h1.3M356.2 785.7h1.3M371.1 778.1h1.3M358.6 788.7h1.3M355.5 818.9h1.3M372.8 760.1h1.3M363.6 800.0h1.3M352.9 794.0h1.3M364.6 793.1h1.3M358.6 819.9h1.3M369.6 765.7h1.3M351.3 795.0h1.3M362.8 781.7h1.3M376.5 774.8h1.3M368.8 771.9h1.3M360.3 820.3h1.3M356.6 796.8h1.3M369.7 775.0h1.3M354.7 805.5h1.3M359.5 794.4h1.3M364.4 810.9h1.3M364.8 793.5h1.3M379.2 778.3h1.3M361.2 778.1h1.3M364.5 798.5h1.3M361.6 762.7h1.3M368.0 760.3h1.3M358.4 792.4h1.3M363.6 781.0h1.3M356.3 789.2h1.3M371.0 768.9h1.3M373.6 794.9h1.3M372.8 783.0h1.3M361.3 794.6h1.3M366.0 794.2h1.3M353.6 782.8h1.3M283.4 832.9h1.3M276.9 829.8h1.3M277.3 822.8h1.3M281.5 825.9h1.3M280.4 819.2h1.3M276.5 822.5h1.3M286.0 823.9h1.3M283.0 835.7h1.3M275.7 834.0h1.3M289.3 827.2h1.3M277.7 805.5h1.3M289.6 823.1h1.3M278.8 797.8h1.3M274.5 820.6h1.3M280.7 810.6h1.3M291.4 838.3h1.3M275.5 835.6h1.3M279.5 813.0h1.3M277.5 848.2h1.3M285.2 846.4h1.3M281.0 821.0h1.3M276.2 821.8h1.3M280.4 837.1h1.3M275.7 817.8h1.3M281.0 832.4h1.3M285.6 841.2h1.3M275.9 828.4h1.3M275.0 817.1h1.3M275.3 836.6h1.3M286.7 841.9h1.3M287.3 848.4h1.3M279.7 810.6h1.3M284.6 820.8h1.3M280.7 838.9h1.3M289.1 832.6h1.3M282.8 849.6h1.3M301.0 752.0h1.3M324.0 749.0h1.3M308.0 764.0h1.3M309.0 781.0h1.3M330.0 790.0h1.3M283.0 812.0h1.3" stroke="#000" stroke-width="1.3" fill="none" opacity="0.93"/>
<rect x="272.9" y="717.9" width="184.6" height="153.4" fill="none" stroke="#000" stroke-width="1.2"/>
<line x1="336" y1="865.2" x2="359" y2="745.5" stroke="#000" stroke-width="1.35" stroke-linecap="butt"/>
<line x1="269.9" y1="871" x2="272.9" y2="871" stroke="#000" stroke-width="0.9" stroke-linecap="butt"/>
<text transform="translate(266.9 870.6) scale(1 1) rotate(-90)" font-size="7.7" font-weight="normal" text-anchor="middle" fill="#000">0</text>
<line x1="269.9" y1="841.2" x2="272.9" y2="841.2" stroke="#000" stroke-width="0.9" stroke-linecap="butt"/>
<text transform="translate(266.9 841.2) scale(1 1) rotate(-90)" font-size="7.7" font-weight="normal" text-anchor="middle" fill="#000">200</text>
<line x1="269.9" y1="811.4" x2="272.9" y2="811.4" stroke="#000" stroke-width="0.9" stroke-linecap="butt"/>
<text transform="translate(266.9 811.4) scale(1 1) rotate(-90)" font-size="7.7" font-weight="normal" text-anchor="middle" fill="#000">400</text>
<line x1="269.9" y1="781.6" x2="272.9" y2="781.6" stroke="#000" stroke-width="0.9" stroke-linecap="butt"/>
<text transform="translate(266.9 781.6) scale(1 1) rotate(-90)" font-size="7.7" font-weight="normal" text-anchor="middle" fill="#000">600</text>
<line x1="269.9" y1="751.8" x2="272.9" y2="751.8" stroke="#000" stroke-width="0.9" stroke-linecap="butt"/>
<text transform="translate(266.9 751.8) scale(1 1) rotate(-90)" font-size="7.7" font-weight="normal" text-anchor="middle" fill="#000">800</text>
<line x1="269.9" y1="722" x2="272.9" y2="722" stroke="#000" stroke-width="0.9" stroke-linecap="butt"/>
<text transform="translate(266.9 722) scale(1 1) rotate(-90)" font-size="7.7" font-weight="normal" text-anchor="middle" fill="#000">1000</text>
<line x1="271.4" y1="869.51" x2="272.9" y2="869.51" stroke="#111" stroke-width="0.75" stroke-linecap="butt"/>
<line x1="271.4" y1="868.02" x2="272.9" y2="868.02" stroke="#111" stroke-width="0.75" stroke-linecap="butt"/>
<line x1="271.4" y1="866.53" x2="272.9" y2="866.53" stroke="#111" stroke-width="0.75" stroke-linecap="butt"/>
<line x1="271.4" y1="865.04" x2="272.9" y2="865.04" stroke="#111" stroke-width="0.75" stroke-linecap="butt"/>
<line x1="271.4" y1="863.55" x2="272.9" y2="863.55" stroke="#111" stroke-width="0.75" stroke-linecap="butt"/>
<line x1="271.4" y1="862.06" x2="272.9" y2="862.06" stroke="#111" stroke-width="0.75" stroke-linecap="butt"/>
<line x1="271.4" y1="860.57" x2="272.9" y2="860.57" stroke="#111" stroke-width="0.75" stroke-linecap="butt"/>
<line x1="271.4" y1="859.08" x2="272.9" y2="859.08" stroke="#111" stroke-width="0.75" stroke-linecap="butt"/>
<line x1="271.4" y1="857.59" x2="272.9" y2="857.59" stroke="#111" stroke-width="0.75" stroke-linecap="butt"/>
<line x1="270.9" y1="856.1" x2="272.9" y2="856.1" stroke="#111" stroke-width="0.75" stroke-linecap="butt"/>
<line x1="271.4" y1="854.61" x2="272.9" y2="854.61" stroke="#111" stroke-width="0.75" stroke-linecap="butt"/>
<line x1="271.4" y1="853.12" x2="272.9" y2="853.12" stroke="#111" stroke-width="0.75" stroke-linecap="butt"/>
<line x1="271.4" y1="851.63" x2="272.9" y2="851.63" stroke="#111" stroke-width="0.75" stroke-linecap="butt"/>
<line x1="271.4" y1="850.14" x2="272.9" y2="850.14" stroke="#111" stroke-width="0.75" stroke-linecap="butt"/>
<line x1="271.4" y1="848.65" x2="272.9" y2="848.65" stroke="#111" stroke-width="0.75" stroke-linecap="butt"/>
<line x1="271.4" y1="847.16" x2="272.9" y2="847.16" stroke="#111" stroke-width="0.75" stroke-linecap="butt"/>
<line x1="271.4" y1="845.67" x2="272.9" y2="845.67" stroke="#111" stroke-width="0.75" stroke-linecap="butt"/>
<line x1="271.4" y1="844.18" x2="272.9" y2="844.18" stroke="#111" stroke-width="0.75" stroke-linecap="butt"/>
<line x1="271.4" y1="842.69" x2="272.9" y2="842.69" stroke="#111" stroke-width="0.75" stroke-linecap="butt"/>
<line x1="271.4" y1="839.71" x2="272.9" y2="839.71" stroke="#111" stroke-width="0.75" stroke-linecap="butt"/>
<line x1="271.4" y1="838.22" x2="272.9" y2="838.22" stroke="#111" stroke-width="0.75" stroke-linecap="butt"/>
<line x1="271.4" y1="836.73" x2="272.9" y2="836.73" stroke="#111" stroke-width="0.75" stroke-linecap="butt"/>
<line x1="271.4" y1="835.24" x2="272.9" y2="835.24" stroke="#111" stroke-width="0.75" stroke-linecap="butt"/>
<line x1="271.4" y1="833.75" x2="272.9" y2="833.75" stroke="#111" stroke-width="0.75" stroke-linecap="butt"/>
<line x1="271.4" y1="832.26" x2="272.9" y2="832.26" stroke="#111" stroke-width="0.75" stroke-linecap="butt"/>
<line x1="271.4" y1="830.77" x2="272.9" y2="830.77" stroke="#111" stroke-width="0.75" stroke-linecap="butt"/>
<line x1="271.4" y1="829.28" x2="272.9" y2="829.28" stroke="#111" stroke-width="0.75" stroke-linecap="butt"/>
<line x1="271.4" y1="827.79" x2="272.9" y2="827.79" stroke="#111" stroke-width="0.75" stroke-linecap="butt"/>
<line x1="270.9" y1="826.3" x2="272.9" y2="826.3" stroke="#111" stroke-width="0.75" stroke-linecap="butt"/>
<line x1="271.4" y1="824.81" x2="272.9" y2="824.81" stroke="#111" stroke-width="0.75" stroke-linecap="butt"/>
<line x1="271.4" y1="823.32" x2="272.9" y2="823.32" stroke="#111" stroke-width="0.75" stroke-linecap="butt"/>
<line x1="271.4" y1="821.83" x2="272.9" y2="821.83" stroke="#111" stroke-width="0.75" stroke-linecap="butt"/>
<line x1="271.4" y1="820.34" x2="272.9" y2="820.34" stroke="#111" stroke-width="0.75" stroke-linecap="butt"/>
<line x1="271.4" y1="818.85" x2="272.9" y2="818.85" stroke="#111" stroke-width="0.75" stroke-linecap="butt"/>
<line x1="271.4" y1="817.36" x2="272.9" y2="817.36" stroke="#111" stroke-width="0.75" stroke-linecap="butt"/>
<line x1="271.4" y1="815.87" x2="272.9" y2="815.87" stroke="#111" stroke-width="0.75" stroke-linecap="butt"/>
<line x1="271.4" y1="814.38" x2="272.9" y2="814.38" stroke="#111" stroke-width="0.75" stroke-linecap="butt"/>
<line x1="271.4" y1="812.89" x2="272.9" y2="812.89" stroke="#111" stroke-width="0.75" stroke-linecap="butt"/>
<line x1="271.4" y1="809.91" x2="272.9" y2="809.91" stroke="#111" stroke-width="0.75" stroke-linecap="butt"/>
<line x1="271.4" y1="808.42" x2="272.9" y2="808.42" stroke="#111" stroke-width="0.75" stroke-linecap="butt"/>
<line x1="271.4" y1="806.93" x2="272.9" y2="806.93" stroke="#111" stroke-width="0.75" stroke-linecap="butt"/>
<line x1="271.4" y1="805.44" x2="272.9" y2="805.44" stroke="#111" stroke-width="0.75" stroke-linecap="butt"/>
<line x1="271.4" y1="803.95" x2="272.9" y2="803.95" stroke="#111" stroke-width="0.75" stroke-linecap="butt"/>
<line x1="271.4" y1="802.46" x2="272.9" y2="802.46" stroke="#111" stroke-width="0.75" stroke-linecap="butt"/>
<line x1="271.4" y1="800.97" x2="272.9" y2="800.97" stroke="#111" stroke-width="0.75" stroke-linecap="butt"/>
<line x1="271.4" y1="799.48" x2="272.9" y2="799.48" stroke="#111" stroke-width="0.75" stroke-linecap="butt"/>
<line x1="271.4" y1="797.99" x2="272.9" y2="797.99" stroke="#111" stroke-width="0.75" stroke-linecap="butt"/>
<line x1="270.9" y1="796.5" x2="272.9" y2="796.5" stroke="#111" stroke-width="0.75" stroke-linecap="butt"/>
<line x1="271.4" y1="795.01" x2="272.9" y2="795.01" stroke="#111" stroke-width="0.75" stroke-linecap="butt"/>
<line x1="271.4" y1="793.52" x2="272.9" y2="793.52" stroke="#111" stroke-width="0.75" stroke-linecap="butt"/>
<line x1="271.4" y1="792.03" x2="272.9" y2="792.03" stroke="#111" stroke-width="0.75" stroke-linecap="butt"/>
<line x1="271.4" y1="790.54" x2="272.9" y2="790.54" stroke="#111" stroke-width="0.75" stroke-linecap="butt"/>
<line x1="271.4" y1="789.05" x2="272.9" y2="789.05" stroke="#111" stroke-width="0.75" stroke-linecap="butt"/>
<line x1="271.4" y1="787.56" x2="272.9" y2="787.56" stroke="#111" stroke-width="0.75" stroke-linecap="butt"/>
<line x1="271.4" y1="786.07" x2="272.9" y2="786.07" stroke="#111" stroke-width="0.75" stroke-linecap="butt"/>
<line x1="271.4" y1="784.58" x2="272.9" y2="784.58" stroke="#111" stroke-width="0.75" stroke-linecap="butt"/>
<line x1="271.4" y1="783.09" x2="272.9" y2="783.09" stroke="#111" stroke-width="0.75" stroke-linecap="butt"/>
<line x1="271.4" y1="780.11" x2="272.9" y2="780.11" stroke="#111" stroke-width="0.75" stroke-linecap="butt"/>
<line x1="271.4" y1="778.62" x2="272.9" y2="778.62" stroke="#111" stroke-width="0.75" stroke-linecap="butt"/>
<line x1="271.4" y1="777.13" x2="272.9" y2="777.13" stroke="#111" stroke-width="0.75" stroke-linecap="butt"/>
<line x1="271.4" y1="775.64" x2="272.9" y2="775.64" stroke="#111" stroke-width="0.75" stroke-linecap="butt"/>
<line x1="271.4" y1="774.15" x2="272.9" y2="774.15" stroke="#111" stroke-width="0.75" stroke-linecap="butt"/>
<line x1="271.4" y1="772.66" x2="272.9" y2="772.66" stroke="#111" stroke-width="0.75" stroke-linecap="butt"/>
<line x1="271.4" y1="771.17" x2="272.9" y2="771.17" stroke="#111" stroke-width="0.75" stroke-linecap="butt"/>
<line x1="271.4" y1="769.68" x2="272.9" y2="769.68" stroke="#111" stroke-width="0.75" stroke-linecap="butt"/>
<line x1="271.4" y1="768.19" x2="272.9" y2="768.19" stroke="#111" stroke-width="0.75" stroke-linecap="butt"/>
<line x1="270.9" y1="766.7" x2="272.9" y2="766.7" stroke="#111" stroke-width="0.75" stroke-linecap="butt"/>
<line x1="271.4" y1="765.21" x2="272.9" y2="765.21" stroke="#111" stroke-width="0.75" stroke-linecap="butt"/>
<line x1="271.4" y1="763.72" x2="272.9" y2="763.72" stroke="#111" stroke-width="0.75" stroke-linecap="butt"/>
<line x1="271.4" y1="762.23" x2="272.9" y2="762.23" stroke="#111" stroke-width="0.75" stroke-linecap="butt"/>
<line x1="271.4" y1="760.74" x2="272.9" y2="760.74" stroke="#111" stroke-width="0.75" stroke-linecap="butt"/>
<line x1="271.4" y1="759.25" x2="272.9" y2="759.25" stroke="#111" stroke-width="0.75" stroke-linecap="butt"/>
<line x1="271.4" y1="757.76" x2="272.9" y2="757.76" stroke="#111" stroke-width="0.75" stroke-linecap="butt"/>
<line x1="271.4" y1="756.27" x2="272.9" y2="756.27" stroke="#111" stroke-width="0.75" stroke-linecap="butt"/>
<line x1="271.4" y1="754.78" x2="272.9" y2="754.78" stroke="#111" stroke-width="0.75" stroke-linecap="butt"/>
<line x1="271.4" y1="753.29" x2="272.9" y2="753.29" stroke="#111" stroke-width="0.75" stroke-linecap="butt"/>
<line x1="271.4" y1="750.31" x2="272.9" y2="750.31" stroke="#111" stroke-width="0.75" stroke-linecap="butt"/>
<line x1="271.4" y1="748.82" x2="272.9" y2="748.82" stroke="#111" stroke-width="0.75" stroke-linecap="butt"/>
<line x1="271.4" y1="747.33" x2="272.9" y2="747.33" stroke="#111" stroke-width="0.75" stroke-linecap="butt"/>
<line x1="271.4" y1="745.84" x2="272.9" y2="745.84" stroke="#111" stroke-width="0.75" stroke-linecap="butt"/>
<line x1="271.4" y1="744.35" x2="272.9" y2="744.35" stroke="#111" stroke-width="0.75" stroke-linecap="butt"/>
<line x1="271.4" y1="742.86" x2="272.9" y2="742.86" stroke="#111" stroke-width="0.75" stroke-linecap="butt"/>
<line x1="271.4" y1="741.37" x2="272.9" y2="741.37" stroke="#111" stroke-width="0.75" stroke-linecap="butt"/>
<line x1="271.4" y1="739.88" x2="272.9" y2="739.88" stroke="#111" stroke-width="0.75" stroke-linecap="butt"/>
<line x1="271.4" y1="738.39" x2="272.9" y2="738.39" stroke="#111" stroke-width="0.75" stroke-linecap="butt"/>
<line x1="270.9" y1="736.9" x2="272.9" y2="736.9" stroke="#111" stroke-width="0.75" stroke-linecap="butt"/>
<line x1="271.4" y1="735.41" x2="272.9" y2="735.41" stroke="#111" stroke-width="0.75" stroke-linecap="butt"/>
<line x1="271.4" y1="733.92" x2="272.9" y2="733.92" stroke="#111" stroke-width="0.75" stroke-linecap="butt"/>
<line x1="271.4" y1="732.43" x2="272.9" y2="732.43" stroke="#111" stroke-width="0.75" stroke-linecap="butt"/>
<line x1="271.4" y1="730.94" x2="272.9" y2="730.94" stroke="#111" stroke-width="0.75" stroke-linecap="butt"/>
<line x1="271.4" y1="729.45" x2="272.9" y2="729.45" stroke="#111" stroke-width="0.75" stroke-linecap="butt"/>
<line x1="271.4" y1="727.96" x2="272.9" y2="727.96" stroke="#111" stroke-width="0.75" stroke-linecap="butt"/>
<line x1="271.4" y1="726.47" x2="272.9" y2="726.47" stroke="#111" stroke-width="0.75" stroke-linecap="butt"/>
<line x1="271.4" y1="724.98" x2="272.9" y2="724.98" stroke="#111" stroke-width="0.75" stroke-linecap="butt"/>
<line x1="271.4" y1="723.49" x2="272.9" y2="723.49" stroke="#111" stroke-width="0.75" stroke-linecap="butt"/>
<line x1="271.4" y1="720.51" x2="272.9" y2="720.51" stroke="#111" stroke-width="0.75" stroke-linecap="butt"/>
<line x1="271.4" y1="719.02" x2="272.9" y2="719.02" stroke="#111" stroke-width="0.75" stroke-linecap="butt"/>
<line x1="273.1" y1="871.3" x2="273.1" y2="874.3" stroke="#000" stroke-width="0.9" stroke-linecap="butt"/>
<text x="269.5" y="885.6" font-size="8.4" text-anchor="start" fill="#111">10<tspan font-size="6" dy="-3.3">0</tspan></text>
<line x1="286.77" y1="871.3" x2="286.77" y2="873.1" stroke="#111" stroke-width="0.75" stroke-linecap="butt"/>
<line x1="294.76" y1="871.3" x2="294.76" y2="873.1" stroke="#111" stroke-width="0.75" stroke-linecap="butt"/>
<line x1="300.43" y1="871.3" x2="300.43" y2="873.1" stroke="#111" stroke-width="0.75" stroke-linecap="butt"/>
<line x1="304.83" y1="871.3" x2="304.83" y2="873.1" stroke="#111" stroke-width="0.75" stroke-linecap="butt"/>
<line x1="308.43" y1="871.3" x2="308.43" y2="873.1" stroke="#111" stroke-width="0.75" stroke-linecap="butt"/>
<line x1="311.47" y1="871.3" x2="311.47" y2="873.1" stroke="#111" stroke-width="0.75" stroke-linecap="butt"/>
<line x1="314.1" y1="871.3" x2="314.1" y2="873.1" stroke="#111" stroke-width="0.75" stroke-linecap="butt"/>
<line x1="316.42" y1="871.3" x2="316.42" y2="873.1" stroke="#111" stroke-width="0.75" stroke-linecap="butt"/>
<line x1="318.5" y1="871.3" x2="318.5" y2="874.3" stroke="#000" stroke-width="0.9" stroke-linecap="butt"/>
<text x="314.9" y="885.6" font-size="8.4" text-anchor="start" fill="#111">10<tspan font-size="6" dy="-3.3">1</tspan></text>
<line x1="332.17" y1="871.3" x2="332.17" y2="873.1" stroke="#111" stroke-width="0.75" stroke-linecap="butt"/>
<line x1="340.16" y1="871.3" x2="340.16" y2="873.1" stroke="#111" stroke-width="0.75" stroke-linecap="butt"/>
<line x1="345.83" y1="871.3" x2="345.83" y2="873.1" stroke="#111" stroke-width="0.75" stroke-linecap="butt"/>
<line x1="350.23" y1="871.3" x2="350.23" y2="873.1" stroke="#111" stroke-width="0.75" stroke-linecap="butt"/>
<line x1="353.83" y1="871.3" x2="353.83" y2="873.1" stroke="#111" stroke-width="0.75" stroke-linecap="butt"/>
<line x1="356.87" y1="871.3" x2="356.87" y2="873.1" stroke="#111" stroke-width="0.75" stroke-linecap="butt"/>
<line x1="359.5" y1="871.3" x2="359.5" y2="873.1" stroke="#111" stroke-width="0.75" stroke-linecap="butt"/>
<line x1="361.82" y1="871.3" x2="361.82" y2="873.1" stroke="#111" stroke-width="0.75" stroke-linecap="butt"/>
<line x1="363.9" y1="871.3" x2="363.9" y2="874.3" stroke="#000" stroke-width="0.9" stroke-linecap="butt"/>
<text x="360.3" y="885.6" font-size="8.4" text-anchor="start" fill="#111">10<tspan font-size="6" dy="-3.3">2</tspan></text>
<line x1="377.57" y1="871.3" x2="377.57" y2="873.1" stroke="#111" stroke-width="0.75" stroke-linecap="butt"/>
<line x1="385.56" y1="871.3" x2="385.56" y2="873.1" stroke="#111" stroke-width="0.75" stroke-linecap="butt"/>
<line x1="391.23" y1="871.3" x2="391.23" y2="873.1" stroke="#111" stroke-width="0.75" stroke-linecap="butt"/>
<line x1="395.63" y1="871.3" x2="395.63" y2="873.1" stroke="#111" stroke-width="0.75" stroke-linecap="butt"/>
<line x1="399.23" y1="871.3" x2="399.23" y2="873.1" stroke="#111" stroke-width="0.75" stroke-linecap="butt"/>
<line x1="402.27" y1="871.3" x2="402.27" y2="873.1" stroke="#111" stroke-width="0.75" stroke-linecap="butt"/>
<line x1="404.9" y1="871.3" x2="404.9" y2="873.1" stroke="#111" stroke-width="0.75" stroke-linecap="butt"/>
<line x1="407.22" y1="871.3" x2="407.22" y2="873.1" stroke="#111" stroke-width="0.75" stroke-linecap="butt"/>
<line x1="409.3" y1="871.3" x2="409.3" y2="874.3" stroke="#000" stroke-width="0.9" stroke-linecap="butt"/>
<text x="405.7" y="885.6" font-size="8.4" text-anchor="start" fill="#111">10<tspan font-size="6" dy="-3.3">3</tspan></text>
<line x1="422.97" y1="871.3" x2="422.97" y2="873.1" stroke="#111" stroke-width="0.75" stroke-linecap="butt"/>
<line x1="430.96" y1="871.3" x2="430.96" y2="873.1" stroke="#111" stroke-width="0.75" stroke-linecap="butt"/>
<line x1="436.63" y1="871.3" x2="436.63" y2="873.1" stroke="#111" stroke-width="0.75" stroke-linecap="butt"/>
<line x1="441.03" y1="871.3" x2="441.03" y2="873.1" stroke="#111" stroke-width="0.75" stroke-linecap="butt"/>
<line x1="444.63" y1="871.3" x2="444.63" y2="873.1" stroke="#111" stroke-width="0.75" stroke-linecap="butt"/>
<line x1="447.67" y1="871.3" x2="447.67" y2="873.1" stroke="#111" stroke-width="0.75" stroke-linecap="butt"/>
<line x1="450.3" y1="871.3" x2="450.3" y2="873.1" stroke="#111" stroke-width="0.75" stroke-linecap="butt"/>
<line x1="452.62" y1="871.3" x2="452.62" y2="873.1" stroke="#111" stroke-width="0.75" stroke-linecap="butt"/>
<line x1="454.7" y1="871.3" x2="454.7" y2="874.3" stroke="#000" stroke-width="0.9" stroke-linecap="butt"/>
<text x="451.1" y="885.6" font-size="8.4" text-anchor="start" fill="#111">10<tspan font-size="6" dy="-3.3">4</tspan></text>
<text transform="translate(316.5 706.3) scale(1 1)" font-size="18" font-weight="bold" text-anchor="start" fill="#000" textLength="90.5" lengthAdjust="spacingAndGlyphs">SMA-ZnPP</text>
<text transform="translate(251.9 801.8) scale(1.05 1) rotate(-90)" font-size="16.3" font-weight="bold" text-anchor="start" fill="#000" textLength="33.5" lengthAdjust="spacingAndGlyphs">SSC</text>
<text transform="translate(303.5 907) scale(0.92 1)" font-size="13.5" font-weight="bold" text-anchor="start" fill="#000" textLength="141.85" lengthAdjust="spacingAndGlyphs">FL1-H: annexinV-FITC</text>
</g>
</svg></body></html>
